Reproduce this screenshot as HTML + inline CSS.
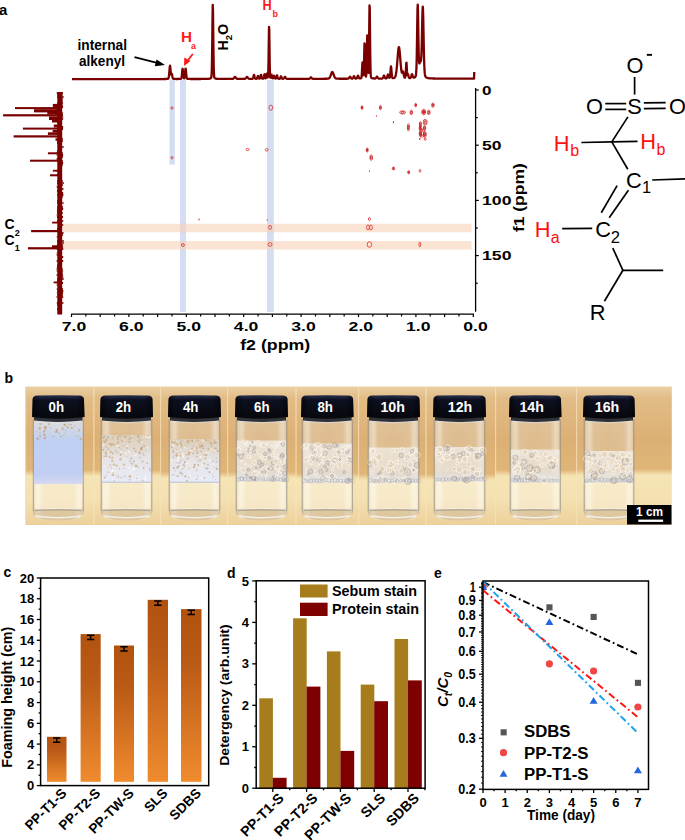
<!DOCTYPE html>
<html><head><meta charset="utf-8"><style>
html,body{margin:0;padding:0;background:#fff;width:685px;height:840px;overflow:hidden}
svg{display:block;font-family:"Liberation Sans", sans-serif}
</style></head><body>
<svg width="685" height="840" viewBox="0 0 685 840">
<text x="-1.00" y="15.00" font-size="15" font-weight="bold" fill="#000" text-anchor="start" >a</text>
<rect x="169.5" y="80" width="5.4" height="84.5" fill="#d5ddf2"/>
<rect x="180" y="80" width="6" height="232" fill="#d5ddf2"/>
<rect x="267" y="80" width="6.8" height="232" fill="#d5ddf2"/>
<rect x="63" y="223.8" width="408.6" height="8.5" fill="#f8d2b6" fill-opacity="0.6"/>
<rect x="63" y="241" width="408.6" height="8.6" fill="#f8d2b6" fill-opacity="0.6"/>
<polyline fill="none" stroke="#7a0000" stroke-width="2.3" stroke-linejoin="round" points="72.00,79.20 72.25,79.20 72.50,79.20 72.75,79.20 73.00,79.20 73.25,79.20 73.50,79.20 73.75,79.20 74.00,79.20 74.25,79.20 74.50,79.20 74.75,79.19 75.00,79.19 75.25,79.19 75.50,79.19 75.75,79.19 76.00,79.19 76.25,79.19 76.50,79.19 76.75,79.19 77.00,79.19 77.25,79.19 77.50,79.19 77.75,79.19 78.00,79.19 78.25,79.19 78.50,79.19 78.75,79.19 79.00,79.19 79.25,79.19 79.50,79.19 79.75,79.19 80.00,79.19 80.25,79.19 80.50,79.19 80.75,79.19 81.00,79.19 81.25,79.19 81.50,79.18 81.75,79.18 82.00,79.18 82.25,79.18 82.50,79.18 82.75,79.18 83.00,79.18 83.25,79.18 83.50,79.18 83.75,79.18 84.00,79.18 84.25,79.18 84.50,79.18 84.75,79.18 85.00,79.18 85.25,79.18 85.50,79.18 85.75,79.18 86.00,79.18 86.25,79.18 86.50,79.18 86.75,79.18 87.00,79.18 87.25,79.18 87.50,79.18 87.75,79.18 88.00,79.17 88.25,79.17 88.50,79.17 88.75,79.17 89.00,79.17 89.25,79.17 89.50,79.17 89.75,79.17 90.00,79.17 90.25,79.17 90.50,79.17 90.75,79.17 91.00,79.17 91.25,79.17 91.50,79.17 91.75,79.17 92.00,79.17 92.25,79.17 92.50,79.17 92.75,79.17 93.00,79.17 93.25,79.17 93.50,79.17 93.75,79.17 94.00,79.17 94.25,79.17 94.50,79.16 94.75,79.16 95.00,79.16 95.25,79.16 95.50,79.16 95.75,79.16 96.00,79.16 96.25,79.16 96.50,79.16 96.75,79.16 97.00,79.16 97.25,79.16 97.50,79.16 97.75,79.16 98.00,79.16 98.25,79.16 98.50,79.16 98.75,79.16 99.00,79.16 99.25,79.16 99.50,79.16 99.75,79.16 100.00,79.16 100.25,79.16 100.50,79.16 100.75,79.16 101.00,79.16 101.25,79.15 101.50,79.15 101.75,79.15 102.00,79.15 102.25,79.15 102.50,79.15 102.75,79.15 103.00,79.15 103.25,79.15 103.50,79.15 103.75,79.15 104.00,79.15 104.25,79.15 104.50,79.15 104.75,79.15 105.00,79.15 105.25,79.15 105.50,79.15 105.75,79.15 106.00,79.15 106.25,79.15 106.50,79.15 106.75,79.15 107.00,79.15 107.25,79.15 107.50,79.15 107.75,79.14 108.00,79.14 108.25,79.14 108.50,79.14 108.75,79.14 109.00,79.14 109.25,79.14 109.50,79.14 109.75,79.14 110.00,79.14 110.25,79.14 110.50,79.14 110.75,79.14 111.00,79.14 111.25,79.14 111.50,79.14 111.75,79.14 112.00,79.14 112.25,79.14 112.50,79.14 112.75,79.14 113.00,79.14 113.25,79.14 113.50,79.14 113.75,79.14 114.00,79.14 114.25,79.13 114.50,79.13 114.75,79.13 115.00,79.13 115.25,79.13 115.50,79.13 115.75,79.13 116.00,79.13 116.25,79.13 116.50,79.13 116.75,79.13 117.00,79.13 117.25,79.13 117.50,79.13 117.75,79.13 118.00,79.13 118.25,79.13 118.50,79.13 118.75,79.13 119.00,79.13 119.25,79.13 119.50,79.13 119.75,79.13 120.00,79.13 120.25,79.13 120.50,79.13 120.75,79.12 121.00,79.12 121.25,79.12 121.50,79.12 121.75,79.12 122.00,79.12 122.25,79.12 122.50,79.12 122.75,79.12 123.00,79.12 123.25,79.12 123.50,79.12 123.75,79.12 124.00,79.12 124.25,79.12 124.50,79.12 124.75,79.12 125.00,79.12 125.25,79.12 125.50,79.12 125.75,79.12 126.00,79.12 126.25,79.12 126.50,79.12 126.75,79.12 127.00,79.12 127.25,79.11 127.50,79.11 127.75,79.11 128.00,79.11 128.25,79.11 128.50,79.11 128.75,79.11 129.00,79.11 129.25,79.11 129.50,79.11 129.75,79.11 130.00,79.11 130.25,79.11 130.50,79.11 130.75,79.11 131.00,79.11 131.25,79.11 131.50,79.11 131.75,79.11 132.00,79.11 132.25,79.11 132.50,79.11 132.75,79.11 133.00,79.11 133.25,79.11 133.50,79.10 133.75,79.10 134.00,79.10 134.25,79.10 134.50,79.10 134.75,79.10 135.00,79.10 135.25,79.10 135.50,79.10 135.75,79.10 136.00,79.10 136.25,79.10 136.50,79.10 136.75,79.10 137.00,79.10 137.25,79.10 137.50,79.10 137.75,79.10 138.00,79.10 138.25,79.10 138.50,79.10 138.75,79.10 139.00,79.10 139.25,79.10 139.50,79.10 139.75,79.09 140.00,79.09 140.25,79.09 140.50,79.09 140.75,79.09 141.00,79.09 141.25,79.09 141.50,79.09 141.75,79.09 142.00,79.09 142.25,79.09 142.50,79.09 142.75,79.09 143.00,79.09 143.25,79.09 143.50,79.09 143.75,79.09 144.00,79.09 144.25,79.09 144.50,79.09 144.75,79.09 145.00,79.09 145.25,79.09 145.50,79.09 145.75,79.08 146.00,79.08 146.25,79.08 146.50,79.08 146.75,79.08 147.00,79.08 147.25,79.08 147.50,79.08 147.75,79.08 148.00,79.08 148.25,79.08 148.50,79.08 148.75,79.08 149.00,79.08 149.25,79.08 149.50,79.08 149.75,79.08 150.00,79.08 150.25,79.08 150.50,79.08 150.75,79.08 151.00,79.08 151.25,79.07 151.50,79.07 151.75,79.07 152.00,79.07 152.25,79.07 152.50,79.07 152.75,79.07 153.00,79.07 153.25,79.07 153.50,79.07 153.75,79.07 154.00,79.07 154.25,79.07 154.50,79.07 154.75,79.07 155.00,79.07 155.25,79.07 155.50,79.07 155.75,79.06 156.00,79.06 156.25,79.06 156.50,79.06 156.75,79.06 157.00,79.06 157.25,79.06 157.50,79.06 157.75,79.06 158.00,79.06 158.25,79.06 158.50,79.06 158.75,79.06 159.00,79.06 159.25,79.05 159.50,79.05 159.75,79.05 160.00,79.05 160.25,79.05 160.50,79.05 160.75,79.05 161.00,79.05 161.25,79.05 161.50,79.04 161.75,79.04 162.00,79.04 162.25,79.04 162.50,79.04 162.75,79.04 163.00,79.04 163.25,79.03 163.50,79.03 163.75,79.03 164.00,79.03 164.25,79.02 164.50,79.02 164.75,79.01 165.00,79.01 165.25,79.01 165.50,79.00 165.75,78.99 166.00,78.99 166.25,78.98 166.50,78.97 166.75,78.95 167.00,78.94 167.25,78.92 167.50,78.89 167.75,78.85 168.00,78.77 168.25,78.60 168.50,78.20 168.75,77.31 169.00,75.62 169.25,72.98 169.50,69.74 169.75,66.87 170.00,65.66 170.25,66.79 170.50,69.49 170.75,72.33 171.00,74.14 171.25,74.55 171.50,74.04 171.75,73.64 172.00,74.17 172.25,75.50 172.50,76.92 172.75,77.96 173.00,78.52 173.25,78.76 173.50,78.86 173.75,78.90 174.00,78.92 174.25,78.94 174.50,78.95 174.75,78.96 175.00,78.96 175.25,78.97 175.50,78.97 175.75,78.98 176.00,78.98 176.25,78.98 176.50,78.98 176.75,78.98 177.00,78.98 177.25,78.98 177.50,78.98 177.75,78.98 178.00,78.98 178.25,78.98 178.50,78.97 178.75,78.97 179.00,78.96 179.25,78.96 179.50,78.95 179.75,78.94 180.00,78.92 180.25,78.90 180.50,78.88 180.75,78.84 181.00,78.74 181.25,78.47 181.50,77.77 181.75,76.27 182.00,73.78 182.25,70.83 182.50,68.77 182.75,69.02 183.00,71.37 183.25,74.29 183.50,76.56 183.75,77.83 184.00,78.32 184.25,78.26 184.50,77.63 184.75,76.14 185.00,73.63 185.25,70.64 185.50,68.57 185.75,68.84 186.00,71.25 186.25,74.26 186.50,76.60 186.75,77.94 187.00,78.54 187.25,78.76 187.50,78.84 187.75,78.88 188.00,78.90 188.25,78.92 188.50,78.93 188.75,78.94 189.00,78.95 189.25,78.96 189.50,78.96 189.75,78.97 190.00,78.97 190.25,78.98 190.50,78.98 190.75,78.98 191.00,78.98 191.25,78.98 191.50,78.99 191.75,78.99 192.00,78.99 192.25,78.99 192.50,78.99 192.75,78.99 193.00,78.99 193.25,78.99 193.50,78.99 193.75,78.99 194.00,78.99 194.25,78.99 194.50,78.99 194.75,78.99 195.00,78.99 195.25,78.99 195.50,78.99 195.75,78.99 196.00,78.99 196.25,78.99 196.50,78.99 196.75,78.99 197.00,78.99 197.25,78.99 197.50,78.99 197.75,78.99 198.00,78.99 198.25,78.98 198.50,78.98 198.75,78.98 199.00,78.98 199.25,78.98 199.50,78.98 199.75,78.98 200.00,78.98 200.25,78.98 200.50,78.98 200.75,78.98 201.00,78.97 201.25,78.97 201.50,78.97 201.75,78.97 202.00,78.97 202.25,78.97 202.50,78.97 202.75,78.96 203.00,78.96 203.25,78.96 203.50,78.96 203.75,78.95 204.00,78.95 204.25,78.95 204.50,78.95 204.75,78.94 205.00,78.94 205.25,78.93 205.50,78.93 205.75,78.93 206.00,78.92 206.25,78.91 206.50,78.91 206.75,78.90 207.00,78.89 207.25,78.88 207.50,78.87 207.75,78.86 208.00,78.85 208.25,78.83 208.50,78.81 208.75,78.79 209.00,78.76 209.25,78.73 209.50,78.69 209.75,78.64 210.00,78.57 210.25,78.49 210.50,78.38 210.75,78.23 211.00,77.99 211.25,77.48 211.50,75.98 211.75,71.53 212.00,60.80 212.25,41.73 212.50,18.79 212.75,4.84 213.00,11.25 213.25,32.44 213.50,54.12 213.75,68.19 214.00,74.71 214.25,77.07 214.50,77.84 214.75,78.15 215.00,78.32 215.25,78.44 215.50,78.53 215.75,78.60 216.00,78.66 216.25,78.70 216.50,78.74 216.75,78.76 217.00,78.79 217.25,78.81 217.50,78.82 217.75,78.84 218.00,78.85 218.25,78.86 218.50,78.87 218.75,78.88 219.00,78.89 219.25,78.89 219.50,78.90 219.75,78.90 220.00,78.91 220.25,78.91 220.50,78.91 220.75,78.92 221.00,78.92 221.25,78.92 221.50,78.92 221.75,78.93 222.00,78.93 222.25,78.93 222.50,78.93 222.75,78.93 223.00,78.93 223.25,78.93 223.50,78.94 223.75,78.94 224.00,78.94 224.25,78.94 224.50,78.94 224.75,78.94 225.00,78.94 225.25,78.94 225.50,78.94 225.75,78.94 226.00,78.94 226.25,78.94 226.50,78.94 226.75,78.94 227.00,78.94 227.25,78.94 227.50,78.94 227.75,78.94 228.00,78.94 228.25,78.94 228.50,78.94 228.75,78.94 229.00,78.94 229.25,78.94 229.50,78.94 229.75,78.93 230.00,78.93 230.25,78.93 230.50,78.93 230.75,78.93 231.00,78.93 231.25,78.92 231.50,78.92 231.75,78.92 232.00,78.91 232.25,78.90 232.50,78.88 232.75,78.84 233.00,78.78 233.25,78.67 233.50,78.49 233.75,78.25 234.00,77.94 234.25,77.60 234.50,77.27 234.75,77.03 235.00,76.94 235.25,77.03 235.50,77.27 235.75,77.60 236.00,77.94 236.25,78.25 236.50,78.49 236.75,78.66 237.00,78.77 237.25,78.84 237.50,78.87 237.75,78.89 238.00,78.90 238.25,78.91 238.50,78.91 238.75,78.91 239.00,78.91 239.25,78.92 239.50,78.92 239.75,78.92 240.00,78.92 240.25,78.92 240.50,78.92 240.75,78.92 241.00,78.92 241.25,78.92 241.50,78.92 241.75,78.92 242.00,78.91 242.25,78.91 242.50,78.91 242.75,78.91 243.00,78.91 243.25,78.91 243.50,78.90 243.75,78.90 244.00,78.89 244.25,78.88 244.50,78.86 244.75,78.82 245.00,78.76 245.25,78.65 245.50,78.47 245.75,78.23 246.00,77.92 246.25,77.58 246.50,77.25 246.75,77.01 247.00,76.92 247.25,77.01 247.50,77.25 247.75,77.57 248.00,77.92 248.25,78.22 248.50,78.46 248.75,78.63 249.00,78.74 249.25,78.81 249.50,78.84 249.75,78.86 250.00,78.87 250.25,78.87 250.50,78.87 250.75,78.87 251.00,78.87 251.25,78.87 251.50,78.86 251.75,78.86 252.00,78.85 252.25,78.82 252.50,78.77 252.75,78.62 253.00,78.24 253.25,77.51 253.50,76.44 253.75,75.37 254.00,74.89 254.25,75.36 254.50,76.43 254.75,77.50 255.00,78.23 255.25,78.60 255.50,78.74 255.75,78.79 256.00,78.80 256.25,78.79 256.50,78.76 256.75,78.65 257.00,78.37 257.25,77.82 257.50,77.02 257.75,76.21 258.00,75.85 258.25,76.21 258.50,77.00 258.75,77.80 259.00,78.34 259.25,78.59 259.50,78.65 259.75,78.54 260.00,78.18 260.25,77.45 260.50,76.39 260.75,75.32 261.00,74.84 261.25,75.31 261.50,76.38 261.75,77.45 262.00,78.17 262.25,78.54 262.50,78.68 262.75,78.72 263.00,78.71 263.25,78.65 263.50,78.42 263.75,77.78 264.00,76.54 264.25,75.02 264.50,74.26 264.75,74.99 265.00,76.48 265.25,77.69 265.50,78.25 265.75,78.26 266.00,77.71 266.25,76.46 266.50,74.74 266.75,73.60 267.00,74.05 267.25,75.57 267.50,76.92 267.75,77.45 268.00,76.79 268.25,73.16 268.50,62.59 268.75,43.74 269.00,26.94 269.25,29.22 269.50,47.89 269.75,65.45 270.00,74.33 270.25,77.17 270.50,77.71 270.75,77.39 271.00,76.43 271.25,75.17 271.50,74.57 271.75,75.28 272.00,76.65 272.25,77.76 272.50,78.30 272.75,78.41 273.00,78.21 273.25,77.69 273.50,76.91 273.75,76.12 274.00,75.77 274.25,76.13 274.50,76.94 274.75,77.74 275.00,78.28 275.25,78.55 275.50,78.62 275.75,78.53 276.00,78.22 276.25,77.60 276.50,76.67 276.75,75.73 277.00,75.32 277.25,75.74 277.50,76.68 277.75,77.62 278.00,78.26 278.25,78.58 278.50,78.72 278.75,78.76 279.00,78.77 279.25,78.77 279.50,78.74 279.75,78.65 280.00,78.42 280.25,77.97 280.50,77.30 280.75,76.63 281.00,76.34 281.25,76.64 281.50,77.31 281.75,77.97 282.00,78.43 282.25,78.66 282.50,78.75 282.75,78.77 283.00,78.76 283.25,78.72 283.50,78.62 283.75,78.44 284.00,78.15 284.25,77.77 284.50,77.34 284.75,76.99 285.00,76.85 285.25,76.99 285.50,77.34 285.75,77.77 286.00,78.16 286.25,78.46 286.50,78.64 286.75,78.74 287.00,78.79 287.25,78.82 287.50,78.83 287.75,78.83 288.00,78.84 288.25,78.84 288.50,78.84 288.75,78.84 289.00,78.85 289.25,78.85 289.50,78.85 289.75,78.85 290.00,78.85 290.25,78.85 290.50,78.85 290.75,78.85 291.00,78.85 291.25,78.85 291.50,78.85 291.75,78.85 292.00,78.85 292.25,78.85 292.50,78.85 292.75,78.85 293.00,78.85 293.25,78.85 293.50,78.85 293.75,78.85 294.00,78.85 294.25,78.85 294.50,78.85 294.75,78.85 295.00,78.85 295.25,78.85 295.50,78.85 295.75,78.85 296.00,78.85 296.25,78.85 296.50,78.85 296.75,78.85 297.00,78.85 297.25,78.85 297.50,78.85 297.75,78.85 298.00,78.85 298.25,78.85 298.50,78.85 298.75,78.85 299.00,78.85 299.25,78.85 299.50,78.85 299.75,78.84 300.00,78.84 300.25,78.84 300.50,78.84 300.75,78.84 301.00,78.84 301.25,78.84 301.50,78.84 301.75,78.84 302.00,78.84 302.25,78.84 302.50,78.84 302.75,78.84 303.00,78.84 303.25,78.84 303.50,78.84 303.75,78.84 304.00,78.84 304.25,78.84 304.50,78.84 304.75,78.83 305.00,78.83 305.25,78.83 305.50,78.83 305.75,78.83 306.00,78.83 306.25,78.83 306.50,78.83 306.75,78.83 307.00,78.83 307.25,78.82 307.50,78.82 307.75,78.82 308.00,78.82 308.25,78.81 308.50,78.81 308.75,78.80 309.00,78.78 309.25,78.75 309.50,78.67 309.75,78.53 310.00,78.31 310.25,78.02 310.50,77.69 310.75,77.43 311.00,77.33 311.25,77.43 311.50,77.69 311.75,78.01 312.00,78.31 312.25,78.52 312.50,78.66 312.75,78.74 313.00,78.77 313.25,78.79 313.50,78.80 313.75,78.80 314.00,78.80 314.25,78.81 314.50,78.81 314.75,78.81 315.00,78.81 315.25,78.81 315.50,78.81 315.75,78.81 316.00,78.81 316.25,78.81 316.50,78.81 316.75,78.81 317.00,78.81 317.25,78.81 317.50,78.81 317.75,78.81 318.00,78.81 318.25,78.80 318.50,78.80 318.75,78.80 319.00,78.80 319.25,78.80 319.50,78.80 319.75,78.80 320.00,78.80 320.25,78.80 320.50,78.80 320.75,78.80 321.00,78.79 321.25,78.79 321.50,78.79 321.75,78.79 322.00,78.79 322.25,78.79 322.50,78.79 322.75,78.78 323.00,78.78 323.25,78.78 323.50,78.78 323.75,78.78 324.00,78.77 324.25,78.77 324.50,78.77 324.75,78.76 325.00,78.76 325.25,78.76 325.50,78.75 325.75,78.75 326.00,78.74 326.25,78.74 326.50,78.73 326.75,78.73 327.00,78.72 327.25,78.71 327.50,78.69 327.75,78.67 328.00,78.64 328.25,78.60 328.50,78.53 328.75,78.44 329.00,78.31 329.25,78.12 329.50,77.86 329.75,77.52 330.00,77.09 330.25,76.56 330.50,75.95 330.75,75.26 331.00,74.53 331.25,73.80 331.50,73.12 331.75,72.56 332.00,72.17 332.25,72.00 332.50,72.07 332.75,72.38 333.00,72.88 333.25,73.51 333.50,74.23 333.75,74.96 334.00,75.67 334.25,76.32 334.50,76.88 334.75,77.35 335.00,77.72 335.25,78.01 335.50,78.22 335.75,78.38 336.00,78.48 336.25,78.56 336.50,78.61 336.75,78.64 337.00,78.66 337.25,78.68 337.50,78.69 337.75,78.70 338.00,78.71 338.25,78.71 338.50,78.72 338.75,78.72 339.00,78.72 339.25,78.73 339.50,78.73 339.75,78.73 340.00,78.73 340.25,78.74 340.50,78.74 340.75,78.74 341.00,78.74 341.25,78.74 341.50,78.74 341.75,78.74 342.00,78.74 342.25,78.74 342.50,78.74 342.75,78.74 343.00,78.74 343.25,78.74 343.50,78.74 343.75,78.74 344.00,78.74 344.25,78.74 344.50,78.74 344.75,78.74 345.00,78.74 345.25,78.74 345.50,78.74 345.75,78.74 346.00,78.73 346.25,78.73 346.50,78.73 346.75,78.73 347.00,78.72 347.25,78.72 347.50,78.71 347.75,78.70 348.00,78.67 348.25,78.62 348.50,78.52 348.75,78.34 349.00,78.04 349.25,77.65 349.50,77.22 349.75,76.87 350.00,76.72 350.25,76.86 350.50,77.21 350.75,77.63 351.00,78.02 351.25,78.31 351.50,78.49 351.75,78.58 352.00,78.61 352.25,78.60 352.50,78.54 352.75,78.37 353.00,78.06 353.25,77.56 353.50,76.96 353.75,76.42 354.00,76.19 354.25,76.41 354.50,76.95 354.75,77.55 355.00,78.04 355.25,78.35 355.50,78.51 355.75,78.57 356.00,78.58 356.25,78.55 356.50,78.47 356.75,78.27 357.00,77.89 357.25,77.29 357.50,76.56 357.75,75.91 358.00,75.64 358.25,75.90 358.50,76.53 358.75,77.25 359.00,77.83 359.25,78.20 359.50,78.38 359.75,78.45 360.00,78.47 360.25,78.45 360.50,78.42 360.75,78.36 361.00,78.27 361.25,78.01 361.50,77.17 361.75,74.87 362.00,70.43 362.25,65.02 362.50,62.31 362.75,64.87 363.00,70.08 363.25,74.13 363.50,75.23 363.75,72.51 364.00,64.76 364.25,52.88 364.50,43.33 364.75,44.56 365.00,55.30 365.25,66.67 365.50,73.53 365.75,76.19 366.00,76.56 366.25,75.07 366.50,70.06 366.75,59.39 367.00,44.86 367.25,35.34 367.50,39.67 367.75,53.41 368.00,65.98 368.25,72.46 368.50,72.85 368.75,66.37 369.00,50.05 369.25,25.33 369.50,5.51 369.75,8.19 370.00,30.71 370.25,54.58 370.50,69.14 370.75,75.13 371.00,77.00 371.25,77.59 371.50,77.85 371.75,78.01 372.00,78.13 372.25,78.22 372.50,78.29 372.75,78.34 373.00,78.38 373.25,78.42 373.50,78.45 373.75,78.47 374.00,78.48 374.25,78.50 374.50,78.51 374.75,78.51 375.00,78.50 375.25,78.46 375.50,78.36 375.75,78.18 376.00,77.90 376.25,77.51 376.50,77.09 376.75,76.74 377.00,76.61 377.25,76.75 377.50,77.10 377.75,77.53 378.00,77.92 378.25,78.22 378.50,78.40 378.75,78.51 379.00,78.55 379.25,78.58 379.50,78.59 379.75,78.59 380.00,78.59 380.25,78.60 380.50,78.59 380.75,78.59 381.00,78.59 381.25,78.59 381.50,78.58 381.75,78.57 382.00,78.55 382.25,78.52 382.50,78.42 382.75,78.22 383.00,77.84 383.25,77.24 383.50,76.51 383.75,75.86 384.00,75.59 384.25,75.85 384.50,76.49 384.75,77.21 385.00,77.80 385.25,78.17 385.50,78.36 385.75,78.43 386.00,78.44 386.25,78.40 386.50,78.28 386.75,78.01 387.00,77.50 387.25,76.71 387.50,75.73 387.75,74.86 388.00,74.49 388.25,74.83 388.50,75.67 388.75,76.61 389.00,77.36 389.25,77.80 389.50,77.89 389.75,77.55 390.00,76.47 390.25,74.29 390.50,71.08 390.75,67.86 391.00,66.43 391.25,67.84 391.50,71.05 391.75,74.25 392.00,76.42 392.25,77.52 392.50,77.96 392.75,78.10 393.00,78.13 393.25,78.13 393.50,78.10 393.75,78.06 394.00,77.99 394.25,77.88 394.50,77.73 394.75,77.50 395.00,77.16 395.25,76.68 395.50,76.00 395.75,75.08 396.00,73.86 396.25,72.28 396.50,70.33 396.75,67.98 397.00,65.27 397.25,62.26 397.50,59.08 397.75,55.88 398.00,52.88 398.25,50.29 398.50,48.36 398.75,47.28 399.00,47.17 399.25,48.05 399.50,49.82 399.75,52.28 400.00,55.21 400.25,58.36 400.50,61.54 400.75,64.56 401.00,67.26 401.25,69.53 401.50,71.26 401.75,72.35 402.00,72.76 402.25,72.56 402.50,71.98 402.75,71.45 403.00,71.39 403.25,72.05 403.50,73.26 403.75,74.65 404.00,75.89 404.25,76.80 404.50,77.37 404.75,77.65 405.00,77.70 405.25,77.39 405.50,76.16 405.75,73.09 406.00,68.02 406.25,63.22 406.50,62.63 406.75,66.74 407.00,71.67 407.25,74.49 407.50,74.99 407.75,74.43 408.00,74.11 408.25,74.65 408.50,75.75 408.75,76.84 409.00,77.59 409.25,77.96 409.50,78.11 409.75,78.15 410.00,78.13 410.25,78.04 410.50,77.84 410.75,77.47 411.00,76.88 411.25,76.09 411.50,75.22 411.75,74.50 412.00,74.21 412.25,74.46 412.50,75.13 412.75,75.95 413.00,76.69 413.25,77.22 413.50,77.53 413.75,77.65 414.00,77.65 414.25,77.58 414.50,77.47 414.75,77.31 415.00,77.11 415.25,76.85 415.50,76.49 415.75,75.89 416.00,74.65 416.25,71.93 416.50,66.27 416.75,56.07 417.00,40.94 417.25,23.33 417.50,8.93 417.75,4.53 418.00,12.36 418.25,27.54 418.50,43.17 418.75,54.72 419.00,61.08 419.25,63.40 419.50,63.48 419.75,62.73 420.00,61.98 420.25,61.57 420.50,61.48 420.75,61.32 421.00,60.36 421.25,57.68 421.50,52.35 421.75,43.91 422.00,32.86 422.25,20.95 422.50,11.10 422.75,6.60 423.00,9.39 423.25,18.65 423.50,31.44 423.75,44.61 424.00,55.91 424.25,64.30 424.50,69.83 424.75,73.13 425.00,74.96 425.25,75.96 425.50,76.54 425.75,76.90 426.00,77.17 426.25,77.37 426.50,77.54 426.75,77.68 427.00,77.79 427.25,77.89 427.50,77.98 427.75,78.04 428.00,78.10 428.25,78.15 428.50,78.20 428.75,78.23 429.00,78.26 429.25,78.29 429.50,78.32 429.75,78.34 430.00,78.36 430.25,78.37 430.50,78.39 430.75,78.40 431.00,78.42 431.25,78.43 431.50,78.44 431.75,78.45 432.00,78.46 432.25,78.46 432.50,78.47 432.75,78.48 433.00,78.49 433.25,78.49 433.50,78.50 433.75,78.50 434.00,78.51 434.25,78.51 434.50,78.52 434.75,78.52 435.00,78.53 435.25,78.53 435.50,78.53 435.75,78.54 436.00,78.54 436.25,78.54 436.50,78.55 436.75,78.55 437.00,78.55 437.25,78.55 437.50,78.56 437.75,78.56 438.00,78.56 438.25,78.56 438.50,78.57 438.75,78.57 439.00,78.57 439.25,78.57 439.50,78.57 439.75,78.57 440.00,78.57 440.25,78.58 440.50,78.58 440.75,78.58 441.00,78.58 441.25,78.58 441.50,78.58 441.75,78.58 442.00,78.58 442.25,78.58 442.50,78.59 442.75,78.59 443.00,78.59 443.25,78.59 443.50,78.59 443.75,78.59 444.00,78.59 444.25,78.59 444.50,78.59 444.75,78.59 445.00,78.59 445.25,78.59 445.50,78.59 445.75,78.59 446.00,78.59 446.25,78.59 446.50,78.60 446.75,78.60 447.00,78.60 447.25,78.60 447.50,78.60 447.75,78.60 448.00,78.60 448.25,78.60 448.50,78.60 448.75,78.60 449.00,78.60 449.25,78.60 449.50,78.60 449.75,78.60 450.00,78.60 450.25,78.60 450.50,78.60 450.75,78.60 451.00,78.60 451.25,78.60 451.50,78.60 451.75,78.60 452.00,78.60 452.25,78.60 452.50,78.60 452.75,78.60 453.00,78.60 453.25,78.60 453.50,78.60 453.75,78.60 454.00,78.60 454.25,78.60 454.50,78.60 454.75,78.60 455.00,78.60 455.25,78.60 455.50,78.60 455.75,78.60 456.00,78.60 456.25,78.60 456.50,78.60 456.75,78.60 457.00,78.60 457.25,78.60 457.50,78.60 457.75,78.60 458.00,78.60 458.25,78.60 458.50,78.60 458.75,78.60 459.00,78.60 459.25,78.60 459.50,78.60 459.75,78.60 460.00,78.60 460.25,78.60 460.50,78.60 460.75,78.60 461.00,78.60 461.25,78.60 461.50,78.60 461.75,78.60 462.00,78.60 462.25,78.60 462.50,78.60 462.75,78.60 463.00,78.60 463.25,78.60 463.50,78.60 463.75,78.60 464.00,78.59 464.25,78.59 464.50,78.59 464.75,78.59 465.00,78.59 465.25,78.59 465.50,78.59 465.75,78.59 466.00,78.59 466.25,78.59 466.50,78.59 466.75,78.59 467.00,78.59 467.25,78.59 467.50,78.59 467.75,78.59 468.00,78.59 468.25,78.59 468.50,78.59 468.75,78.59 469.00,78.59 469.25,78.59 469.50,78.59 469.75,78.59 470.00,78.59 470.25,78.59 470.50,78.59 470.75,78.59 471.00,78.59 471.25,78.59 471.50,78.59 471.75,78.59 472.00,78.59 472.25,78.59 472.50,78.59 472.75,78.59 473.00,78.59 473.25,78.59 473.50,78.59 473.75,78.59 474.00,78.59 474.30,72.00"/>
<rect x="57.3" y="92" width="4.9" height="222.5" fill="#7a0000"/>
<rect x="56.72" y="92" width="0.99" height="2" fill="#7a0000"/>
<rect x="62.12" y="92" width="0.89" height="2" fill="#7a0000"/>
<rect x="57.01" y="94" width="0.62" height="2" fill="#7a0000"/>
<rect x="61.84" y="94" width="0.67" height="2" fill="#7a0000"/>
<rect x="57.26" y="96" width="0.67" height="2" fill="#7a0000"/>
<rect x="62.18" y="96" width="1.36" height="2" fill="#7a0000"/>
<rect x="62.39" y="98" width="0.64" height="2" fill="#7a0000"/>
<rect x="61.89" y="100" width="0.69" height="2" fill="#7a0000"/>
<rect x="57.25" y="102" width="0.71" height="2" fill="#7a0000"/>
<rect x="62.18" y="102" width="0.90" height="2" fill="#7a0000"/>
<rect x="61.84" y="104" width="0.76" height="2" fill="#7a0000"/>
<rect x="61.99" y="106" width="1.07" height="2" fill="#7a0000"/>
<rect x="56.84" y="108" width="1.08" height="2" fill="#7a0000"/>
<rect x="57.06" y="110" width="0.92" height="2" fill="#7a0000"/>
<rect x="62.39" y="112" width="0.69" height="2" fill="#7a0000"/>
<rect x="57.21" y="114" width="0.69" height="2" fill="#7a0000"/>
<rect x="61.82" y="114" width="1.13" height="2" fill="#7a0000"/>
<rect x="62.33" y="116" width="0.85" height="2" fill="#7a0000"/>
<rect x="62.15" y="118" width="0.96" height="2" fill="#7a0000"/>
<rect x="57.13" y="122" width="0.64" height="2" fill="#7a0000"/>
<rect x="62.03" y="126" width="1.13" height="2" fill="#7a0000"/>
<rect x="56.97" y="128" width="0.70" height="2" fill="#7a0000"/>
<rect x="61.84" y="128" width="1.21" height="2" fill="#7a0000"/>
<rect x="56.80" y="130" width="0.83" height="2" fill="#7a0000"/>
<rect x="56.96" y="132" width="0.93" height="2" fill="#7a0000"/>
<rect x="56.93" y="136" width="0.82" height="2" fill="#7a0000"/>
<rect x="61.91" y="138" width="0.79" height="2" fill="#7a0000"/>
<rect x="56.99" y="140" width="0.95" height="2" fill="#7a0000"/>
<rect x="61.80" y="140" width="0.94" height="2" fill="#7a0000"/>
<rect x="57.05" y="142" width="1.17" height="2" fill="#7a0000"/>
<rect x="62.34" y="146" width="1.22" height="2" fill="#7a0000"/>
<rect x="56.92" y="150" width="0.66" height="2" fill="#7a0000"/>
<rect x="56.65" y="152" width="0.73" height="2" fill="#7a0000"/>
<rect x="62.00" y="152" width="0.64" height="2" fill="#7a0000"/>
<rect x="56.72" y="154" width="0.66" height="2" fill="#7a0000"/>
<rect x="61.82" y="154" width="1.30" height="2" fill="#7a0000"/>
<rect x="61.95" y="156" width="0.88" height="2" fill="#7a0000"/>
<rect x="56.70" y="158" width="1.11" height="2" fill="#7a0000"/>
<rect x="56.99" y="160" width="0.65" height="2" fill="#7a0000"/>
<rect x="62.01" y="160" width="0.81" height="2" fill="#7a0000"/>
<rect x="61.81" y="162" width="1.36" height="2" fill="#7a0000"/>
<rect x="62.13" y="164" width="0.62" height="2" fill="#7a0000"/>
<rect x="56.89" y="170" width="0.70" height="2" fill="#7a0000"/>
<rect x="56.78" y="174" width="1.09" height="2" fill="#7a0000"/>
<rect x="57.01" y="180" width="0.81" height="2" fill="#7a0000"/>
<rect x="61.82" y="180" width="0.82" height="2" fill="#7a0000"/>
<rect x="57.15" y="182" width="1.17" height="2" fill="#7a0000"/>
<rect x="62.36" y="182" width="1.39" height="2" fill="#7a0000"/>
<rect x="61.93" y="184" width="0.78" height="2" fill="#7a0000"/>
<rect x="56.76" y="186" width="0.97" height="2" fill="#7a0000"/>
<rect x="62.19" y="188" width="1.24" height="2" fill="#7a0000"/>
<rect x="57.13" y="190" width="1.15" height="2" fill="#7a0000"/>
<rect x="61.91" y="192" width="1.23" height="2" fill="#7a0000"/>
<rect x="57.24" y="194" width="1.18" height="2" fill="#7a0000"/>
<rect x="62.04" y="194" width="1.36" height="2" fill="#7a0000"/>
<rect x="61.88" y="196" width="0.72" height="2" fill="#7a0000"/>
<rect x="57.26" y="200" width="1.19" height="2" fill="#7a0000"/>
<rect x="57.04" y="202" width="0.68" height="2" fill="#7a0000"/>
<rect x="62.38" y="202" width="1.12" height="2" fill="#7a0000"/>
<rect x="57.30" y="206" width="1.10" height="2" fill="#7a0000"/>
<rect x="61.95" y="206" width="0.83" height="2" fill="#7a0000"/>
<rect x="57.07" y="208" width="0.76" height="2" fill="#7a0000"/>
<rect x="61.88" y="208" width="1.33" height="2" fill="#7a0000"/>
<rect x="56.97" y="210" width="0.95" height="2" fill="#7a0000"/>
<rect x="57.33" y="212" width="0.90" height="2" fill="#7a0000"/>
<rect x="62.11" y="212" width="0.61" height="2" fill="#7a0000"/>
<rect x="56.75" y="214" width="0.60" height="2" fill="#7a0000"/>
<rect x="56.98" y="216" width="1.04" height="2" fill="#7a0000"/>
<rect x="62.00" y="216" width="1.01" height="2" fill="#7a0000"/>
<rect x="57.05" y="220" width="0.75" height="2" fill="#7a0000"/>
<rect x="62.26" y="220" width="1.01" height="2" fill="#7a0000"/>
<rect x="62.17" y="224" width="1.00" height="2" fill="#7a0000"/>
<rect x="57.03" y="228" width="0.89" height="2" fill="#7a0000"/>
<rect x="62.14" y="232" width="1.35" height="2" fill="#7a0000"/>
<rect x="61.87" y="234" width="0.95" height="2" fill="#7a0000"/>
<rect x="56.79" y="236" width="0.64" height="2" fill="#7a0000"/>
<rect x="57.17" y="240" width="1.00" height="2" fill="#7a0000"/>
<rect x="62.33" y="240" width="1.37" height="2" fill="#7a0000"/>
<rect x="57.36" y="242" width="0.84" height="2" fill="#7a0000"/>
<rect x="62.39" y="242" width="1.27" height="2" fill="#7a0000"/>
<rect x="56.95" y="244" width="0.91" height="2" fill="#7a0000"/>
<rect x="61.92" y="244" width="0.85" height="2" fill="#7a0000"/>
<rect x="62.13" y="246" width="0.95" height="2" fill="#7a0000"/>
<rect x="56.87" y="248" width="0.97" height="2" fill="#7a0000"/>
<rect x="61.84" y="248" width="1.39" height="2" fill="#7a0000"/>
<rect x="56.81" y="252" width="0.62" height="2" fill="#7a0000"/>
<rect x="56.70" y="254" width="0.85" height="2" fill="#7a0000"/>
<rect x="61.89" y="256" width="1.34" height="2" fill="#7a0000"/>
<rect x="56.65" y="260" width="1.01" height="2" fill="#7a0000"/>
<rect x="61.84" y="260" width="1.35" height="2" fill="#7a0000"/>
<rect x="57.28" y="264" width="0.64" height="2" fill="#7a0000"/>
<rect x="56.87" y="266" width="0.93" height="2" fill="#7a0000"/>
<rect x="56.70" y="268" width="0.92" height="2" fill="#7a0000"/>
<rect x="61.87" y="268" width="0.73" height="2" fill="#7a0000"/>
<rect x="56.76" y="270" width="0.79" height="2" fill="#7a0000"/>
<rect x="62.26" y="270" width="0.83" height="2" fill="#7a0000"/>
<rect x="62.01" y="272" width="0.61" height="2" fill="#7a0000"/>
<rect x="56.61" y="274" width="1.04" height="2" fill="#7a0000"/>
<rect x="61.91" y="274" width="0.98" height="2" fill="#7a0000"/>
<rect x="62.29" y="276" width="0.95" height="2" fill="#7a0000"/>
<rect x="57.27" y="278" width="0.84" height="2" fill="#7a0000"/>
<rect x="62.21" y="278" width="1.39" height="2" fill="#7a0000"/>
<rect x="57.27" y="280" width="1.02" height="2" fill="#7a0000"/>
<rect x="56.88" y="282" width="0.63" height="2" fill="#7a0000"/>
<rect x="61.84" y="282" width="1.19" height="2" fill="#7a0000"/>
<rect x="56.73" y="284" width="0.65" height="2" fill="#7a0000"/>
<rect x="56.79" y="288" width="0.78" height="2" fill="#7a0000"/>
<rect x="61.89" y="288" width="0.96" height="2" fill="#7a0000"/>
<rect x="57.37" y="290" width="1.18" height="2" fill="#7a0000"/>
<rect x="61.95" y="290" width="1.37" height="2" fill="#7a0000"/>
<rect x="56.89" y="292" width="0.60" height="2" fill="#7a0000"/>
<rect x="62.08" y="292" width="1.00" height="2" fill="#7a0000"/>
<rect x="57.00" y="294" width="0.60" height="2" fill="#7a0000"/>
<rect x="61.85" y="294" width="0.92" height="2" fill="#7a0000"/>
<rect x="56.62" y="296" width="0.78" height="2" fill="#7a0000"/>
<rect x="62.15" y="296" width="1.02" height="2" fill="#7a0000"/>
<rect x="56.86" y="302" width="1.19" height="2" fill="#7a0000"/>
<rect x="62.23" y="302" width="1.11" height="2" fill="#7a0000"/>
<rect x="57.27" y="304" width="1.14" height="2" fill="#7a0000"/>
<rect x="57.02" y="308" width="0.90" height="2" fill="#7a0000"/>
<rect x="52.9" y="103.90" width="5.1" height="4" fill="#7a0000"/>
<rect x="47.3" y="112.00" width="10.7" height="2.4" fill="#7a0000"/>
<rect x="49.0" y="116.45" width="9.0" height="3.5" fill="#7a0000"/>
<rect x="52.0" y="119.50" width="6.0" height="3" fill="#7a0000"/>
<rect x="53.8" y="124.50" width="4.2" height="3" fill="#7a0000"/>
<rect x="52.6" y="129.95" width="5.4" height="2.5" fill="#7a0000"/>
<rect x="55.5" y="138.25" width="2.5" height="2.5" fill="#7a0000"/>
<rect x="34.2" y="109.40" width="23.8" height="3" fill="#7a0000"/>
<rect x="52.9" y="104.90" width="5.1" height="1.6" fill="#7a0000"/>
<rect x="15.0" y="107.10" width="43.0" height="2" fill="#7a0000"/>
<rect x="34.0" y="109.45" width="24.0" height="2.5" fill="#7a0000"/>
<rect x="3.1" y="114.20" width="54.9" height="2.2" fill="#7a0000"/>
<rect x="49.0" y="118.00" width="9.0" height="2" fill="#7a0000"/>
<rect x="22.9" y="127.60" width="35.1" height="2" fill="#7a0000"/>
<rect x="47.9" y="132.30" width="10.1" height="2.6" fill="#7a0000"/>
<rect x="13.6" y="135.30" width="44.4" height="2.2" fill="#7a0000"/>
<rect x="47.9" y="152.30" width="10.1" height="2" fill="#7a0000"/>
<rect x="30.0" y="159.70" width="28.0" height="2" fill="#7a0000"/>
<rect x="52.9" y="169.80" width="5.1" height="1.8" fill="#7a0000"/>
<rect x="50.0" y="174.30" width="8.0" height="2" fill="#7a0000"/>
<rect x="52.1" y="221.70" width="5.9" height="1.8" fill="#7a0000"/>
<rect x="31.1" y="230.00" width="26.9" height="2.2" fill="#7a0000"/>
<rect x="27.9" y="247.20" width="30.1" height="2.2" fill="#7a0000"/>
<rect x="52.0" y="245.30" width="6.0" height="3" fill="#7a0000"/>
<rect x="53.6" y="281.50" width="4.4" height="1.8" fill="#7a0000"/>
<ellipse cx="172" cy="108" rx="1.0" ry="1.3" fill="none" stroke="#e02a2a" stroke-width="0.8"/>
<ellipse cx="172" cy="157.7" rx="1.0" ry="1.3" fill="none" stroke="#e02a2a" stroke-width="0.8"/>
<ellipse cx="270.8" cy="107.7" rx="1.8" ry="2.6" fill="none" stroke="#e02a2a" stroke-width="0.8"/>
<ellipse cx="266.7" cy="149.8" rx="1.5" ry="1.3" fill="none" stroke="#e02a2a" stroke-width="0.8"/>
<ellipse cx="247.6" cy="149.5" rx="1.5" ry="1.2" fill="none" stroke="#e02a2a" stroke-width="0.8"/>
<ellipse cx="199" cy="219.4" rx="0.6" ry="1" fill="#e02020"/>
<ellipse cx="182.9" cy="245" rx="1.5" ry="1.4" fill="none" stroke="#e02a2a" stroke-width="0.8"/>
<ellipse cx="362" cy="107.6" rx="0.9" ry="2" fill="none" stroke="#e02a2a" stroke-width="0.8"/>
<ellipse cx="362" cy="107.6" rx="0.45" ry="1.10" fill="none" stroke="#b00000" stroke-width="0.8"/>
<ellipse cx="380.4" cy="107.6" rx="1" ry="2.2" fill="none" stroke="#e02a2a" stroke-width="0.8"/>
<ellipse cx="380.4" cy="107.6" rx="0.50" ry="1.21" fill="none" stroke="#b00000" stroke-width="0.8"/>
<ellipse cx="376.6" cy="116" rx="0.6" ry="0.8" fill="#e02020"/>
<ellipse cx="393.5" cy="122.2" rx="0.7" ry="1" fill="#e02020"/>
<ellipse cx="402.6" cy="112.4" rx="3" ry="1.6" fill="none" stroke="#e02a2a" stroke-width="0.8"/>
<ellipse cx="402.6" cy="112.4" rx="1.50" ry="0.88" fill="none" stroke="#b00000" stroke-width="0.8"/>
<ellipse cx="411.3" cy="112.4" rx="1.3" ry="2.3" fill="none" stroke="#e02a2a" stroke-width="0.8"/>
<ellipse cx="411.3" cy="112.4" rx="0.65" ry="1.26" fill="none" stroke="#b00000" stroke-width="0.8"/>
<ellipse cx="415.7" cy="105.1" rx="0.9" ry="1.8" fill="none" stroke="#e02a2a" stroke-width="0.8"/>
<ellipse cx="415.7" cy="105.1" rx="0.45" ry="0.99" fill="none" stroke="#b00000" stroke-width="0.8"/>
<ellipse cx="423.7" cy="112" rx="2" ry="2.8" fill="none" stroke="#e02a2a" stroke-width="0.8"/>
<ellipse cx="423.7" cy="112" rx="1.00" ry="1.54" fill="none" stroke="#b00000" stroke-width="0.8"/>
<ellipse cx="428.8" cy="112.4" rx="1.4" ry="2.2" fill="none" stroke="#e02a2a" stroke-width="0.8"/>
<ellipse cx="428.8" cy="112.4" rx="0.70" ry="1.21" fill="none" stroke="#b00000" stroke-width="0.8"/>
<ellipse cx="432.9" cy="105.1" rx="1.3" ry="2.2" fill="none" stroke="#e02a2a" stroke-width="0.8"/>
<ellipse cx="432.9" cy="105.1" rx="0.65" ry="1.21" fill="none" stroke="#b00000" stroke-width="0.8"/>
<ellipse cx="425.2" cy="122.2" rx="2" ry="3" fill="none" stroke="#e02a2a" stroke-width="0.8"/>
<ellipse cx="425.2" cy="122.2" rx="1.00" ry="1.65" fill="none" stroke="#b00000" stroke-width="0.8"/>
<ellipse cx="408.4" cy="127.3" rx="1" ry="3.8" fill="none" stroke="#e02a2a" stroke-width="0.8"/>
<ellipse cx="408.4" cy="127.3" rx="0.50" ry="2.09" fill="none" stroke="#b00000" stroke-width="0.8"/>
<ellipse cx="420.4" cy="124.4" rx="1" ry="3" fill="none" stroke="#e02a2a" stroke-width="0.8"/>
<ellipse cx="420.4" cy="124.4" rx="0.50" ry="1.65" fill="none" stroke="#b00000" stroke-width="0.8"/>
<ellipse cx="422.3" cy="133.2" rx="3" ry="4" fill="none" stroke="#e02a2a" stroke-width="0.8"/>
<ellipse cx="422.3" cy="133.2" rx="1.50" ry="2.20" fill="none" stroke="#b00000" stroke-width="0.8"/>
<ellipse cx="419.8" cy="139" rx="0.7" ry="1" fill="#e02020"/>
<ellipse cx="425.2" cy="139" rx="1" ry="1.3" fill="none" stroke="#e02a2a" stroke-width="0.8"/>
<ellipse cx="367.2" cy="150" rx="1" ry="2.2" fill="none" stroke="#e02a2a" stroke-width="0.8"/>
<ellipse cx="367.2" cy="150" rx="0.50" ry="1.21" fill="none" stroke="#b00000" stroke-width="0.8"/>
<ellipse cx="371.2" cy="157.6" rx="1.4" ry="2.8" fill="none" stroke="#e02a2a" stroke-width="0.8"/>
<ellipse cx="371.2" cy="157.6" rx="0.70" ry="1.54" fill="none" stroke="#b00000" stroke-width="0.8"/>
<ellipse cx="369.4" cy="171.1" rx="0.6" ry="0.8" fill="#e02020"/>
<ellipse cx="393.5" cy="168.5" rx="1.2" ry="1.5" fill="none" stroke="#e02a2a" stroke-width="0.8"/>
<ellipse cx="393.5" cy="168.5" rx="0.60" ry="0.83" fill="none" stroke="#b00000" stroke-width="0.8"/>
<ellipse cx="408.7" cy="172.3" rx="1" ry="1.6" fill="none" stroke="#e02a2a" stroke-width="0.8"/>
<ellipse cx="408.7" cy="172.3" rx="0.50" ry="0.88" fill="none" stroke="#b00000" stroke-width="0.8"/>
<ellipse cx="420" cy="170.8" rx="0.8" ry="1.5" fill="none" stroke="#e02a2a" stroke-width="0.8"/>
<ellipse cx="369.4" cy="219" rx="1" ry="1.5" fill="none" stroke="#e02a2a" stroke-width="0.8"/>
<ellipse cx="368" cy="227.4" rx="1.4" ry="2.5" fill="none" stroke="#e02a2a" stroke-width="0.8"/>
<ellipse cx="371" cy="227.4" rx="1.4" ry="2.5" fill="none" stroke="#e02a2a" stroke-width="0.8"/>
<ellipse cx="369.4" cy="244.5" rx="2.2" ry="2.8" fill="none" stroke="#e02a2a" stroke-width="0.8"/>
<ellipse cx="419.8" cy="244.5" rx="0.9" ry="2.4" fill="none" stroke="#e02a2a" stroke-width="0.8"/>
<ellipse cx="270.1" cy="227.4" rx="1.5" ry="2" fill="none" stroke="#e02a2a" stroke-width="0.8"/>
<ellipse cx="270" cy="244.5" rx="2" ry="1.8" fill="none" stroke="#e02a2a" stroke-width="0.8"/>
<ellipse cx="267.2" cy="220" rx="0.6" ry="0.8" fill="#e02020"/>
<ellipse cx="420.2" cy="128" rx="1" ry="3" fill="none" stroke="#e02a2a" stroke-width="0.8"/>
<ellipse cx="420.2" cy="128" rx="0.50" ry="1.65" fill="none" stroke="#b00000" stroke-width="0.8"/>
<ellipse cx="424.5" cy="128" rx="1.2" ry="2.5" fill="none" stroke="#e02a2a" stroke-width="0.8"/>
<ellipse cx="424.5" cy="128" rx="0.60" ry="1.38" fill="none" stroke="#b00000" stroke-width="0.8"/>
<ellipse cx="420.5" cy="134" rx="1.2" ry="3" fill="none" stroke="#e02a2a" stroke-width="0.8"/>
<ellipse cx="420.5" cy="134" rx="0.60" ry="1.65" fill="none" stroke="#b00000" stroke-width="0.8"/>
<ellipse cx="424.8" cy="134.5" rx="1.5" ry="3" fill="none" stroke="#e02a2a" stroke-width="0.8"/>
<ellipse cx="424.8" cy="134.5" rx="0.75" ry="1.65" fill="none" stroke="#b00000" stroke-width="0.8"/>
<ellipse cx="421.5" cy="130" rx="0.8" ry="1.5" fill="none" stroke="#e02a2a" stroke-width="0.8"/>
<ellipse cx="362" cy="107.6" rx="0.6" ry="1.2" fill="#e02020"/>
<ellipse cx="423.7" cy="112" rx="1" ry="1.6" fill="none" stroke="#e02a2a" stroke-width="0.8"/>
<ellipse cx="423.7" cy="112" rx="0.50" ry="0.88" fill="none" stroke="#b00000" stroke-width="0.8"/>
<line x1="71" y1="314.1" x2="474" y2="314.1" stroke="#000" stroke-width="1.4"/>
<line x1="475.6" y1="88" x2="475.6" y2="311.7" stroke="#000" stroke-width="1.3"/>
<line x1="71.50" y1="314" x2="71.50" y2="317" stroke="#000" stroke-width="1.2"/>
<line x1="85.85" y1="314" x2="85.85" y2="316.5" stroke="#000" stroke-width="1.2"/>
<line x1="100.20" y1="314" x2="100.20" y2="317" stroke="#000" stroke-width="1.2"/>
<line x1="114.55" y1="314" x2="114.55" y2="316.5" stroke="#000" stroke-width="1.2"/>
<line x1="128.90" y1="314" x2="128.90" y2="317" stroke="#000" stroke-width="1.2"/>
<line x1="143.25" y1="314" x2="143.25" y2="316.5" stroke="#000" stroke-width="1.2"/>
<line x1="157.60" y1="314" x2="157.60" y2="317" stroke="#000" stroke-width="1.2"/>
<line x1="171.95" y1="314" x2="171.95" y2="316.5" stroke="#000" stroke-width="1.2"/>
<line x1="186.30" y1="314" x2="186.30" y2="317" stroke="#000" stroke-width="1.2"/>
<line x1="200.65" y1="314" x2="200.65" y2="316.5" stroke="#000" stroke-width="1.2"/>
<line x1="215.00" y1="314" x2="215.00" y2="317" stroke="#000" stroke-width="1.2"/>
<line x1="229.35" y1="314" x2="229.35" y2="316.5" stroke="#000" stroke-width="1.2"/>
<line x1="243.70" y1="314" x2="243.70" y2="317" stroke="#000" stroke-width="1.2"/>
<line x1="258.05" y1="314" x2="258.05" y2="316.5" stroke="#000" stroke-width="1.2"/>
<line x1="272.40" y1="314" x2="272.40" y2="317" stroke="#000" stroke-width="1.2"/>
<line x1="286.75" y1="314" x2="286.75" y2="316.5" stroke="#000" stroke-width="1.2"/>
<line x1="301.10" y1="314" x2="301.10" y2="317" stroke="#000" stroke-width="1.2"/>
<line x1="315.45" y1="314" x2="315.45" y2="316.5" stroke="#000" stroke-width="1.2"/>
<line x1="329.80" y1="314" x2="329.80" y2="317" stroke="#000" stroke-width="1.2"/>
<line x1="344.15" y1="314" x2="344.15" y2="316.5" stroke="#000" stroke-width="1.2"/>
<line x1="358.50" y1="314" x2="358.50" y2="317" stroke="#000" stroke-width="1.2"/>
<line x1="372.85" y1="314" x2="372.85" y2="316.5" stroke="#000" stroke-width="1.2"/>
<line x1="387.20" y1="314" x2="387.20" y2="317" stroke="#000" stroke-width="1.2"/>
<line x1="401.55" y1="314" x2="401.55" y2="316.5" stroke="#000" stroke-width="1.2"/>
<line x1="415.90" y1="314" x2="415.90" y2="317" stroke="#000" stroke-width="1.2"/>
<line x1="430.25" y1="314" x2="430.25" y2="316.5" stroke="#000" stroke-width="1.2"/>
<line x1="444.60" y1="314" x2="444.60" y2="317" stroke="#000" stroke-width="1.2"/>
<line x1="458.95" y1="314" x2="458.95" y2="316.5" stroke="#000" stroke-width="1.2"/>
<line x1="473.30" y1="314" x2="473.30" y2="317" stroke="#000" stroke-width="1.2"/>
<line x1="475.6" y1="90.00" x2="478.8" y2="90.00" stroke="#000" stroke-width="1.2"/>
<line x1="475.6" y1="117.60" x2="477.8" y2="117.60" stroke="#000" stroke-width="1.2"/>
<line x1="475.6" y1="145.20" x2="478.8" y2="145.20" stroke="#000" stroke-width="1.2"/>
<line x1="475.6" y1="172.80" x2="477.8" y2="172.80" stroke="#000" stroke-width="1.2"/>
<line x1="475.6" y1="200.40" x2="478.8" y2="200.40" stroke="#000" stroke-width="1.2"/>
<line x1="475.6" y1="228.00" x2="477.8" y2="228.00" stroke="#000" stroke-width="1.2"/>
<line x1="475.6" y1="255.60" x2="478.8" y2="255.60" stroke="#000" stroke-width="1.2"/>
<line x1="475.6" y1="283.20" x2="477.8" y2="283.20" stroke="#000" stroke-width="1.2"/>
<text x="74.00" y="330.80" font-size="13.3" font-weight="bold" fill="#000" text-anchor="middle" textLength="24.5" lengthAdjust="spacingAndGlyphs" >7.0</text>
<text x="131.37" y="330.80" font-size="13.3" font-weight="bold" fill="#000" text-anchor="middle" textLength="24.5" lengthAdjust="spacingAndGlyphs" >6.0</text>
<text x="188.74" y="330.80" font-size="13.3" font-weight="bold" fill="#000" text-anchor="middle" textLength="24.5" lengthAdjust="spacingAndGlyphs" >5.0</text>
<text x="246.11" y="330.80" font-size="13.3" font-weight="bold" fill="#000" text-anchor="middle" textLength="24.5" lengthAdjust="spacingAndGlyphs" >4.0</text>
<text x="303.48" y="330.80" font-size="13.3" font-weight="bold" fill="#000" text-anchor="middle" textLength="24.5" lengthAdjust="spacingAndGlyphs" >3.0</text>
<text x="360.85" y="330.80" font-size="13.3" font-weight="bold" fill="#000" text-anchor="middle" textLength="24.5" lengthAdjust="spacingAndGlyphs" >2.0</text>
<text x="418.22" y="330.80" font-size="13.3" font-weight="bold" fill="#000" text-anchor="middle" textLength="24.5" lengthAdjust="spacingAndGlyphs" >1.0</text>
<text x="475.59" y="330.80" font-size="13.3" font-weight="bold" fill="#000" text-anchor="middle" textLength="24.5" lengthAdjust="spacingAndGlyphs" >0.0</text>
<text x="240.20" y="350.30" font-size="15" font-weight="bold" fill="#000" text-anchor="start" textLength="70" lengthAdjust="spacingAndGlyphs" >f2 (ppm)</text>
<text x="482.00" y="94.70" font-size="13.3" font-weight="bold" fill="#000" text-anchor="start" textLength="9.5" lengthAdjust="spacingAndGlyphs" >0</text>
<text x="482.00" y="149.90" font-size="13.3" font-weight="bold" fill="#000" text-anchor="start" textLength="19.5" lengthAdjust="spacingAndGlyphs" >50</text>
<text x="482.00" y="205.10" font-size="13.3" font-weight="bold" fill="#000" text-anchor="start" textLength="29.5" lengthAdjust="spacingAndGlyphs" >100</text>
<text x="482.00" y="260.30" font-size="13.3" font-weight="bold" fill="#000" text-anchor="start" textLength="29.5" lengthAdjust="spacingAndGlyphs" >150</text>
<text x="0.00" y="0.00" font-size="15" font-weight="bold" fill="#000" text-anchor="start" textLength="68.7" lengthAdjust="spacingAndGlyphs" transform="translate(523.8,232) rotate(-90)">f1 (ppm)</text>
<text x="77.50" y="49.50" font-size="15.3" font-weight="bold" fill="#000" text-anchor="start" textLength="49.5" lengthAdjust="spacingAndGlyphs" >internal</text>
<text x="79.00" y="65.80" font-size="15" font-weight="bold" fill="#000" text-anchor="start" textLength="46" lengthAdjust="spacingAndGlyphs" >alkenyl</text>
<line x1="134.5" y1="57.2" x2="160" y2="63.6" stroke="#000" stroke-width="1.8"/>
<polygon points="165,65 156.5,59.5 154.8,66.3" fill="#000"/>
<text x="181.00" y="41.70" font-size="14" font-weight="bold" fill="#ff1a1a" text-anchor="start" textLength="11" lengthAdjust="spacingAndGlyphs" >H</text>
<text x="191.00" y="49.00" font-size="9" font-weight="bold" fill="#ff1a1a" text-anchor="start" >a</text>
<line x1="192.8" y1="54" x2="187" y2="61.5" stroke="#ff1a1a" stroke-width="1.8"/>
<polygon points="184,66 184.3,57.5 190.5,61" fill="#ff1a1a"/>
<text x="262.50" y="10.40" font-size="14.5" font-weight="bold" fill="#ff1a1a" text-anchor="start" textLength="9.2" lengthAdjust="spacingAndGlyphs" >H</text>
<text x="272.50" y="16.50" font-size="9" font-weight="bold" fill="#ff1a1a" text-anchor="start" >b</text>
<text x="0.00" y="0.00" font-size="14.3" font-weight="bold" fill="#000" text-anchor="start" transform="translate(228.3,50.5) rotate(-90)">H<tspan font-size="9.5" dy="3.5">2</tspan><tspan dy="-3.5">O</tspan></text>
<text x="4.50" y="229.00" font-size="14" font-weight="bold" fill="#000" text-anchor="start" >C</text>
<text x="14.80" y="235.50" font-size="9" font-weight="bold" fill="#000" text-anchor="start" >2</text>
<text x="4.50" y="244.50" font-size="14" font-weight="bold" fill="#000" text-anchor="start" >C</text>
<text x="14.80" y="251.00" font-size="9" font-weight="bold" fill="#000" text-anchor="start" >1</text>
<text x="635" y="72.6" font-size="21.8" fill="#000" text-anchor="middle">O</text>
<rect x="646.8" y="53.9" width="5.2" height="1.9" fill="#000"/>
<line x1="634.6" y1="77" x2="634.6" y2="94.6" stroke="#000" stroke-width="1.7"/>
<text x="634.6" y="113.6" font-size="21.8" fill="#000" text-anchor="middle">S</text>
<text x="594.4" y="113.6" font-size="21.8" fill="#000" text-anchor="middle">O</text>
<text x="677.4" y="113.6" font-size="21.8" fill="#000" text-anchor="middle">O</text>
<line x1="605.3" y1="103.6" x2="626.2" y2="103.6" stroke="#000" stroke-width="1.7"/>
<line x1="605.3" y1="109.4" x2="626.2" y2="109.4" stroke="#000" stroke-width="1.7"/>
<line x1="643.9" y1="102.8" x2="665.7" y2="102.6" stroke="#000" stroke-width="1.7"/>
<line x1="643.9" y1="108.6" x2="665.7" y2="108.4" stroke="#000" stroke-width="1.7"/>
<line x1="627.9" y1="116.9" x2="611.8" y2="141.9" stroke="#000" stroke-width="1.7"/>
<line x1="581.3" y1="142.5" x2="611.8" y2="141.9" stroke="#000" stroke-width="1.7"/>
<line x1="611.8" y1="141.9" x2="637.5" y2="141.4" stroke="#000" stroke-width="1.7"/>
<line x1="611.8" y1="141.9" x2="627.8" y2="169.3" stroke="#000" stroke-width="1.7"/>
<text x="561.6" y="150.5" font-size="21.8" fill="#ff1010" text-anchor="middle">H</text>
<text x="574.6" y="156.2" font-size="16" fill="#ff1010" text-anchor="middle">b</text>
<text x="648" y="149.2" font-size="21.8" fill="#ff1010" text-anchor="middle">H</text>
<text x="661" y="154.5" font-size="16" fill="#ff1010" text-anchor="middle">b</text>
<text x="633.9" y="188.3" font-size="21.8" fill="#000" text-anchor="middle">C</text>
<text x="646.5" y="193.4" font-size="16.5" fill="#000" text-anchor="middle">1</text>
<line x1="652.2" y1="180" x2="685" y2="178.8" stroke="#000" stroke-width="1.7"/>
<line x1="617.1" y1="185.6" x2="601.3" y2="212.8" stroke="#000" stroke-width="1.7"/>
<line x1="628.4" y1="190.2" x2="609.2" y2="217.8" stroke="#000" stroke-width="1.7"/>
<text x="603" y="236.7" font-size="21.8" fill="#000" text-anchor="middle">C</text>
<text x="615.3" y="242.6" font-size="16.5" fill="#000" text-anchor="middle">2</text>
<text x="542.5" y="236.5" font-size="21.8" fill="#ff1010" text-anchor="middle">H</text>
<text x="555.2" y="242.6" font-size="16" fill="#ff1010" text-anchor="middle">a</text>
<line x1="562.2" y1="228.6" x2="592.2" y2="228.4" stroke="#000" stroke-width="1.7"/>
<line x1="612.8" y1="248.1" x2="622.9" y2="270.3" stroke="#000" stroke-width="1.7"/>
<line x1="622.9" y1="270.3" x2="663.2" y2="270.3" stroke="#000" stroke-width="1.7"/>
<line x1="622.9" y1="270.3" x2="604.4" y2="301.3" stroke="#000" stroke-width="1.7"/>
<text x="597.7" y="319.5" font-size="21.8" fill="#000" text-anchor="middle">R</text>
<text x="4.50" y="383.10" font-size="14" font-weight="bold" fill="#000" text-anchor="start" >b</text>
<defs>
<linearGradient id="cap" x1="0" y1="0" x2="0" y2="1"><stop offset="0" stop-color="#2a3250"/><stop offset="0.2" stop-color="#0d1020"/><stop offset="1" stop-color="#07080c"/></linearGradient>
<linearGradient id="capx" x1="0" y1="0" x2="1" y2="0"><stop offset="0" stop-color="#000" stop-opacity="0.5"/><stop offset="0.15" stop-color="#000" stop-opacity="0"/><stop offset="0.85" stop-color="#000" stop-opacity="0"/><stop offset="1" stop-color="#000" stop-opacity="0.5"/></linearGradient>
<linearGradient id="glass" x1="0" y1="0" x2="1" y2="0"><stop offset="0" stop-color="#7a7a7a" stop-opacity="0.45"/><stop offset="0.05" stop-color="#fff" stop-opacity="0.35"/><stop offset="0.12" stop-color="#fff" stop-opacity="0.5"/><stop offset="0.2" stop-color="#f4f4f4" stop-opacity="0.18"/><stop offset="0.5" stop-color="#f4f4f4" stop-opacity="0.12"/><stop offset="0.8" stop-color="#f4f4f4" stop-opacity="0.18"/><stop offset="0.9" stop-color="#fff" stop-opacity="0.5"/><stop offset="0.96" stop-color="#fff" stop-opacity="0.35"/><stop offset="1" stop-color="#7a7a7a" stop-opacity="0.45"/></linearGradient>
<linearGradient id="foam0" x1="0" y1="0" x2="0" y2="1"><stop offset="0" stop-color="#dedcdc"/><stop offset="0.3" stop-color="#bfd0f2"/><stop offset="0.85" stop-color="#c2cff2"/><stop offset="1" stop-color="#d6d8f2"/></linearGradient>
<linearGradient id="foamw" x1="0" y1="0" x2="0" y2="1"><stop offset="0" stop-color="#dccdb6"/><stop offset="0.5" stop-color="#e6e4e6"/><stop offset="1" stop-color="#e8ecf8"/></linearGradient>
<linearGradient id="foamb" x1="0" y1="0" x2="0" y2="1"><stop offset="0" stop-color="#f0ede8"/><stop offset="0.6" stop-color="#e8e2d8"/><stop offset="1" stop-color="#dcdee8"/></linearGradient>
</defs>
<linearGradient id="bg0" gradientUnits="userSpaceOnUse" x1="0" y1="386.5" x2="0" y2="525"><stop offset="0" stop-color="#ead0a4"/><stop offset="0.083" stop-color="#e2bc86"/><stop offset="0.386" stop-color="#dcb074"/><stop offset="0.603" stop-color="#e0b678"/><stop offset="0.646" stop-color="#f6e4b4"/><stop offset="0.819" stop-color="#f4e0b0"/><stop offset="1" stop-color="#ecd09a"/></linearGradient>
<rect x="25" y="386.5" width="68.6" height="138.5" fill="url(#bg0)"/>
<rect x="25" y="386.5" width="1.2" height="138.5" fill="#f6e2bc" fill-opacity="0.7"/>
<linearGradient id="bg1" gradientUnits="userSpaceOnUse" x1="0" y1="386.5" x2="0" y2="525"><stop offset="0" stop-color="#ead0a4"/><stop offset="0.083" stop-color="#e2bc86"/><stop offset="0.386" stop-color="#dcb074"/><stop offset="0.603" stop-color="#e0b678"/><stop offset="0.646" stop-color="#f6e4b4"/><stop offset="0.819" stop-color="#f4e0b0"/><stop offset="1" stop-color="#ecd09a"/></linearGradient>
<rect x="93.3" y="386.5" width="67.0" height="138.5" fill="url(#bg1)"/>
<rect x="93.3" y="386.5" width="1.2" height="138.5" fill="#f6e2bc" fill-opacity="0.7"/>
<linearGradient id="bg2" gradientUnits="userSpaceOnUse" x1="0" y1="386.5" x2="0" y2="525"><stop offset="0" stop-color="#ead0a4"/><stop offset="0.083" stop-color="#e2bc86"/><stop offset="0.386" stop-color="#dcb074"/><stop offset="0.617" stop-color="#e0b678"/><stop offset="0.661" stop-color="#f6e4b4"/><stop offset="0.819" stop-color="#f4e0b0"/><stop offset="1" stop-color="#ecd09a"/></linearGradient>
<rect x="160" y="386.5" width="67.3" height="138.5" fill="url(#bg2)"/>
<rect x="160" y="386.5" width="1.2" height="138.5" fill="#f6e2bc" fill-opacity="0.7"/>
<linearGradient id="bg3" gradientUnits="userSpaceOnUse" x1="0" y1="386.5" x2="0" y2="525"><stop offset="0" stop-color="#ead0a4"/><stop offset="0.083" stop-color="#e2bc86"/><stop offset="0.386" stop-color="#dcb074"/><stop offset="0.617" stop-color="#e0b678"/><stop offset="0.661" stop-color="#f6e4b4"/><stop offset="0.819" stop-color="#f4e0b0"/><stop offset="1" stop-color="#ecd09a"/></linearGradient>
<rect x="227" y="386.5" width="68.8" height="138.5" fill="url(#bg3)"/>
<rect x="227" y="386.5" width="1.2" height="138.5" fill="#f6e2bc" fill-opacity="0.7"/>
<linearGradient id="bg4" gradientUnits="userSpaceOnUse" x1="0" y1="386.5" x2="0" y2="525"><stop offset="0" stop-color="#ead0a4"/><stop offset="0.083" stop-color="#e2bc86"/><stop offset="0.386" stop-color="#dcb074"/><stop offset="0.625" stop-color="#e0b678"/><stop offset="0.668" stop-color="#f6e4b4"/><stop offset="0.819" stop-color="#f4e0b0"/><stop offset="1" stop-color="#ecd09a"/></linearGradient>
<rect x="295.5" y="386.5" width="62.8" height="138.5" fill="url(#bg4)"/>
<rect x="295.5" y="386.5" width="1.2" height="138.5" fill="#f6e2bc" fill-opacity="0.7"/>
<linearGradient id="bg5" gradientUnits="userSpaceOnUse" x1="0" y1="386.5" x2="0" y2="525"><stop offset="0" stop-color="#ead0a4"/><stop offset="0.083" stop-color="#e2bc86"/><stop offset="0.386" stop-color="#dcb074"/><stop offset="0.632" stop-color="#e0b678"/><stop offset="0.675" stop-color="#f6e4b4"/><stop offset="0.819" stop-color="#f4e0b0"/><stop offset="1" stop-color="#ecd09a"/></linearGradient>
<rect x="358" y="386.5" width="67.8" height="138.5" fill="url(#bg5)"/>
<rect x="358" y="386.5" width="1.2" height="138.5" fill="#f6e2bc" fill-opacity="0.7"/>
<linearGradient id="bg6" gradientUnits="userSpaceOnUse" x1="0" y1="386.5" x2="0" y2="525"><stop offset="0" stop-color="#ead0a4"/><stop offset="0.083" stop-color="#e2bc86"/><stop offset="0.386" stop-color="#dcb074"/><stop offset="0.632" stop-color="#e0b678"/><stop offset="0.675" stop-color="#f6e4b4"/><stop offset="0.819" stop-color="#f4e0b0"/><stop offset="1" stop-color="#ecd09a"/></linearGradient>
<rect x="425.5" y="386.5" width="69.8" height="138.5" fill="url(#bg6)"/>
<rect x="425.5" y="386.5" width="1.2" height="138.5" fill="#f6e2bc" fill-opacity="0.7"/>
<linearGradient id="bg7" gradientUnits="userSpaceOnUse" x1="0" y1="386.5" x2="0" y2="525"><stop offset="0" stop-color="#ead0a4"/><stop offset="0.083" stop-color="#e2bc86"/><stop offset="0.386" stop-color="#dcb074"/><stop offset="0.603" stop-color="#e0b678"/><stop offset="0.646" stop-color="#f6e4b4"/><stop offset="0.819" stop-color="#f4e0b0"/><stop offset="1" stop-color="#ecd09a"/></linearGradient>
<rect x="495" y="386.5" width="81.3" height="138.5" fill="url(#bg7)"/>
<rect x="495" y="386.5" width="1.2" height="138.5" fill="#f6e2bc" fill-opacity="0.7"/>
<linearGradient id="bg8" gradientUnits="userSpaceOnUse" x1="0" y1="386.5" x2="0" y2="525"><stop offset="0" stop-color="#ead0a4"/><stop offset="0.083" stop-color="#e2bc86"/><stop offset="0.386" stop-color="#dcb074"/><stop offset="0.596" stop-color="#e0b678"/><stop offset="0.639" stop-color="#f6e4b4"/><stop offset="0.819" stop-color="#f4e0b0"/><stop offset="1" stop-color="#ecd09a"/></linearGradient>
<rect x="576" y="386.5" width="95.8" height="138.5" fill="url(#bg8)"/>
<rect x="576" y="386.5" width="1.2" height="138.5" fill="#f6e2bc" fill-opacity="0.7"/>
<path d="M32.9,419 L83.7,419 L83.7,512 Q83.7,521 58.3,521.3 Q32.9,521 32.9,512 Z" fill="url(#glass)"/>
<rect x="33.9" y="421" width="48.8" height="0" fill="#d6d6d6" fill-opacity="0.12"/>
<rect x="33.9" y="484" width="48.8" height="24" fill="#fffaf0" fill-opacity="0.25"/>
<path d="M33.9,508.5 Q58.3,507.5 82.7,508.5 L82.7,512 Q82.7,520.3 58.3,520.6 Q33.9,520.3 33.9,512 Z" fill="#c8b08a" fill-opacity="0.45"/>
<path d="M34.4,509 Q58.3,507.8 82.2,509" fill="none" stroke="#fffaf0" stroke-width="1" stroke-opacity="0.8"/>
<path d="M34.9,510.3 Q58.3,509.3 81.7,510.3" fill="none" stroke="#6c7080" stroke-width="0.8" stroke-opacity="0.7"/>
<path d="M35.9,516 Q58.3,519.5 80.7,516" fill="none" stroke="#f4f6fa" stroke-width="1.6" stroke-opacity="0.85"/>
<rect x="33.9" y="421" width="48.8" height="63" fill="url(#foam0)"/>
<circle cx="56.2" cy="432.0" r="1.1" fill="#c49660" fill-opacity="0.6"/>
<circle cx="56.8" cy="431.1" r="0.9" fill="#c49660" fill-opacity="0.6"/>
<circle cx="44.2" cy="431.2" r="0.9" fill="#c49660" fill-opacity="0.6"/>
<circle cx="71.4" cy="424.5" r="0.7" fill="#c49660" fill-opacity="0.6"/>
<circle cx="40.0" cy="436.0" r="1.0" fill="#c49660" fill-opacity="0.6"/>
<circle cx="37.8" cy="438.7" r="1.2" fill="#c49660" fill-opacity="0.6"/>
<circle cx="65.2" cy="432.8" r="0.6" fill="#c49660" fill-opacity="0.6"/>
<circle cx="36.6" cy="431.5" r="0.5" fill="#c49660" fill-opacity="0.6"/>
<circle cx="44.4" cy="426.9" r="0.5" fill="#c49660" fill-opacity="0.6"/>
<circle cx="56.7" cy="430.0" r="1.1" fill="#c49660" fill-opacity="0.6"/>
<circle cx="59.2" cy="433.2" r="0.8" fill="#c49660" fill-opacity="0.6"/>
<circle cx="65.6" cy="430.3" r="0.7" fill="#c49660" fill-opacity="0.6"/>
<circle cx="80.6" cy="438.9" r="1.1" fill="#c49660" fill-opacity="0.6"/>
<circle cx="67.6" cy="428.0" r="0.7" fill="#c49660" fill-opacity="0.6"/>
<circle cx="48.8" cy="424.1" r="1.0" fill="#c49660" fill-opacity="0.6"/>
<circle cx="53.8" cy="436.5" r="0.8" fill="#c49660" fill-opacity="0.6"/>
<circle cx="78.8" cy="436.6" r="0.5" fill="#c49660" fill-opacity="0.6"/>
<circle cx="45.3" cy="437.6" r="0.8" fill="#c49660" fill-opacity="0.6"/>
<circle cx="79.8" cy="429.4" r="0.6" fill="#c49660" fill-opacity="0.6"/>
<circle cx="64.1" cy="435.5" r="0.7" fill="#c49660" fill-opacity="0.6"/>
<circle cx="39.8" cy="428.3" r="1.2" fill="#c49660" fill-opacity="0.6"/>
<circle cx="69.9" cy="424.9" r="0.7" fill="#c49660" fill-opacity="0.6"/>
<circle cx="40.4" cy="424.0" r="1.1" fill="#c49660" fill-opacity="0.6"/>
<circle cx="43.9" cy="431.9" r="0.8" fill="#c49660" fill-opacity="0.6"/>
<circle cx="44.4" cy="434.7" r="0.6" fill="#c49660" fill-opacity="0.6"/>
<circle cx="64.7" cy="424.9" r="0.8" fill="#c49660" fill-opacity="0.6"/>
<circle cx="45.4" cy="427.3" r="1.2" fill="#c49660" fill-opacity="0.6"/>
<circle cx="71.9" cy="427.9" r="1.1" fill="#c49660" fill-opacity="0.6"/>
<circle cx="45.3" cy="429.3" r="1.1" fill="#c49660" fill-opacity="0.6"/>
<circle cx="64.7" cy="424.6" r="1.2" fill="#c49660" fill-opacity="0.6"/>
<circle cx="45.5" cy="427.1" r="1.0" fill="#c49660" fill-opacity="0.6"/>
<circle cx="50.6" cy="427.7" r="0.6" fill="#c49660" fill-opacity="0.6"/>
<circle cx="39.9" cy="432.3" r="0.7" fill="#c49660" fill-opacity="0.6"/>
<circle cx="62.8" cy="428.9" r="0.8" fill="#c49660" fill-opacity="0.6"/>
<circle cx="78.9" cy="430.7" r="0.9" fill="#c49660" fill-opacity="0.6"/>
<circle cx="74.7" cy="425.9" r="0.6" fill="#c49660" fill-opacity="0.6"/>
<circle cx="76.6" cy="436.1" r="0.7" fill="#c49660" fill-opacity="0.6"/>
<circle cx="44.4" cy="434.8" r="1.2" fill="#c49660" fill-opacity="0.6"/>
<circle cx="44.7" cy="438.2" r="1.1" fill="#c49660" fill-opacity="0.6"/>
<circle cx="62.9" cy="429.7" r="0.6" fill="#c49660" fill-opacity="0.6"/>
<circle cx="37.6" cy="438.4" r="0.7" fill="#c49660" fill-opacity="0.6"/>
<circle cx="67.5" cy="427.1" r="1.1" fill="#c49660" fill-opacity="0.6"/>
<circle cx="62.6" cy="427.7" r="0.6" fill="#c49660" fill-opacity="0.6"/>
<circle cx="68.2" cy="424.1" r="0.7" fill="#c49660" fill-opacity="0.6"/>
<circle cx="61.0" cy="436.6" r="0.9" fill="#c49660" fill-opacity="0.6"/>
<line x1="33.3" y1="420" x2="33.3" y2="511" stroke="#8c8a86" stroke-width="0.8" stroke-opacity="0.6"/>
<line x1="83.3" y1="420" x2="83.3" y2="511" stroke="#8c8a86" stroke-width="0.8" stroke-opacity="0.6"/>
<path d="M34.1,416 L82.5,416 L82.5,420.5 Q58.3,423.5 34.1,420.5 Z" fill="#1c2230" fill-opacity="0.9"/>
<path d="M35.1,421.3 Q58.3,424.3 81.5,421.3" fill="none" stroke="#dfe6f0" stroke-width="0.9" stroke-opacity="0.7"/>
<path d="M32.6,400 Q32.1,395.6 38.1,395.4 Q58.3,395 78.5,395.4 Q84.5,395.6 84.0,400 L84.5,417 Q58.3,420.5 32.1,417 Z" fill="url(#cap)"/>
<path d="M32.6,400 Q32.1,395.6 38.1,395.4 Q58.3,395 78.5,395.4 Q84.5,395.6 84.0,400 L84.5,417 Q58.3,420.5 32.1,417 Z" fill="url(#capx)"/>
<text x="56.30" y="412.20" font-size="15" font-weight="bold" fill="#fff" text-anchor="middle" textLength="15.5" lengthAdjust="spacingAndGlyphs" >0h</text>
<path d="M100.8,419 L152.2,419 L152.2,512 Q152.2,521 126.5,521.3 Q100.8,521 100.8,512 Z" fill="url(#glass)"/>
<rect x="101.8" y="421" width="49.4" height="14" fill="#d6d6d6" fill-opacity="0.12"/>
<rect x="101.8" y="483" width="49.4" height="25" fill="#fffaf0" fill-opacity="0.25"/>
<path d="M101.8,508.5 Q126.5,507.5 151.2,508.5 L151.2,512 Q151.2,520.3 126.5,520.6 Q101.8,520.3 101.8,512 Z" fill="#c8b08a" fill-opacity="0.45"/>
<path d="M102.3,509 Q126.5,507.8 150.7,509" fill="none" stroke="#fffaf0" stroke-width="1" stroke-opacity="0.8"/>
<path d="M102.8,510.3 Q126.5,509.3 150.2,510.3" fill="none" stroke="#6c7080" stroke-width="0.8" stroke-opacity="0.7"/>
<path d="M103.8,516 Q126.5,519.5 149.2,516" fill="none" stroke="#f4f6fa" stroke-width="1.6" stroke-opacity="0.85"/>
<rect x="101.8" y="435" width="49.4" height="48" fill="url(#foamw)"/>
<circle cx="116.1" cy="476.1" r="0.6" fill="#c0905a" fill-opacity="0.6"/>
<circle cx="106.1" cy="447.1" r="0.7" fill="#c0905a" fill-opacity="0.6"/>
<circle cx="111.2" cy="445.3" r="0.9" fill="#c69a62" fill-opacity="0.6"/>
<circle cx="107.2" cy="437.9" r="0.8" fill="#c69a62" fill-opacity="0.6"/>
<circle cx="133.9" cy="461.5" r="0.9" fill="#c69a62" fill-opacity="0.6"/>
<circle cx="130.8" cy="476.5" r="0.8" fill="#c69a62" fill-opacity="0.6"/>
<circle cx="136.0" cy="479.3" r="0.5" fill="#ffffff" fill-opacity="0.6"/>
<circle cx="106.3" cy="436.6" r="0.7" fill="#c69a62" fill-opacity="0.6"/>
<circle cx="150.2" cy="436.7" r="0.9" fill="#ffffff" fill-opacity="0.6"/>
<circle cx="104.9" cy="477.4" r="1.0" fill="#c69a62" fill-opacity="0.6"/>
<circle cx="140.4" cy="475.9" r="0.7" fill="#ffffff" fill-opacity="0.6"/>
<circle cx="125.2" cy="436.8" r="1.1" fill="#c0905a" fill-opacity="0.6"/>
<circle cx="143.7" cy="454.9" r="0.9" fill="#b8b6c0" fill-opacity="0.6"/>
<circle cx="120.8" cy="436.0" r="0.6" fill="#c0905a" fill-opacity="0.6"/>
<circle cx="133.1" cy="481.5" r="1.1" fill="#ffffff" fill-opacity="0.6"/>
<circle cx="118.4" cy="477.3" r="1.0" fill="#b8b6c0" fill-opacity="0.6"/>
<circle cx="123.7" cy="470.7" r="0.6" fill="#ffffff" fill-opacity="0.6"/>
<circle cx="104.2" cy="456.4" r="0.8" fill="#c69a62" fill-opacity="0.6"/>
<circle cx="148.2" cy="437.4" r="1.0" fill="#ffffff" fill-opacity="0.6"/>
<circle cx="146.4" cy="441.2" r="0.5" fill="#c69a62" fill-opacity="0.6"/>
<circle cx="109.6" cy="457.0" r="0.9" fill="#c69a62" fill-opacity="0.6"/>
<circle cx="134.1" cy="448.5" r="1.1" fill="#c69a62" fill-opacity="0.6"/>
<circle cx="122.0" cy="441.0" r="0.9" fill="#c69a62" fill-opacity="0.6"/>
<circle cx="144.5" cy="446.0" r="0.9" fill="#c69a62" fill-opacity="0.6"/>
<circle cx="112.7" cy="437.9" r="0.7" fill="#c0905a" fill-opacity="0.6"/>
<circle cx="136.5" cy="478.4" r="0.7" fill="#c69a62" fill-opacity="0.6"/>
<circle cx="108.1" cy="449.8" r="1.1" fill="#b8b6c0" fill-opacity="0.6"/>
<circle cx="120.9" cy="452.2" r="1.0" fill="#ffffff" fill-opacity="0.6"/>
<circle cx="142.6" cy="480.7" r="0.8" fill="#c0905a" fill-opacity="0.6"/>
<circle cx="142.1" cy="441.9" r="0.9" fill="#ffffff" fill-opacity="0.6"/>
<circle cx="136.4" cy="454.7" r="0.7" fill="#ffffff" fill-opacity="0.6"/>
<circle cx="103.7" cy="437.9" r="0.8" fill="#c0905a" fill-opacity="0.6"/>
<circle cx="139.3" cy="441.5" r="1.0" fill="#c0905a" fill-opacity="0.6"/>
<circle cx="149.4" cy="437.5" r="0.6" fill="#ffffff" fill-opacity="0.6"/>
<circle cx="133.8" cy="468.7" r="1.2" fill="#ffffff" fill-opacity="0.6"/>
<circle cx="112.2" cy="469.7" r="0.7" fill="#ffffff" fill-opacity="0.6"/>
<circle cx="103.3" cy="449.8" r="1.0" fill="#c69a62" fill-opacity="0.6"/>
<circle cx="113.5" cy="466.8" r="0.9" fill="#ffffff" fill-opacity="0.6"/>
<circle cx="126.5" cy="481.8" r="0.6" fill="#ffffff" fill-opacity="0.6"/>
<circle cx="145.8" cy="436.9" r="1.2" fill="#ffffff" fill-opacity="0.6"/>
<circle cx="121.2" cy="448.8" r="0.6" fill="#c0905a" fill-opacity="0.6"/>
<circle cx="120.7" cy="454.7" r="1.1" fill="#c69a62" fill-opacity="0.6"/>
<circle cx="124.8" cy="459.2" r="0.6" fill="#ffffff" fill-opacity="0.6"/>
<circle cx="143.9" cy="468.1" r="1.1" fill="#c0905a" fill-opacity="0.6"/>
<circle cx="112.9" cy="474.9" r="1.2" fill="#c69a62" fill-opacity="0.6"/>
<circle cx="128.3" cy="467.6" r="0.7" fill="#ffffff" fill-opacity="0.6"/>
<circle cx="143.4" cy="444.5" r="0.6" fill="#b8b6c0" fill-opacity="0.6"/>
<circle cx="119.0" cy="447.5" r="0.7" fill="#c0905a" fill-opacity="0.6"/>
<circle cx="113.1" cy="472.6" r="0.8" fill="#c0905a" fill-opacity="0.6"/>
<circle cx="111.0" cy="444.0" r="1.1" fill="#c69a62" fill-opacity="0.6"/>
<circle cx="125.1" cy="482.0" r="1.1" fill="#ffffff" fill-opacity="0.6"/>
<circle cx="142.6" cy="461.4" r="1.2" fill="#b8b6c0" fill-opacity="0.6"/>
<circle cx="130.2" cy="461.3" r="1.0" fill="#b8b6c0" fill-opacity="0.6"/>
<circle cx="127.8" cy="442.4" r="1.0" fill="#ffffff" fill-opacity="0.6"/>
<circle cx="110.6" cy="451.9" r="1.1" fill="#c69a62" fill-opacity="0.6"/>
<circle cx="117.6" cy="445.8" r="1.1" fill="#ffffff" fill-opacity="0.6"/>
<circle cx="112.7" cy="471.5" r="1.2" fill="#ffffff" fill-opacity="0.6"/>
<circle cx="115.7" cy="451.1" r="0.8" fill="#c0905a" fill-opacity="0.6"/>
<circle cx="126.7" cy="456.6" r="0.5" fill="#c0905a" fill-opacity="0.6"/>
<circle cx="127.3" cy="446.6" r="1.1" fill="#ffffff" fill-opacity="0.6"/>
<circle cx="108.6" cy="437.0" r="0.6" fill="#ffffff" fill-opacity="0.6"/>
<circle cx="124.6" cy="476.3" r="1.1" fill="#b8b6c0" fill-opacity="0.6"/>
<circle cx="115.6" cy="449.9" r="0.6" fill="#b8b6c0" fill-opacity="0.6"/>
<circle cx="145.5" cy="477.4" r="1.1" fill="#ffffff" fill-opacity="0.6"/>
<circle cx="117.8" cy="439.3" r="0.9" fill="#c69a62" fill-opacity="0.6"/>
<circle cx="108.9" cy="466.9" r="0.5" fill="#c69a62" fill-opacity="0.6"/>
<circle cx="110.2" cy="436.0" r="0.7" fill="#ffffff" fill-opacity="0.6"/>
<circle cx="119.6" cy="457.4" r="0.6" fill="#ffffff" fill-opacity="0.6"/>
<circle cx="130.4" cy="471.6" r="0.9" fill="#ffffff" fill-opacity="0.6"/>
<circle cx="112.2" cy="452.7" r="0.8" fill="#b8b6c0" fill-opacity="0.6"/>
<circle cx="132.8" cy="469.8" r="0.9" fill="#ffffff" fill-opacity="0.6"/>
<circle cx="112.5" cy="458.0" r="0.9" fill="#ffffff" fill-opacity="0.6"/>
<circle cx="113.0" cy="453.3" r="0.9" fill="#c69a62" fill-opacity="0.6"/>
<circle cx="113.8" cy="464.5" r="1.1" fill="#c69a62" fill-opacity="0.6"/>
<circle cx="117.8" cy="443.2" r="1.1" fill="#c69a62" fill-opacity="0.6"/>
<circle cx="139.7" cy="439.4" r="0.6" fill="#c69a62" fill-opacity="0.6"/>
<circle cx="109.1" cy="436.9" r="0.8" fill="#b8b6c0" fill-opacity="0.6"/>
<circle cx="142.2" cy="447.6" r="1.1" fill="#c69a62" fill-opacity="0.6"/>
<circle cx="112.3" cy="457.9" r="1.1" fill="#c0905a" fill-opacity="0.6"/>
<circle cx="112.3" cy="461.0" r="1.1" fill="#c69a62" fill-opacity="0.6"/>
<circle cx="108.3" cy="451.5" r="1.0" fill="#ffffff" fill-opacity="0.6"/>
<circle cx="150.1" cy="470.3" r="1.1" fill="#b8b6c0" fill-opacity="0.6"/>
<circle cx="107.8" cy="436.2" r="0.9" fill="#ffffff" fill-opacity="0.6"/>
<circle cx="145.7" cy="450.3" r="0.6" fill="#c0905a" fill-opacity="0.6"/>
<circle cx="112.5" cy="470.8" r="1.2" fill="#ffffff" fill-opacity="0.6"/>
<circle cx="107.3" cy="436.5" r="1.2" fill="#b8b6c0" fill-opacity="0.6"/>
<circle cx="106.5" cy="437.1" r="0.8" fill="#b8b6c0" fill-opacity="0.6"/>
<circle cx="127.2" cy="447.9" r="0.9" fill="#c0905a" fill-opacity="0.6"/>
<circle cx="132.9" cy="436.3" r="0.6" fill="#b8b6c0" fill-opacity="0.6"/>
<circle cx="124.3" cy="464.4" r="0.8" fill="#c69a62" fill-opacity="0.6"/>
<circle cx="131.5" cy="437.1" r="1.1" fill="#c69a62" fill-opacity="0.6"/>
<circle cx="145.1" cy="468.3" r="1.0" fill="#ffffff" fill-opacity="0.6"/>
<circle cx="147.3" cy="454.7" r="0.6" fill="#ffffff" fill-opacity="0.6"/>
<circle cx="149.4" cy="468.5" r="0.7" fill="#c0905a" fill-opacity="0.6"/>
<circle cx="138.1" cy="466.8" r="1.1" fill="#b8b6c0" fill-opacity="0.6"/>
<circle cx="109.1" cy="443.8" r="0.9" fill="#c69a62" fill-opacity="0.6"/>
<circle cx="139.2" cy="466.0" r="0.8" fill="#ffffff" fill-opacity="0.6"/>
<circle cx="111.6" cy="468.0" r="0.7" fill="#c0905a" fill-opacity="0.6"/>
<circle cx="103.3" cy="444.8" r="0.9" fill="#ffffff" fill-opacity="0.6"/>
<circle cx="105.1" cy="441.8" r="1.2" fill="#c69a62" fill-opacity="0.6"/>
<circle cx="118.8" cy="459.6" r="0.9" fill="#ffffff" fill-opacity="0.6"/>
<circle cx="106.4" cy="451.9" r="0.8" fill="#c69a62" fill-opacity="0.6"/>
<circle cx="136.0" cy="465.8" r="1.2" fill="#c0905a" fill-opacity="0.6"/>
<circle cx="108.2" cy="437.3" r="0.7" fill="#b8b6c0" fill-opacity="0.6"/>
<circle cx="121.8" cy="436.4" r="0.6" fill="#b8b6c0" fill-opacity="0.6"/>
<circle cx="103.3" cy="441.3" r="0.7" fill="#c69a62" fill-opacity="0.6"/>
<circle cx="128.9" cy="451.6" r="1.2" fill="#ffffff" fill-opacity="0.6"/>
<circle cx="142.9" cy="437.1" r="0.8" fill="#ffffff" fill-opacity="0.6"/>
<circle cx="106.4" cy="456.2" r="1.0" fill="#c0905a" fill-opacity="0.6"/>
<circle cx="121.1" cy="477.6" r="0.8" fill="#c69a62" fill-opacity="0.6"/>
<circle cx="143.4" cy="453.3" r="0.9" fill="#b8b6c0" fill-opacity="0.6"/>
<circle cx="147.6" cy="447.5" r="0.9" fill="#ffffff" fill-opacity="0.6"/>
<circle cx="117.6" cy="452.7" r="0.8" fill="#c69a62" fill-opacity="0.6"/>
<circle cx="129.4" cy="442.1" r="1.0" fill="#c69a62" fill-opacity="0.6"/>
<circle cx="104.1" cy="466.4" r="0.9" fill="#ffffff" fill-opacity="0.6"/>
<circle cx="110.2" cy="465.3" r="0.8" fill="#c69a62" fill-opacity="0.6"/>
<circle cx="138.3" cy="436.4" r="1.2" fill="#c69a62" fill-opacity="0.6"/>
<circle cx="106.3" cy="475.2" r="0.8" fill="#b8b6c0" fill-opacity="0.6"/>
<circle cx="114.7" cy="465.4" r="0.5" fill="#c0905a" fill-opacity="0.6"/>
<circle cx="147.2" cy="463.4" r="0.8" fill="#c69a62" fill-opacity="0.6"/>
<circle cx="131.4" cy="437.4" r="0.9" fill="#b8b6c0" fill-opacity="0.6"/>
<circle cx="108.4" cy="472.2" r="0.7" fill="#c69a62" fill-opacity="0.6"/>
<circle cx="108.7" cy="448.5" r="1.0" fill="#b8b6c0" fill-opacity="0.6"/>
<circle cx="131.3" cy="458.5" r="1.0" fill="#c69a62" fill-opacity="0.6"/>
<circle cx="139.7" cy="452.7" r="1.2" fill="#c69a62" fill-opacity="0.6"/>
<circle cx="137.6" cy="440.6" r="0.6" fill="#c69a62" fill-opacity="0.6"/>
<circle cx="140.0" cy="457.7" r="0.8" fill="#c69a62" fill-opacity="0.6"/>
<circle cx="131.7" cy="463.5" r="1.0" fill="#c69a62" fill-opacity="0.6"/>
<circle cx="132.8" cy="465.2" r="0.6" fill="#c69a62" fill-opacity="0.6"/>
<circle cx="126.6" cy="459.3" r="0.6" fill="#ffffff" fill-opacity="0.6"/>
<circle cx="104.7" cy="436.5" r="0.7" fill="#b8b6c0" fill-opacity="0.6"/>
<circle cx="104.1" cy="436.2" r="0.7" fill="#c69a62" fill-opacity="0.6"/>
<circle cx="106.2" cy="436.9" r="1.0" fill="#ffffff" fill-opacity="0.6"/>
<circle cx="113.9" cy="480.6" r="0.8" fill="#c69a62" fill-opacity="0.6"/>
<circle cx="112.8" cy="444.3" r="1.0" fill="#c0905a" fill-opacity="0.6"/>
<circle cx="140.8" cy="448.7" r="1.1" fill="#c69a62" fill-opacity="0.6"/>
<circle cx="123.9" cy="464.9" r="0.8" fill="#c69a62" fill-opacity="0.6"/>
<circle cx="120.3" cy="459.3" r="1.2" fill="#c69a62" fill-opacity="0.6"/>
<circle cx="116.6" cy="465.6" r="1.1" fill="#c69a62" fill-opacity="0.6"/>
<circle cx="123.1" cy="445.3" r="0.6" fill="#c69a62" fill-opacity="0.6"/>
<circle cx="106.5" cy="436.9" r="0.9" fill="#b8b6c0" fill-opacity="0.6"/>
<circle cx="141.4" cy="449.4" r="1.1" fill="#c0905a" fill-opacity="0.6"/>
<circle cx="106.4" cy="439.9" r="1.0" fill="#c0905a" fill-opacity="0.6"/>
<circle cx="135.7" cy="450.9" r="1.0" fill="#c69a62" fill-opacity="0.6"/>
<circle cx="116.2" cy="438.0" r="0.8" fill="#ffffff" fill-opacity="0.6"/>
<circle cx="118.3" cy="475.3" r="0.7" fill="#b8b6c0" fill-opacity="0.6"/>
<circle cx="129.8" cy="476.2" r="1.2" fill="#c69a62" fill-opacity="0.6"/>
<circle cx="123.6" cy="468.4" r="0.7" fill="#c69a62" fill-opacity="0.6"/>
<circle cx="113.3" cy="479.7" r="1.0" fill="#ffffff" fill-opacity="0.6"/>
<circle cx="114.6" cy="445.0" r="0.8" fill="#c69a62" fill-opacity="0.6"/>
<circle cx="134.9" cy="455.5" r="1.1" fill="#ffffff" fill-opacity="0.6"/>
<circle cx="129.5" cy="468.0" r="0.9" fill="#ffffff" fill-opacity="0.6"/>
<circle cx="129.5" cy="438.9" r="1.0" fill="#c69a62" fill-opacity="0.6"/>
<circle cx="141.3" cy="440.1" r="0.5" fill="#c69a62" fill-opacity="0.6"/>
<circle cx="129.7" cy="479.6" r="1.0" fill="#b8b6c0" fill-opacity="0.6"/>
<circle cx="105.8" cy="453.5" r="1.1" fill="#c0905a" fill-opacity="0.6"/>
<circle cx="118.7" cy="441.8" r="0.6" fill="#c69a62" fill-opacity="0.6"/>
<circle cx="106.8" cy="458.2" r="0.6" fill="#ffffff" fill-opacity="0.6"/>
<circle cx="141.5" cy="447.6" r="1.0" fill="#b8b6c0" fill-opacity="0.6"/>
<circle cx="139.1" cy="452.2" r="1.0" fill="#b8b6c0" fill-opacity="0.6"/>
<circle cx="119.4" cy="468.7" r="0.7" fill="#c69a62" fill-opacity="0.6"/>
<circle cx="126.2" cy="453.0" r="1.0" fill="#ffffff" fill-opacity="0.6"/>
<circle cx="132.1" cy="436.3" r="1.0" fill="#ffffff" fill-opacity="0.6"/>
<circle cx="119.4" cy="436.0" r="0.8" fill="#c0905a" fill-opacity="0.6"/>
<circle cx="144.9" cy="478.9" r="0.9" fill="#ffffff" fill-opacity="0.6"/>
<circle cx="120.0" cy="436.0" r="0.6" fill="#b8b6c0" fill-opacity="0.6"/>
<circle cx="146.2" cy="440.9" r="0.6" fill="#ffffff" fill-opacity="0.6"/>
<circle cx="120.6" cy="438.6" r="0.6" fill="#b8b6c0" fill-opacity="0.6"/>
<circle cx="127.9" cy="441.8" r="1.1" fill="#b8b6c0" fill-opacity="0.6"/>
<circle cx="117.4" cy="437.4" r="1.0" fill="#c69a62" fill-opacity="0.6"/>
<rect x="101.8" y="481.5" width="49.4" height="1.5" fill="#9ca0ae" fill-opacity="0.4"/>
<line x1="101.2" y1="420" x2="101.2" y2="511" stroke="#8c8a86" stroke-width="0.8" stroke-opacity="0.6"/>
<line x1="151.79999999999998" y1="420" x2="151.79999999999998" y2="511" stroke="#8c8a86" stroke-width="0.8" stroke-opacity="0.6"/>
<path d="M102,416 L151,416 L151,420.5 Q126.5,423.5 102,420.5 Z" fill="#1c2230" fill-opacity="0.9"/>
<path d="M103,421.3 Q126.5,424.3 150,421.3" fill="none" stroke="#dfe6f0" stroke-width="0.9" stroke-opacity="0.7"/>
<path d="M100.5,400 Q100,395.6 106,395.4 Q126.5,395 147,395.4 Q153,395.6 152.5,400 L153,417 Q126.5,420.5 100,417 Z" fill="url(#cap)"/>
<path d="M100.5,400 Q100,395.6 106,395.4 Q126.5,395 147,395.4 Q153,395.6 152.5,400 L153,417 Q126.5,420.5 100,417 Z" fill="url(#capx)"/>
<text x="123.40" y="412.20" font-size="15" font-weight="bold" fill="#fff" text-anchor="middle" textLength="15.5" lengthAdjust="spacingAndGlyphs" >2h</text>
<path d="M168.8,419 L220.2,419 L220.2,512 Q220.2,521 194.5,521.3 Q168.8,521 168.8,512 Z" fill="url(#glass)"/>
<rect x="169.8" y="421" width="49.4" height="18" fill="#d6d6d6" fill-opacity="0.12"/>
<rect x="169.8" y="483" width="49.4" height="25" fill="#fffaf0" fill-opacity="0.25"/>
<path d="M169.8,508.5 Q194.5,507.5 219.2,508.5 L219.2,512 Q219.2,520.3 194.5,520.6 Q169.8,520.3 169.8,512 Z" fill="#c8b08a" fill-opacity="0.45"/>
<path d="M170.3,509 Q194.5,507.8 218.7,509" fill="none" stroke="#fffaf0" stroke-width="1" stroke-opacity="0.8"/>
<path d="M170.8,510.3 Q194.5,509.3 218.2,510.3" fill="none" stroke="#6c7080" stroke-width="0.8" stroke-opacity="0.7"/>
<path d="M171.8,516 Q194.5,519.5 217.2,516" fill="none" stroke="#f4f6fa" stroke-width="1.6" stroke-opacity="0.85"/>
<rect x="169.8" y="439" width="49.4" height="44" fill="url(#foamw)"/>
<circle cx="214.0" cy="466.7" r="0.5" fill="#b8b6c0" fill-opacity="0.6"/>
<circle cx="213.9" cy="440.2" r="0.6" fill="#c69a62" fill-opacity="0.6"/>
<circle cx="187.8" cy="458.0" r="0.9" fill="#b8b6c0" fill-opacity="0.6"/>
<circle cx="199.0" cy="443.8" r="0.6" fill="#c69a62" fill-opacity="0.6"/>
<circle cx="189.9" cy="476.2" r="1.2" fill="#ffffff" fill-opacity="0.6"/>
<circle cx="196.8" cy="470.4" r="0.8" fill="#c69a62" fill-opacity="0.6"/>
<circle cx="193.8" cy="449.8" r="1.2" fill="#ffffff" fill-opacity="0.6"/>
<circle cx="196.7" cy="479.1" r="0.8" fill="#c69a62" fill-opacity="0.6"/>
<circle cx="189.7" cy="443.7" r="0.6" fill="#b8b6c0" fill-opacity="0.6"/>
<circle cx="217.1" cy="469.1" r="1.0" fill="#c0905a" fill-opacity="0.6"/>
<circle cx="202.0" cy="444.2" r="0.5" fill="#b8b6c0" fill-opacity="0.6"/>
<circle cx="213.7" cy="451.7" r="0.7" fill="#b8b6c0" fill-opacity="0.6"/>
<circle cx="199.5" cy="442.2" r="0.6" fill="#c69a62" fill-opacity="0.6"/>
<circle cx="177.7" cy="476.0" r="1.1" fill="#c69a62" fill-opacity="0.6"/>
<circle cx="201.0" cy="481.5" r="0.7" fill="#ffffff" fill-opacity="0.6"/>
<circle cx="173.3" cy="457.2" r="0.6" fill="#c69a62" fill-opacity="0.6"/>
<circle cx="209.7" cy="472.2" r="1.1" fill="#c0905a" fill-opacity="0.6"/>
<circle cx="187.5" cy="459.3" r="0.9" fill="#b8b6c0" fill-opacity="0.6"/>
<circle cx="203.7" cy="440.8" r="1.0" fill="#ffffff" fill-opacity="0.6"/>
<circle cx="211.4" cy="446.2" r="1.1" fill="#b8b6c0" fill-opacity="0.6"/>
<circle cx="180.0" cy="462.8" r="1.0" fill="#b8b6c0" fill-opacity="0.6"/>
<circle cx="180.7" cy="455.8" r="0.9" fill="#c69a62" fill-opacity="0.6"/>
<circle cx="215.7" cy="479.6" r="0.7" fill="#b8b6c0" fill-opacity="0.6"/>
<circle cx="174.4" cy="446.3" r="0.8" fill="#ffffff" fill-opacity="0.6"/>
<circle cx="174.0" cy="440.7" r="0.6" fill="#ffffff" fill-opacity="0.6"/>
<circle cx="189.5" cy="452.2" r="1.2" fill="#c0905a" fill-opacity="0.6"/>
<circle cx="201.8" cy="440.0" r="0.8" fill="#ffffff" fill-opacity="0.6"/>
<circle cx="193.3" cy="445.9" r="0.6" fill="#c0905a" fill-opacity="0.6"/>
<circle cx="211.4" cy="472.0" r="1.0" fill="#ffffff" fill-opacity="0.6"/>
<circle cx="178.0" cy="459.9" r="1.2" fill="#ffffff" fill-opacity="0.6"/>
<circle cx="184.9" cy="447.4" r="0.8" fill="#ffffff" fill-opacity="0.6"/>
<circle cx="174.9" cy="442.9" r="0.8" fill="#c0905a" fill-opacity="0.6"/>
<circle cx="186.4" cy="478.4" r="0.9" fill="#ffffff" fill-opacity="0.6"/>
<circle cx="201.2" cy="451.6" r="0.8" fill="#c0905a" fill-opacity="0.6"/>
<circle cx="177.5" cy="441.0" r="1.0" fill="#ffffff" fill-opacity="0.6"/>
<circle cx="179.3" cy="443.0" r="0.5" fill="#b8b6c0" fill-opacity="0.6"/>
<circle cx="198.9" cy="440.9" r="0.7" fill="#c69a62" fill-opacity="0.6"/>
<circle cx="217.6" cy="451.0" r="1.0" fill="#c69a62" fill-opacity="0.6"/>
<circle cx="214.4" cy="450.8" r="0.9" fill="#ffffff" fill-opacity="0.6"/>
<circle cx="180.5" cy="442.0" r="1.0" fill="#b8b6c0" fill-opacity="0.6"/>
<circle cx="186.5" cy="450.2" r="0.5" fill="#b8b6c0" fill-opacity="0.6"/>
<circle cx="199.9" cy="446.7" r="1.1" fill="#c69a62" fill-opacity="0.6"/>
<circle cx="202.1" cy="459.0" r="0.5" fill="#c69a62" fill-opacity="0.6"/>
<circle cx="179.7" cy="446.3" r="0.8" fill="#ffffff" fill-opacity="0.6"/>
<circle cx="188.7" cy="454.3" r="1.1" fill="#c0905a" fill-opacity="0.6"/>
<circle cx="199.8" cy="442.2" r="1.0" fill="#c69a62" fill-opacity="0.6"/>
<circle cx="196.8" cy="447.9" r="0.9" fill="#c69a62" fill-opacity="0.6"/>
<circle cx="198.0" cy="443.2" r="1.2" fill="#ffffff" fill-opacity="0.6"/>
<circle cx="204.3" cy="477.8" r="0.9" fill="#c0905a" fill-opacity="0.6"/>
<circle cx="200.5" cy="443.1" r="0.6" fill="#c69a62" fill-opacity="0.6"/>
<circle cx="193.5" cy="450.4" r="0.7" fill="#c0905a" fill-opacity="0.6"/>
<circle cx="214.8" cy="448.2" r="0.8" fill="#c0905a" fill-opacity="0.6"/>
<circle cx="192.2" cy="465.4" r="0.7" fill="#ffffff" fill-opacity="0.6"/>
<circle cx="196.6" cy="456.6" r="0.9" fill="#c69a62" fill-opacity="0.6"/>
<circle cx="178.8" cy="466.3" r="1.1" fill="#c69a62" fill-opacity="0.6"/>
<circle cx="199.3" cy="441.5" r="1.1" fill="#c69a62" fill-opacity="0.6"/>
<circle cx="203.3" cy="448.3" r="1.0" fill="#c69a62" fill-opacity="0.6"/>
<circle cx="210.2" cy="442.8" r="0.9" fill="#c0905a" fill-opacity="0.6"/>
<circle cx="192.3" cy="449.8" r="1.0" fill="#ffffff" fill-opacity="0.6"/>
<circle cx="177.4" cy="466.9" r="1.1" fill="#b8b6c0" fill-opacity="0.6"/>
<circle cx="200.0" cy="460.6" r="1.0" fill="#c69a62" fill-opacity="0.6"/>
<circle cx="180.3" cy="452.5" r="0.6" fill="#b8b6c0" fill-opacity="0.6"/>
<circle cx="176.4" cy="449.9" r="0.7" fill="#c69a62" fill-opacity="0.6"/>
<circle cx="183.3" cy="457.0" r="0.7" fill="#ffffff" fill-opacity="0.6"/>
<circle cx="208.0" cy="464.9" r="1.1" fill="#b8b6c0" fill-opacity="0.6"/>
<circle cx="216.3" cy="458.6" r="0.8" fill="#b8b6c0" fill-opacity="0.6"/>
<circle cx="213.3" cy="476.3" r="0.9" fill="#b8b6c0" fill-opacity="0.6"/>
<circle cx="206.4" cy="453.2" r="1.2" fill="#ffffff" fill-opacity="0.6"/>
<circle cx="190.2" cy="451.0" r="0.9" fill="#ffffff" fill-opacity="0.6"/>
<circle cx="186.5" cy="454.8" r="0.8" fill="#c0905a" fill-opacity="0.6"/>
<circle cx="186.0" cy="440.4" r="1.0" fill="#b8b6c0" fill-opacity="0.6"/>
<circle cx="205.5" cy="458.4" r="1.0" fill="#c69a62" fill-opacity="0.6"/>
<circle cx="212.6" cy="474.0" r="0.7" fill="#b8b6c0" fill-opacity="0.6"/>
<circle cx="182.3" cy="473.8" r="1.2" fill="#b8b6c0" fill-opacity="0.6"/>
<circle cx="203.7" cy="455.0" r="0.7" fill="#c69a62" fill-opacity="0.6"/>
<circle cx="201.9" cy="478.1" r="1.1" fill="#ffffff" fill-opacity="0.6"/>
<circle cx="216.6" cy="461.9" r="1.1" fill="#b8b6c0" fill-opacity="0.6"/>
<circle cx="197.5" cy="442.3" r="1.0" fill="#b8b6c0" fill-opacity="0.6"/>
<circle cx="197.7" cy="475.7" r="0.6" fill="#c69a62" fill-opacity="0.6"/>
<circle cx="176.7" cy="455.6" r="1.2" fill="#c0905a" fill-opacity="0.6"/>
<circle cx="184.8" cy="465.3" r="0.5" fill="#c69a62" fill-opacity="0.6"/>
<circle cx="173.8" cy="475.2" r="1.1" fill="#b8b6c0" fill-opacity="0.6"/>
<circle cx="177.5" cy="463.3" r="0.7" fill="#c69a62" fill-opacity="0.6"/>
<circle cx="172.3" cy="475.4" r="0.7" fill="#b8b6c0" fill-opacity="0.6"/>
<circle cx="177.6" cy="468.0" r="1.0" fill="#c69a62" fill-opacity="0.6"/>
<circle cx="180.4" cy="472.9" r="1.0" fill="#c0905a" fill-opacity="0.6"/>
<circle cx="180.1" cy="471.6" r="0.7" fill="#b8b6c0" fill-opacity="0.6"/>
<circle cx="171.6" cy="460.3" r="1.0" fill="#ffffff" fill-opacity="0.6"/>
<circle cx="180.4" cy="460.2" r="0.6" fill="#c0905a" fill-opacity="0.6"/>
<circle cx="201.6" cy="446.3" r="1.1" fill="#c69a62" fill-opacity="0.6"/>
<circle cx="212.0" cy="464.5" r="0.6" fill="#ffffff" fill-opacity="0.6"/>
<circle cx="216.2" cy="468.2" r="0.8" fill="#c69a62" fill-opacity="0.6"/>
<circle cx="181.4" cy="446.4" r="1.0" fill="#c69a62" fill-opacity="0.6"/>
<circle cx="183.5" cy="464.8" r="0.9" fill="#c69a62" fill-opacity="0.6"/>
<circle cx="208.3" cy="448.7" r="1.0" fill="#c0905a" fill-opacity="0.6"/>
<circle cx="198.8" cy="444.0" r="0.7" fill="#c69a62" fill-opacity="0.6"/>
<circle cx="202.4" cy="445.4" r="0.9" fill="#c0905a" fill-opacity="0.6"/>
<circle cx="192.7" cy="440.7" r="1.1" fill="#c0905a" fill-opacity="0.6"/>
<circle cx="196.0" cy="440.3" r="0.9" fill="#c69a62" fill-opacity="0.6"/>
<circle cx="196.3" cy="450.6" r="0.9" fill="#c69a62" fill-opacity="0.6"/>
<circle cx="184.3" cy="466.8" r="0.7" fill="#c69a62" fill-opacity="0.6"/>
<circle cx="205.6" cy="440.1" r="1.1" fill="#c69a62" fill-opacity="0.6"/>
<circle cx="217.6" cy="440.2" r="0.8" fill="#ffffff" fill-opacity="0.6"/>
<circle cx="189.0" cy="477.3" r="0.8" fill="#c69a62" fill-opacity="0.6"/>
<circle cx="173.8" cy="468.0" r="1.1" fill="#c69a62" fill-opacity="0.6"/>
<circle cx="202.0" cy="468.4" r="0.9" fill="#ffffff" fill-opacity="0.6"/>
<circle cx="210.0" cy="460.3" r="1.2" fill="#ffffff" fill-opacity="0.6"/>
<circle cx="215.9" cy="442.6" r="1.0" fill="#c69a62" fill-opacity="0.6"/>
<circle cx="176.1" cy="451.1" r="1.0" fill="#ffffff" fill-opacity="0.6"/>
<circle cx="207.4" cy="468.6" r="1.1" fill="#c69a62" fill-opacity="0.6"/>
<circle cx="183.1" cy="455.9" r="1.1" fill="#ffffff" fill-opacity="0.6"/>
<circle cx="194.5" cy="440.2" r="0.9" fill="#ffffff" fill-opacity="0.6"/>
<circle cx="173.3" cy="451.6" r="1.1" fill="#c69a62" fill-opacity="0.6"/>
<circle cx="178.0" cy="440.1" r="0.8" fill="#b8b6c0" fill-opacity="0.6"/>
<circle cx="194.7" cy="465.0" r="1.1" fill="#c0905a" fill-opacity="0.6"/>
<circle cx="174.2" cy="475.9" r="0.9" fill="#ffffff" fill-opacity="0.6"/>
<circle cx="198.3" cy="465.0" r="0.9" fill="#c0905a" fill-opacity="0.6"/>
<circle cx="185.5" cy="440.3" r="0.7" fill="#ffffff" fill-opacity="0.6"/>
<circle cx="205.8" cy="468.3" r="1.0" fill="#b8b6c0" fill-opacity="0.6"/>
<circle cx="175.0" cy="470.6" r="0.6" fill="#c69a62" fill-opacity="0.6"/>
<circle cx="182.6" cy="453.7" r="1.0" fill="#ffffff" fill-opacity="0.6"/>
<circle cx="208.1" cy="440.5" r="0.8" fill="#c69a62" fill-opacity="0.6"/>
<circle cx="203.9" cy="463.9" r="1.2" fill="#c69a62" fill-opacity="0.6"/>
<circle cx="194.0" cy="467.1" r="1.2" fill="#c69a62" fill-opacity="0.6"/>
<circle cx="206.1" cy="454.8" r="1.2" fill="#c0905a" fill-opacity="0.6"/>
<circle cx="182.2" cy="474.9" r="0.6" fill="#b8b6c0" fill-opacity="0.6"/>
<circle cx="197.2" cy="452.6" r="1.2" fill="#c0905a" fill-opacity="0.6"/>
<circle cx="203.0" cy="464.7" r="1.2" fill="#ffffff" fill-opacity="0.6"/>
<circle cx="181.7" cy="444.7" r="0.9" fill="#c69a62" fill-opacity="0.6"/>
<circle cx="190.6" cy="440.8" r="0.7" fill="#c69a62" fill-opacity="0.6"/>
<circle cx="186.8" cy="480.7" r="0.9" fill="#c0905a" fill-opacity="0.6"/>
<circle cx="178.4" cy="457.8" r="1.2" fill="#ffffff" fill-opacity="0.6"/>
<circle cx="187.1" cy="463.4" r="1.1" fill="#ffffff" fill-opacity="0.6"/>
<circle cx="214.6" cy="442.6" r="1.1" fill="#c69a62" fill-opacity="0.6"/>
<circle cx="188.9" cy="468.3" r="0.7" fill="#c69a62" fill-opacity="0.6"/>
<circle cx="182.5" cy="469.0" r="1.1" fill="#b8b6c0" fill-opacity="0.6"/>
<circle cx="180.5" cy="443.6" r="0.8" fill="#c69a62" fill-opacity="0.6"/>
<circle cx="193.2" cy="453.4" r="0.9" fill="#c69a62" fill-opacity="0.6"/>
<circle cx="211.7" cy="443.3" r="0.8" fill="#c0905a" fill-opacity="0.6"/>
<circle cx="173.0" cy="445.4" r="1.2" fill="#ffffff" fill-opacity="0.6"/>
<circle cx="171.7" cy="442.8" r="0.7" fill="#b8b6c0" fill-opacity="0.6"/>
<circle cx="197.7" cy="461.1" r="0.7" fill="#c0905a" fill-opacity="0.6"/>
<circle cx="187.9" cy="442.1" r="1.2" fill="#c69a62" fill-opacity="0.6"/>
<circle cx="177.3" cy="444.3" r="1.1" fill="#c0905a" fill-opacity="0.6"/>
<circle cx="171.8" cy="446.9" r="0.8" fill="#c0905a" fill-opacity="0.6"/>
<circle cx="211.3" cy="449.0" r="0.7" fill="#ffffff" fill-opacity="0.6"/>
<circle cx="202.5" cy="446.2" r="0.9" fill="#b8b6c0" fill-opacity="0.6"/>
<circle cx="172.7" cy="442.0" r="0.9" fill="#c0905a" fill-opacity="0.6"/>
<circle cx="180.7" cy="450.1" r="0.8" fill="#ffffff" fill-opacity="0.6"/>
<circle cx="177.2" cy="464.1" r="0.7" fill="#ffffff" fill-opacity="0.6"/>
<circle cx="192.2" cy="448.8" r="1.1" fill="#c69a62" fill-opacity="0.6"/>
<circle cx="196.2" cy="451.7" r="0.6" fill="#ffffff" fill-opacity="0.6"/>
<circle cx="211.8" cy="443.9" r="0.7" fill="#c69a62" fill-opacity="0.6"/>
<circle cx="199.8" cy="441.8" r="1.1" fill="#ffffff" fill-opacity="0.6"/>
<circle cx="200.7" cy="456.9" r="1.1" fill="#ffffff" fill-opacity="0.6"/>
<circle cx="184.9" cy="462.2" r="1.1" fill="#c69a62" fill-opacity="0.6"/>
<circle cx="197.3" cy="448.0" r="0.6" fill="#c69a62" fill-opacity="0.6"/>
<circle cx="181.9" cy="460.2" r="0.6" fill="#b8b6c0" fill-opacity="0.6"/>
<circle cx="176.5" cy="453.5" r="0.8" fill="#c69a62" fill-opacity="0.6"/>
<circle cx="184.3" cy="463.9" r="0.7" fill="#b8b6c0" fill-opacity="0.6"/>
<circle cx="180.4" cy="467.5" r="0.7" fill="#ffffff" fill-opacity="0.6"/>
<circle cx="182.2" cy="440.9" r="0.7" fill="#b8b6c0" fill-opacity="0.6"/>
<circle cx="208.9" cy="452.9" r="0.7" fill="#ffffff" fill-opacity="0.6"/>
<circle cx="185.4" cy="476.4" r="1.1" fill="#c0905a" fill-opacity="0.6"/>
<circle cx="188.1" cy="440.5" r="0.8" fill="#c0905a" fill-opacity="0.6"/>
<circle cx="188.7" cy="472.2" r="0.7" fill="#ffffff" fill-opacity="0.6"/>
<circle cx="186.2" cy="444.7" r="0.5" fill="#c69a62" fill-opacity="0.6"/>
<circle cx="186.1" cy="448.7" r="0.7" fill="#ffffff" fill-opacity="0.6"/>
<circle cx="212.8" cy="460.7" r="0.8" fill="#c69a62" fill-opacity="0.6"/>
<circle cx="216.1" cy="448.3" r="0.9" fill="#c69a62" fill-opacity="0.6"/>
<rect x="169.8" y="481.5" width="49.4" height="1.5" fill="#9ca0ae" fill-opacity="0.4"/>
<line x1="169.20000000000002" y1="420" x2="169.20000000000002" y2="511" stroke="#8c8a86" stroke-width="0.8" stroke-opacity="0.6"/>
<line x1="219.79999999999998" y1="420" x2="219.79999999999998" y2="511" stroke="#8c8a86" stroke-width="0.8" stroke-opacity="0.6"/>
<path d="M170,416 L219,416 L219,420.5 Q194.5,423.5 170,420.5 Z" fill="#1c2230" fill-opacity="0.9"/>
<path d="M171,421.3 Q194.5,424.3 218,421.3" fill="none" stroke="#dfe6f0" stroke-width="0.9" stroke-opacity="0.7"/>
<path d="M168.5,400 Q168,395.6 174,395.4 Q194.5,395 215,395.4 Q221,395.6 220.5,400 L221,417 Q194.5,420.5 168,417 Z" fill="url(#cap)"/>
<path d="M168.5,400 Q168,395.6 174,395.4 Q194.5,395 215,395.4 Q221,395.6 220.5,400 L221,417 Q194.5,420.5 168,417 Z" fill="url(#capx)"/>
<text x="190.70" y="412.20" font-size="15" font-weight="bold" fill="#fff" text-anchor="middle" textLength="15.5" lengthAdjust="spacingAndGlyphs" >4h</text>
<path d="M235.8,419 L287.2,419 L287.2,512 Q287.2,521 261.5,521.3 Q235.8,521 235.8,512 Z" fill="url(#glass)"/>
<rect x="236.8" y="421" width="49.4" height="19.5" fill="#d6d6d6" fill-opacity="0.12"/>
<rect x="236.8" y="481.5" width="49.4" height="26.5" fill="#fffaf0" fill-opacity="0.25"/>
<path d="M236.8,508.5 Q261.5,507.5 286.2,508.5 L286.2,512 Q286.2,520.3 261.5,520.6 Q236.8,520.3 236.8,512 Z" fill="#c8b08a" fill-opacity="0.45"/>
<path d="M237.3,509 Q261.5,507.8 285.7,509" fill="none" stroke="#fffaf0" stroke-width="1" stroke-opacity="0.8"/>
<path d="M237.8,510.3 Q261.5,509.3 285.2,510.3" fill="none" stroke="#6c7080" stroke-width="0.8" stroke-opacity="0.7"/>
<path d="M238.8,516 Q261.5,519.5 284.2,516" fill="none" stroke="#f4f6fa" stroke-width="1.6" stroke-opacity="0.85"/>
<rect x="236.8" y="440.5" width="49.4" height="41.0" fill="url(#foamb)" fill-opacity="0.8"/>
<circle cx="274.4" cy="466.0" r="1.8" fill="#c89a60" fill-opacity="0.16" stroke="#ffffff" stroke-width="0.7" stroke-opacity="0.85"/>
<circle cx="266.8" cy="444.0" r="0.9" fill="#c89a60" fill-opacity="0.16" stroke="#ffffff" stroke-width="0.7" stroke-opacity="0.85"/>
<circle cx="279.5" cy="456.4" r="2.3" fill="#c89a60" fill-opacity="0.16" stroke="#ffffff" stroke-width="0.7" stroke-opacity="0.85"/>
<circle cx="275.9" cy="468.2" r="1.2" fill="#c89a60" fill-opacity="0.16" stroke="#ffffff" stroke-width="0.7" stroke-opacity="0.85"/>
<circle cx="254.9" cy="479.6" r="1.0" fill="#c89a60" fill-opacity="0.16" stroke="#a0a4b0" stroke-width="0.7" stroke-opacity="0.85"/>
<circle cx="250.6" cy="451.6" r="1.2" fill="#c89a60" fill-opacity="0.16" stroke="#ffffff" stroke-width="0.7" stroke-opacity="0.85"/>
<circle cx="281.7" cy="479.7" r="0.8" fill="#c89a60" fill-opacity="0.16" stroke="#ffffff" stroke-width="0.7" stroke-opacity="0.85"/>
<circle cx="278.0" cy="471.3" r="0.9" fill="#c89a60" fill-opacity="0.16" stroke="#ffffff" stroke-width="0.7" stroke-opacity="0.85"/>
<circle cx="250.3" cy="445.6" r="0.8" fill="#c89a60" fill-opacity="0.16" stroke="#a0a4b0" stroke-width="0.7" stroke-opacity="0.85"/>
<circle cx="270.8" cy="468.3" r="2.3" fill="#c89a60" fill-opacity="0.16" stroke="#a0a4b0" stroke-width="0.7" stroke-opacity="0.85"/>
<circle cx="245.4" cy="465.7" r="1.6" fill="#c89a60" fill-opacity="0.16" stroke="#ffffff" stroke-width="0.7" stroke-opacity="0.85"/>
<circle cx="255.3" cy="452.6" r="2.0" fill="#c89a60" fill-opacity="0.16" stroke="#ffffff" stroke-width="0.7" stroke-opacity="0.85"/>
<circle cx="249.0" cy="451.2" r="1.3" fill="#c89a60" fill-opacity="0.16" stroke="#a0a4b0" stroke-width="0.7" stroke-opacity="0.85"/>
<circle cx="281.3" cy="470.3" r="2.2" fill="#c89a60" fill-opacity="0.16" stroke="#ffffff" stroke-width="0.7" stroke-opacity="0.85"/>
<circle cx="276.6" cy="476.0" r="1.3" fill="#c89a60" fill-opacity="0.16" stroke="#ffffff" stroke-width="0.7" stroke-opacity="0.85"/>
<circle cx="262.1" cy="468.0" r="0.9" fill="#c89a60" fill-opacity="0.16" stroke="#ffffff" stroke-width="0.7" stroke-opacity="0.85"/>
<circle cx="279.0" cy="443.6" r="1.2" fill="#c89a60" fill-opacity="0.16" stroke="#ffffff" stroke-width="0.7" stroke-opacity="0.85"/>
<circle cx="249.8" cy="466.3" r="1.4" fill="#c89a60" fill-opacity="0.16" stroke="#ffffff" stroke-width="0.7" stroke-opacity="0.85"/>
<circle cx="246.5" cy="474.9" r="1.1" fill="#c89a60" fill-opacity="0.16" stroke="#a0a4b0" stroke-width="0.7" stroke-opacity="0.85"/>
<circle cx="264.7" cy="457.9" r="1.9" fill="#c89a60" fill-opacity="0.16" stroke="#ffffff" stroke-width="0.7" stroke-opacity="0.85"/>
<circle cx="275.8" cy="446.4" r="1.4" fill="#c89a60" fill-opacity="0.16" stroke="#ffffff" stroke-width="0.7" stroke-opacity="0.85"/>
<circle cx="248.8" cy="448.7" r="0.8" fill="#c89a60" fill-opacity="0.16" stroke="#a0a4b0" stroke-width="0.7" stroke-opacity="0.85"/>
<circle cx="250.5" cy="452.1" r="1.2" fill="#c89a60" fill-opacity="0.16" stroke="#ffffff" stroke-width="0.7" stroke-opacity="0.85"/>
<circle cx="256.1" cy="468.0" r="1.0" fill="#c89a60" fill-opacity="0.16" stroke="#a0a4b0" stroke-width="0.7" stroke-opacity="0.85"/>
<circle cx="271.6" cy="446.1" r="0.9" fill="#c89a60" fill-opacity="0.16" stroke="#ffffff" stroke-width="0.7" stroke-opacity="0.85"/>
<circle cx="254.7" cy="462.5" r="2.1" fill="#c89a60" fill-opacity="0.16" stroke="#ffffff" stroke-width="0.7" stroke-opacity="0.85"/>
<circle cx="253.4" cy="442.5" r="1.7" fill="#c89a60" fill-opacity="0.16" stroke="#ffffff" stroke-width="0.7" stroke-opacity="0.85"/>
<circle cx="245.9" cy="444.1" r="1.5" fill="#c89a60" fill-opacity="0.16" stroke="#ffffff" stroke-width="0.7" stroke-opacity="0.85"/>
<circle cx="248.4" cy="469.7" r="1.5" fill="#c89a60" fill-opacity="0.16" stroke="#a0a4b0" stroke-width="0.7" stroke-opacity="0.85"/>
<circle cx="284.3" cy="456.7" r="1.9" fill="#c89a60" fill-opacity="0.16" stroke="#ffffff" stroke-width="0.7" stroke-opacity="0.85"/>
<circle cx="275.7" cy="447.2" r="1.1" fill="#c89a60" fill-opacity="0.16" stroke="#ffffff" stroke-width="0.7" stroke-opacity="0.85"/>
<circle cx="264.2" cy="476.5" r="2.2" fill="#c89a60" fill-opacity="0.16" stroke="#ffffff" stroke-width="0.7" stroke-opacity="0.85"/>
<circle cx="243.5" cy="454.1" r="0.8" fill="#c89a60" fill-opacity="0.16" stroke="#a0a4b0" stroke-width="0.7" stroke-opacity="0.85"/>
<circle cx="250.8" cy="457.1" r="1.3" fill="#c89a60" fill-opacity="0.16" stroke="#ffffff" stroke-width="0.7" stroke-opacity="0.85"/>
<circle cx="260.7" cy="455.8" r="1.2" fill="#c89a60" fill-opacity="0.16" stroke="#ffffff" stroke-width="0.7" stroke-opacity="0.85"/>
<circle cx="245.0" cy="441.8" r="2.0" fill="#c89a60" fill-opacity="0.16" stroke="#ffffff" stroke-width="0.7" stroke-opacity="0.85"/>
<circle cx="238.0" cy="454.6" r="1.0" fill="#c89a60" fill-opacity="0.16" stroke="#a0a4b0" stroke-width="0.7" stroke-opacity="0.85"/>
<circle cx="284.8" cy="457.4" r="0.9" fill="#c89a60" fill-opacity="0.16" stroke="#ffffff" stroke-width="0.7" stroke-opacity="0.85"/>
<circle cx="276.1" cy="456.9" r="0.9" fill="#c89a60" fill-opacity="0.16" stroke="#ffffff" stroke-width="0.7" stroke-opacity="0.85"/>
<circle cx="250.9" cy="478.1" r="2.2" fill="#c89a60" fill-opacity="0.16" stroke="#ffffff" stroke-width="0.7" stroke-opacity="0.85"/>
<circle cx="264.9" cy="478.2" r="0.9" fill="#c89a60" fill-opacity="0.16" stroke="#ffffff" stroke-width="0.7" stroke-opacity="0.85"/>
<circle cx="282.6" cy="462.5" r="1.9" fill="#c89a60" fill-opacity="0.16" stroke="#ffffff" stroke-width="0.7" stroke-opacity="0.85"/>
<circle cx="254.8" cy="470.9" r="1.3" fill="#c89a60" fill-opacity="0.16" stroke="#ffffff" stroke-width="0.7" stroke-opacity="0.85"/>
<circle cx="238.3" cy="449.7" r="2.3" fill="#c89a60" fill-opacity="0.16" stroke="#ffffff" stroke-width="0.7" stroke-opacity="0.85"/>
<circle cx="274.1" cy="451.8" r="1.2" fill="#c89a60" fill-opacity="0.16" stroke="#ffffff" stroke-width="0.7" stroke-opacity="0.85"/>
<circle cx="256.7" cy="472.8" r="2.1" fill="#c89a60" fill-opacity="0.16" stroke="#ffffff" stroke-width="0.7" stroke-opacity="0.85"/>
<circle cx="282.2" cy="460.3" r="2.1" fill="#c89a60" fill-opacity="0.16" stroke="#ffffff" stroke-width="0.7" stroke-opacity="0.85"/>
<circle cx="249.7" cy="477.0" r="0.8" fill="#c89a60" fill-opacity="0.16" stroke="#a0a4b0" stroke-width="0.7" stroke-opacity="0.85"/>
<circle cx="248.6" cy="456.6" r="1.4" fill="#c89a60" fill-opacity="0.16" stroke="#ffffff" stroke-width="0.7" stroke-opacity="0.85"/>
<circle cx="276.2" cy="455.7" r="1.8" fill="#c89a60" fill-opacity="0.16" stroke="#ffffff" stroke-width="0.7" stroke-opacity="0.85"/>
<circle cx="252.6" cy="444.1" r="1.8" fill="#c89a60" fill-opacity="0.16" stroke="#ffffff" stroke-width="0.7" stroke-opacity="0.85"/>
<circle cx="250.3" cy="449.8" r="1.1" fill="#c89a60" fill-opacity="0.16" stroke="#ffffff" stroke-width="0.7" stroke-opacity="0.85"/>
<circle cx="273.0" cy="462.8" r="1.9" fill="#c89a60" fill-opacity="0.16" stroke="#a0a4b0" stroke-width="0.7" stroke-opacity="0.85"/>
<circle cx="254.3" cy="447.6" r="1.4" fill="#c89a60" fill-opacity="0.16" stroke="#a0a4b0" stroke-width="0.7" stroke-opacity="0.85"/>
<circle cx="258.2" cy="441.9" r="1.6" fill="#c89a60" fill-opacity="0.16" stroke="#ffffff" stroke-width="0.7" stroke-opacity="0.85"/>
<circle cx="242.3" cy="478.6" r="2.1" fill="#c89a60" fill-opacity="0.16" stroke="#a0a4b0" stroke-width="0.7" stroke-opacity="0.85"/>
<circle cx="238.8" cy="448.3" r="0.9" fill="#c89a60" fill-opacity="0.16" stroke="#ffffff" stroke-width="0.7" stroke-opacity="0.85"/>
<circle cx="265.2" cy="454.0" r="1.6" fill="#c89a60" fill-opacity="0.16" stroke="#a0a4b0" stroke-width="0.7" stroke-opacity="0.85"/>
<circle cx="261.5" cy="471.9" r="2.2" fill="#c89a60" fill-opacity="0.16" stroke="#ffffff" stroke-width="0.7" stroke-opacity="0.85"/>
<circle cx="241.1" cy="456.7" r="2.3" fill="#c89a60" fill-opacity="0.16" stroke="#a0a4b0" stroke-width="0.7" stroke-opacity="0.85"/>
<circle cx="274.7" cy="462.0" r="0.8" fill="#c89a60" fill-opacity="0.16" stroke="#ffffff" stroke-width="0.7" stroke-opacity="0.85"/>
<circle cx="281.0" cy="443.7" r="1.8" fill="#c89a60" fill-opacity="0.16" stroke="#ffffff" stroke-width="0.7" stroke-opacity="0.85"/>
<circle cx="279.9" cy="474.9" r="1.8" fill="#c89a60" fill-opacity="0.16" stroke="#ffffff" stroke-width="0.7" stroke-opacity="0.85"/>
<circle cx="243.6" cy="470.3" r="2.0" fill="#c89a60" fill-opacity="0.16" stroke="#ffffff" stroke-width="0.7" stroke-opacity="0.85"/>
<circle cx="269.3" cy="457.9" r="1.4" fill="#c89a60" fill-opacity="0.16" stroke="#a0a4b0" stroke-width="0.7" stroke-opacity="0.85"/>
<circle cx="255.6" cy="462.6" r="0.9" fill="#c89a60" fill-opacity="0.16" stroke="#ffffff" stroke-width="0.7" stroke-opacity="0.85"/>
<circle cx="262.8" cy="459.1" r="1.3" fill="#c89a60" fill-opacity="0.16" stroke="#ffffff" stroke-width="0.7" stroke-opacity="0.85"/>
<circle cx="266.0" cy="477.8" r="1.0" fill="#c89a60" fill-opacity="0.16" stroke="#ffffff" stroke-width="0.7" stroke-opacity="0.85"/>
<circle cx="253.4" cy="451.5" r="1.8" fill="#c89a60" fill-opacity="0.16" stroke="#a0a4b0" stroke-width="0.7" stroke-opacity="0.85"/>
<circle cx="272.7" cy="480.1" r="1.4" fill="#c89a60" fill-opacity="0.16" stroke="#a0a4b0" stroke-width="0.7" stroke-opacity="0.85"/>
<circle cx="273.5" cy="476.5" r="1.0" fill="#c89a60" fill-opacity="0.16" stroke="#a0a4b0" stroke-width="0.7" stroke-opacity="0.85"/>
<circle cx="277.6" cy="466.8" r="2.3" fill="#c89a60" fill-opacity="0.16" stroke="#ffffff" stroke-width="0.7" stroke-opacity="0.85"/>
<circle cx="275.6" cy="461.5" r="2.4" fill="#c89a60" fill-opacity="0.16" stroke="#ffffff" stroke-width="0.7" stroke-opacity="0.85"/>
<circle cx="246.6" cy="443.0" r="1.3" fill="#c89a60" fill-opacity="0.16" stroke="#ffffff" stroke-width="0.7" stroke-opacity="0.85"/>
<circle cx="259.3" cy="462.4" r="2.2" fill="#c89a60" fill-opacity="0.16" stroke="#a0a4b0" stroke-width="0.7" stroke-opacity="0.85"/>
<circle cx="261.0" cy="479.0" r="1.2" fill="#c89a60" fill-opacity="0.16" stroke="#ffffff" stroke-width="0.7" stroke-opacity="0.85"/>
<circle cx="264.1" cy="472.2" r="1.6" fill="#c89a60" fill-opacity="0.16" stroke="#a0a4b0" stroke-width="0.7" stroke-opacity="0.85"/>
<circle cx="241.2" cy="460.9" r="0.9" fill="#c89a60" fill-opacity="0.16" stroke="#ffffff" stroke-width="0.7" stroke-opacity="0.85"/>
<circle cx="275.6" cy="447.4" r="1.4" fill="#c89a60" fill-opacity="0.16" stroke="#ffffff" stroke-width="0.7" stroke-opacity="0.85"/>
<circle cx="253.6" cy="477.7" r="2.3" fill="#c89a60" fill-opacity="0.16" stroke="#a0a4b0" stroke-width="0.7" stroke-opacity="0.85"/>
<circle cx="277.3" cy="446.1" r="1.1" fill="#c89a60" fill-opacity="0.16" stroke="#ffffff" stroke-width="0.7" stroke-opacity="0.85"/>
<circle cx="239.3" cy="468.1" r="1.5" fill="#c89a60" fill-opacity="0.16" stroke="#ffffff" stroke-width="0.7" stroke-opacity="0.85"/>
<circle cx="241.2" cy="480.0" r="1.1" fill="#c89a60" fill-opacity="0.16" stroke="#ffffff" stroke-width="0.7" stroke-opacity="0.85"/>
<circle cx="279.3" cy="469.9" r="1.1" fill="#c89a60" fill-opacity="0.16" stroke="#ffffff" stroke-width="0.7" stroke-opacity="0.85"/>
<circle cx="255.7" cy="473.3" r="1.9" fill="#c89a60" fill-opacity="0.16" stroke="#ffffff" stroke-width="0.7" stroke-opacity="0.85"/>
<circle cx="269.0" cy="449.6" r="1.1" fill="#c89a60" fill-opacity="0.16" stroke="#a0a4b0" stroke-width="0.7" stroke-opacity="0.85"/>
<circle cx="245.9" cy="464.1" r="0.9" fill="#c89a60" fill-opacity="0.16" stroke="#ffffff" stroke-width="0.7" stroke-opacity="0.85"/>
<circle cx="243.3" cy="478.2" r="1.8" fill="#c89a60" fill-opacity="0.16" stroke="#ffffff" stroke-width="0.7" stroke-opacity="0.85"/>
<circle cx="252.4" cy="441.8" r="0.9" fill="#c89a60" fill-opacity="0.16" stroke="#a0a4b0" stroke-width="0.7" stroke-opacity="0.85"/>
<circle cx="272.7" cy="455.6" r="1.3" fill="#c89a60" fill-opacity="0.16" stroke="#ffffff" stroke-width="0.7" stroke-opacity="0.85"/>
<circle cx="247.3" cy="444.3" r="1.2" fill="#c89a60" fill-opacity="0.16" stroke="#ffffff" stroke-width="0.7" stroke-opacity="0.85"/>
<circle cx="276.7" cy="457.5" r="1.5" fill="#c89a60" fill-opacity="0.16" stroke="#ffffff" stroke-width="0.7" stroke-opacity="0.85"/>
<circle cx="282.4" cy="455.0" r="1.9" fill="#c89a60" fill-opacity="0.16" stroke="#a0a4b0" stroke-width="0.7" stroke-opacity="0.85"/>
<circle cx="261.1" cy="446.1" r="1.0" fill="#c89a60" fill-opacity="0.16" stroke="#ffffff" stroke-width="0.7" stroke-opacity="0.85"/>
<circle cx="282.9" cy="444.5" r="1.8" fill="#c89a60" fill-opacity="0.16" stroke="#a0a4b0" stroke-width="0.7" stroke-opacity="0.85"/>
<circle cx="282.1" cy="456.6" r="2.0" fill="#c89a60" fill-opacity="0.16" stroke="#a0a4b0" stroke-width="0.7" stroke-opacity="0.85"/>
<circle cx="259.1" cy="444.0" r="1.5" fill="#c89a60" fill-opacity="0.16" stroke="#ffffff" stroke-width="0.7" stroke-opacity="0.85"/>
<circle cx="265.5" cy="467.2" r="1.2" fill="#c89a60" fill-opacity="0.16" stroke="#ffffff" stroke-width="0.7" stroke-opacity="0.85"/>
<circle cx="269.7" cy="451.0" r="1.5" fill="#c89a60" fill-opacity="0.16" stroke="#a0a4b0" stroke-width="0.7" stroke-opacity="0.85"/>
<circle cx="265.9" cy="475.3" r="1.4" fill="#c89a60" fill-opacity="0.16" stroke="#ffffff" stroke-width="0.7" stroke-opacity="0.85"/>
<circle cx="254.0" cy="473.5" r="2.2" fill="#c89a60" fill-opacity="0.16" stroke="#ffffff" stroke-width="0.7" stroke-opacity="0.85"/>
<circle cx="263.7" cy="445.4" r="2.2" fill="#c89a60" fill-opacity="0.16" stroke="#ffffff" stroke-width="0.7" stroke-opacity="0.85"/>
<circle cx="275.3" cy="442.1" r="0.8" fill="#c89a60" fill-opacity="0.16" stroke="#ffffff" stroke-width="0.7" stroke-opacity="0.85"/>
<circle cx="284.7" cy="473.3" r="2.2" fill="#c89a60" fill-opacity="0.16" stroke="#a0a4b0" stroke-width="0.7" stroke-opacity="0.85"/>
<circle cx="260.0" cy="455.6" r="1.5" fill="#c89a60" fill-opacity="0.16" stroke="#ffffff" stroke-width="0.7" stroke-opacity="0.85"/>
<circle cx="260.5" cy="466.9" r="0.9" fill="#c89a60" fill-opacity="0.16" stroke="#a0a4b0" stroke-width="0.7" stroke-opacity="0.85"/>
<circle cx="284.1" cy="480.2" r="1.4" fill="#c89a60" fill-opacity="0.16" stroke="#a0a4b0" stroke-width="0.7" stroke-opacity="0.85"/>
<circle cx="268.6" cy="468.8" r="2.4" fill="#c89a60" fill-opacity="0.16" stroke="#ffffff" stroke-width="0.7" stroke-opacity="0.85"/>
<circle cx="285.2" cy="467.1" r="2.1" fill="#c89a60" fill-opacity="0.16" stroke="#a0a4b0" stroke-width="0.7" stroke-opacity="0.85"/>
<circle cx="262.3" cy="464.3" r="1.6" fill="#c89a60" fill-opacity="0.16" stroke="#a0a4b0" stroke-width="0.7" stroke-opacity="0.85"/>
<circle cx="238.8" cy="479.6" r="1.9" fill="none" stroke="#8a90a2" stroke-width="0.6" stroke-opacity="0.5"/>
<circle cx="241.3" cy="478.7" r="1.9" fill="none" stroke="#8a90a2" stroke-width="0.6" stroke-opacity="0.5"/>
<circle cx="245.1" cy="478.8" r="1.8" fill="none" stroke="#8a90a2" stroke-width="0.6" stroke-opacity="0.5"/>
<circle cx="248.3" cy="479.2" r="2.0" fill="none" stroke="#8a90a2" stroke-width="0.6" stroke-opacity="0.5"/>
<circle cx="250.7" cy="479.5" r="1.6" fill="none" stroke="#8a90a2" stroke-width="0.6" stroke-opacity="0.5"/>
<circle cx="253.7" cy="478.9" r="2.0" fill="none" stroke="#8a90a2" stroke-width="0.6" stroke-opacity="0.5"/>
<circle cx="256.4" cy="479.3" r="1.7" fill="none" stroke="#8a90a2" stroke-width="0.6" stroke-opacity="0.5"/>
<circle cx="260.3" cy="478.9" r="1.4" fill="none" stroke="#8a90a2" stroke-width="0.6" stroke-opacity="0.5"/>
<circle cx="263.3" cy="479.1" r="1.4" fill="none" stroke="#8a90a2" stroke-width="0.6" stroke-opacity="0.5"/>
<circle cx="265.5" cy="479.0" r="1.7" fill="none" stroke="#8a90a2" stroke-width="0.6" stroke-opacity="0.5"/>
<circle cx="268.6" cy="479.3" r="1.5" fill="none" stroke="#8a90a2" stroke-width="0.6" stroke-opacity="0.5"/>
<circle cx="271.9" cy="479.2" r="2.1" fill="none" stroke="#8a90a2" stroke-width="0.6" stroke-opacity="0.5"/>
<circle cx="274.9" cy="479.5" r="1.4" fill="none" stroke="#8a90a2" stroke-width="0.6" stroke-opacity="0.5"/>
<circle cx="277.4" cy="478.8" r="1.9" fill="none" stroke="#8a90a2" stroke-width="0.6" stroke-opacity="0.5"/>
<circle cx="280.8" cy="479.6" r="1.8" fill="none" stroke="#8a90a2" stroke-width="0.6" stroke-opacity="0.5"/>
<circle cx="283.5" cy="479.1" r="2.1" fill="none" stroke="#8a90a2" stroke-width="0.6" stroke-opacity="0.5"/>
<circle cx="287.0" cy="479.6" r="2.0" fill="none" stroke="#8a90a2" stroke-width="0.6" stroke-opacity="0.5"/>
<line x1="236.20000000000002" y1="420" x2="236.20000000000002" y2="511" stroke="#8c8a86" stroke-width="0.8" stroke-opacity="0.6"/>
<line x1="286.8" y1="420" x2="286.8" y2="511" stroke="#8c8a86" stroke-width="0.8" stroke-opacity="0.6"/>
<path d="M237,416 L286,416 L286,420.5 Q261.5,423.5 237,420.5 Z" fill="#1c2230" fill-opacity="0.9"/>
<path d="M238,421.3 Q261.5,424.3 285,421.3" fill="none" stroke="#dfe6f0" stroke-width="0.9" stroke-opacity="0.7"/>
<path d="M235.5,400 Q235,395.6 241,395.4 Q261.5,395 282,395.4 Q288,395.6 287.5,400 L288,417 Q261.5,420.5 235,417 Z" fill="url(#cap)"/>
<path d="M235.5,400 Q235,395.6 241,395.4 Q261.5,395 282,395.4 Q288,395.6 287.5,400 L288,417 Q261.5,420.5 235,417 Z" fill="url(#capx)"/>
<text x="261.80" y="412.20" font-size="15" font-weight="bold" fill="#fff" text-anchor="middle" textLength="15.5" lengthAdjust="spacingAndGlyphs" >6h</text>
<path d="M301.8,419 L352.8,419 L352.8,512 Q352.8,521 327.3,521.3 Q301.8,521 301.8,512 Z" fill="url(#glass)"/>
<rect x="302.8" y="421" width="49.0" height="22.5" fill="#d6d6d6" fill-opacity="0.12"/>
<rect x="302.8" y="483" width="49.0" height="25" fill="#fffaf0" fill-opacity="0.25"/>
<path d="M302.8,508.5 Q327.3,507.5 351.8,508.5 L351.8,512 Q351.8,520.3 327.3,520.6 Q302.8,520.3 302.8,512 Z" fill="#c8b08a" fill-opacity="0.45"/>
<path d="M303.3,509 Q327.3,507.8 351.3,509" fill="none" stroke="#fffaf0" stroke-width="1" stroke-opacity="0.8"/>
<path d="M303.8,510.3 Q327.3,509.3 350.8,510.3" fill="none" stroke="#6c7080" stroke-width="0.8" stroke-opacity="0.7"/>
<path d="M304.8,516 Q327.3,519.5 349.8,516" fill="none" stroke="#f4f6fa" stroke-width="1.6" stroke-opacity="0.85"/>
<rect x="302.8" y="443.5" width="49.0" height="39.5" fill="url(#foamb)" fill-opacity="0.8"/>
<circle cx="314.6" cy="474.4" r="1.0" fill="#c89a60" fill-opacity="0.16" stroke="#ffffff" stroke-width="0.7" stroke-opacity="0.85"/>
<circle cx="311.2" cy="464.4" r="0.8" fill="#c89a60" fill-opacity="0.16" stroke="#ffffff" stroke-width="0.7" stroke-opacity="0.85"/>
<circle cx="327.0" cy="478.7" r="1.7" fill="#c89a60" fill-opacity="0.16" stroke="#ffffff" stroke-width="0.7" stroke-opacity="0.85"/>
<circle cx="322.1" cy="455.7" r="1.1" fill="#c89a60" fill-opacity="0.16" stroke="#ffffff" stroke-width="0.7" stroke-opacity="0.85"/>
<circle cx="334.7" cy="460.2" r="2.2" fill="#c89a60" fill-opacity="0.16" stroke="#a0a4b0" stroke-width="0.7" stroke-opacity="0.85"/>
<circle cx="334.5" cy="477.8" r="2.3" fill="#c89a60" fill-opacity="0.16" stroke="#ffffff" stroke-width="0.7" stroke-opacity="0.85"/>
<circle cx="322.3" cy="455.7" r="2.0" fill="#c89a60" fill-opacity="0.16" stroke="#ffffff" stroke-width="0.7" stroke-opacity="0.85"/>
<circle cx="314.1" cy="447.7" r="2.1" fill="#c89a60" fill-opacity="0.16" stroke="#ffffff" stroke-width="0.7" stroke-opacity="0.85"/>
<circle cx="320.6" cy="460.6" r="1.5" fill="#c89a60" fill-opacity="0.16" stroke="#ffffff" stroke-width="0.7" stroke-opacity="0.85"/>
<circle cx="318.4" cy="464.4" r="1.1" fill="#c89a60" fill-opacity="0.16" stroke="#ffffff" stroke-width="0.7" stroke-opacity="0.85"/>
<circle cx="329.5" cy="459.5" r="1.2" fill="#c89a60" fill-opacity="0.16" stroke="#ffffff" stroke-width="0.7" stroke-opacity="0.85"/>
<circle cx="337.3" cy="445.7" r="1.4" fill="#c89a60" fill-opacity="0.16" stroke="#a0a4b0" stroke-width="0.7" stroke-opacity="0.85"/>
<circle cx="328.2" cy="464.3" r="2.0" fill="#c89a60" fill-opacity="0.16" stroke="#ffffff" stroke-width="0.7" stroke-opacity="0.85"/>
<circle cx="322.9" cy="480.7" r="0.8" fill="#c89a60" fill-opacity="0.16" stroke="#ffffff" stroke-width="0.7" stroke-opacity="0.85"/>
<circle cx="349.0" cy="458.2" r="1.8" fill="#c89a60" fill-opacity="0.16" stroke="#ffffff" stroke-width="0.7" stroke-opacity="0.85"/>
<circle cx="343.3" cy="452.4" r="2.0" fill="#c89a60" fill-opacity="0.16" stroke="#ffffff" stroke-width="0.7" stroke-opacity="0.85"/>
<circle cx="318.6" cy="463.2" r="1.6" fill="#c89a60" fill-opacity="0.16" stroke="#ffffff" stroke-width="0.7" stroke-opacity="0.85"/>
<circle cx="306.3" cy="448.0" r="1.2" fill="#c89a60" fill-opacity="0.16" stroke="#ffffff" stroke-width="0.7" stroke-opacity="0.85"/>
<circle cx="341.8" cy="479.9" r="1.8" fill="#c89a60" fill-opacity="0.16" stroke="#ffffff" stroke-width="0.7" stroke-opacity="0.85"/>
<circle cx="322.7" cy="455.2" r="1.9" fill="#c89a60" fill-opacity="0.16" stroke="#ffffff" stroke-width="0.7" stroke-opacity="0.85"/>
<circle cx="322.4" cy="452.9" r="1.2" fill="#c89a60" fill-opacity="0.16" stroke="#ffffff" stroke-width="0.7" stroke-opacity="0.85"/>
<circle cx="318.7" cy="475.2" r="2.1" fill="#c89a60" fill-opacity="0.16" stroke="#ffffff" stroke-width="0.7" stroke-opacity="0.85"/>
<circle cx="306.5" cy="473.1" r="0.9" fill="#c89a60" fill-opacity="0.16" stroke="#ffffff" stroke-width="0.7" stroke-opacity="0.85"/>
<circle cx="329.7" cy="479.3" r="1.8" fill="#c89a60" fill-opacity="0.16" stroke="#ffffff" stroke-width="0.7" stroke-opacity="0.85"/>
<circle cx="332.8" cy="470.1" r="1.1" fill="#c89a60" fill-opacity="0.16" stroke="#ffffff" stroke-width="0.7" stroke-opacity="0.85"/>
<circle cx="342.5" cy="462.5" r="1.3" fill="#c89a60" fill-opacity="0.16" stroke="#ffffff" stroke-width="0.7" stroke-opacity="0.85"/>
<circle cx="311.9" cy="447.6" r="1.9" fill="#c89a60" fill-opacity="0.16" stroke="#a0a4b0" stroke-width="0.7" stroke-opacity="0.85"/>
<circle cx="321.6" cy="461.3" r="1.5" fill="#c89a60" fill-opacity="0.16" stroke="#ffffff" stroke-width="0.7" stroke-opacity="0.85"/>
<circle cx="324.7" cy="478.1" r="2.0" fill="#c89a60" fill-opacity="0.16" stroke="#ffffff" stroke-width="0.7" stroke-opacity="0.85"/>
<circle cx="348.8" cy="457.8" r="2.1" fill="#c89a60" fill-opacity="0.16" stroke="#ffffff" stroke-width="0.7" stroke-opacity="0.85"/>
<circle cx="336.8" cy="459.4" r="1.9" fill="#c89a60" fill-opacity="0.16" stroke="#ffffff" stroke-width="0.7" stroke-opacity="0.85"/>
<circle cx="347.1" cy="452.4" r="1.5" fill="#c89a60" fill-opacity="0.16" stroke="#a0a4b0" stroke-width="0.7" stroke-opacity="0.85"/>
<circle cx="343.2" cy="449.1" r="2.2" fill="#c89a60" fill-opacity="0.16" stroke="#ffffff" stroke-width="0.7" stroke-opacity="0.85"/>
<circle cx="323.0" cy="478.1" r="2.3" fill="#c89a60" fill-opacity="0.16" stroke="#a0a4b0" stroke-width="0.7" stroke-opacity="0.85"/>
<circle cx="335.5" cy="479.3" r="1.6" fill="#c89a60" fill-opacity="0.16" stroke="#ffffff" stroke-width="0.7" stroke-opacity="0.85"/>
<circle cx="327.8" cy="462.6" r="1.7" fill="#c89a60" fill-opacity="0.16" stroke="#a0a4b0" stroke-width="0.7" stroke-opacity="0.85"/>
<circle cx="340.1" cy="456.7" r="0.8" fill="#c89a60" fill-opacity="0.16" stroke="#a0a4b0" stroke-width="0.7" stroke-opacity="0.85"/>
<circle cx="334.4" cy="458.6" r="2.1" fill="#c89a60" fill-opacity="0.16" stroke="#ffffff" stroke-width="0.7" stroke-opacity="0.85"/>
<circle cx="325.1" cy="466.6" r="1.5" fill="#c89a60" fill-opacity="0.16" stroke="#a0a4b0" stroke-width="0.7" stroke-opacity="0.85"/>
<circle cx="326.4" cy="481.3" r="1.3" fill="#c89a60" fill-opacity="0.16" stroke="#ffffff" stroke-width="0.7" stroke-opacity="0.85"/>
<circle cx="314.8" cy="454.3" r="2.0" fill="#c89a60" fill-opacity="0.16" stroke="#ffffff" stroke-width="0.7" stroke-opacity="0.85"/>
<circle cx="315.9" cy="446.9" r="2.1" fill="#c89a60" fill-opacity="0.16" stroke="#ffffff" stroke-width="0.7" stroke-opacity="0.85"/>
<circle cx="315.2" cy="452.5" r="2.3" fill="#c89a60" fill-opacity="0.16" stroke="#ffffff" stroke-width="0.7" stroke-opacity="0.85"/>
<circle cx="330.1" cy="481.1" r="2.3" fill="#c89a60" fill-opacity="0.16" stroke="#ffffff" stroke-width="0.7" stroke-opacity="0.85"/>
<circle cx="322.0" cy="448.9" r="1.1" fill="#c89a60" fill-opacity="0.16" stroke="#ffffff" stroke-width="0.7" stroke-opacity="0.85"/>
<circle cx="335.7" cy="463.3" r="1.0" fill="#c89a60" fill-opacity="0.16" stroke="#ffffff" stroke-width="0.7" stroke-opacity="0.85"/>
<circle cx="330.5" cy="465.2" r="1.3" fill="#c89a60" fill-opacity="0.16" stroke="#a0a4b0" stroke-width="0.7" stroke-opacity="0.85"/>
<circle cx="324.8" cy="480.9" r="1.4" fill="#c89a60" fill-opacity="0.16" stroke="#ffffff" stroke-width="0.7" stroke-opacity="0.85"/>
<circle cx="308.4" cy="473.9" r="1.1" fill="#c89a60" fill-opacity="0.16" stroke="#a0a4b0" stroke-width="0.7" stroke-opacity="0.85"/>
<circle cx="344.3" cy="472.2" r="1.4" fill="#c89a60" fill-opacity="0.16" stroke="#a0a4b0" stroke-width="0.7" stroke-opacity="0.85"/>
<circle cx="339.7" cy="466.3" r="2.2" fill="#c89a60" fill-opacity="0.16" stroke="#ffffff" stroke-width="0.7" stroke-opacity="0.85"/>
<circle cx="336.2" cy="458.2" r="2.3" fill="#c89a60" fill-opacity="0.16" stroke="#ffffff" stroke-width="0.7" stroke-opacity="0.85"/>
<circle cx="332.4" cy="475.7" r="2.4" fill="#c89a60" fill-opacity="0.16" stroke="#ffffff" stroke-width="0.7" stroke-opacity="0.85"/>
<circle cx="315.5" cy="445.3" r="1.7" fill="#c89a60" fill-opacity="0.16" stroke="#ffffff" stroke-width="0.7" stroke-opacity="0.85"/>
<circle cx="335.2" cy="455.2" r="1.7" fill="#c89a60" fill-opacity="0.16" stroke="#ffffff" stroke-width="0.7" stroke-opacity="0.85"/>
<circle cx="326.6" cy="454.7" r="1.3" fill="#c89a60" fill-opacity="0.16" stroke="#ffffff" stroke-width="0.7" stroke-opacity="0.85"/>
<circle cx="348.1" cy="450.2" r="1.4" fill="#c89a60" fill-opacity="0.16" stroke="#a0a4b0" stroke-width="0.7" stroke-opacity="0.85"/>
<circle cx="332.4" cy="464.9" r="2.0" fill="#c89a60" fill-opacity="0.16" stroke="#ffffff" stroke-width="0.7" stroke-opacity="0.85"/>
<circle cx="318.2" cy="460.5" r="2.0" fill="#c89a60" fill-opacity="0.16" stroke="#a0a4b0" stroke-width="0.7" stroke-opacity="0.85"/>
<circle cx="326.4" cy="470.2" r="1.4" fill="#c89a60" fill-opacity="0.16" stroke="#a0a4b0" stroke-width="0.7" stroke-opacity="0.85"/>
<circle cx="348.2" cy="463.5" r="1.7" fill="#c89a60" fill-opacity="0.16" stroke="#ffffff" stroke-width="0.7" stroke-opacity="0.85"/>
<circle cx="345.4" cy="447.3" r="1.7" fill="#c89a60" fill-opacity="0.16" stroke="#ffffff" stroke-width="0.7" stroke-opacity="0.85"/>
<circle cx="318.0" cy="444.6" r="2.3" fill="#c89a60" fill-opacity="0.16" stroke="#ffffff" stroke-width="0.7" stroke-opacity="0.85"/>
<circle cx="313.0" cy="458.3" r="1.4" fill="#c89a60" fill-opacity="0.16" stroke="#a0a4b0" stroke-width="0.7" stroke-opacity="0.85"/>
<circle cx="306.7" cy="469.5" r="0.9" fill="#c89a60" fill-opacity="0.16" stroke="#ffffff" stroke-width="0.7" stroke-opacity="0.85"/>
<circle cx="323.2" cy="449.9" r="2.2" fill="#c89a60" fill-opacity="0.16" stroke="#ffffff" stroke-width="0.7" stroke-opacity="0.85"/>
<circle cx="324.3" cy="470.0" r="0.9" fill="#c89a60" fill-opacity="0.16" stroke="#ffffff" stroke-width="0.7" stroke-opacity="0.85"/>
<circle cx="332.6" cy="479.2" r="2.2" fill="#c89a60" fill-opacity="0.16" stroke="#ffffff" stroke-width="0.7" stroke-opacity="0.85"/>
<circle cx="323.4" cy="462.7" r="0.9" fill="#c89a60" fill-opacity="0.16" stroke="#ffffff" stroke-width="0.7" stroke-opacity="0.85"/>
<circle cx="305.2" cy="479.7" r="2.2" fill="#c89a60" fill-opacity="0.16" stroke="#ffffff" stroke-width="0.7" stroke-opacity="0.85"/>
<circle cx="310.1" cy="455.8" r="1.3" fill="#c89a60" fill-opacity="0.16" stroke="#ffffff" stroke-width="0.7" stroke-opacity="0.85"/>
<circle cx="347.9" cy="481.1" r="2.3" fill="#c89a60" fill-opacity="0.16" stroke="#a0a4b0" stroke-width="0.7" stroke-opacity="0.85"/>
<circle cx="344.2" cy="479.6" r="0.8" fill="#c89a60" fill-opacity="0.16" stroke="#ffffff" stroke-width="0.7" stroke-opacity="0.85"/>
<circle cx="341.2" cy="481.9" r="1.7" fill="#c89a60" fill-opacity="0.16" stroke="#ffffff" stroke-width="0.7" stroke-opacity="0.85"/>
<circle cx="347.7" cy="447.7" r="1.6" fill="#c89a60" fill-opacity="0.16" stroke="#ffffff" stroke-width="0.7" stroke-opacity="0.85"/>
<circle cx="308.9" cy="455.7" r="1.3" fill="#c89a60" fill-opacity="0.16" stroke="#ffffff" stroke-width="0.7" stroke-opacity="0.85"/>
<circle cx="323.3" cy="450.1" r="1.1" fill="#c89a60" fill-opacity="0.16" stroke="#ffffff" stroke-width="0.7" stroke-opacity="0.85"/>
<circle cx="303.8" cy="447.0" r="2.1" fill="#c89a60" fill-opacity="0.16" stroke="#ffffff" stroke-width="0.7" stroke-opacity="0.85"/>
<circle cx="343.0" cy="459.8" r="1.3" fill="#c89a60" fill-opacity="0.16" stroke="#ffffff" stroke-width="0.7" stroke-opacity="0.85"/>
<circle cx="322.2" cy="478.2" r="1.2" fill="#c89a60" fill-opacity="0.16" stroke="#ffffff" stroke-width="0.7" stroke-opacity="0.85"/>
<circle cx="331.3" cy="464.2" r="1.3" fill="#c89a60" fill-opacity="0.16" stroke="#ffffff" stroke-width="0.7" stroke-opacity="0.85"/>
<circle cx="325.2" cy="453.3" r="2.2" fill="#c89a60" fill-opacity="0.16" stroke="#a0a4b0" stroke-width="0.7" stroke-opacity="0.85"/>
<circle cx="313.2" cy="452.4" r="1.5" fill="#c89a60" fill-opacity="0.16" stroke="#a0a4b0" stroke-width="0.7" stroke-opacity="0.85"/>
<circle cx="340.6" cy="457.0" r="1.2" fill="#c89a60" fill-opacity="0.16" stroke="#ffffff" stroke-width="0.7" stroke-opacity="0.85"/>
<circle cx="331.8" cy="466.0" r="1.7" fill="#c89a60" fill-opacity="0.16" stroke="#ffffff" stroke-width="0.7" stroke-opacity="0.85"/>
<circle cx="312.5" cy="453.2" r="1.3" fill="#c89a60" fill-opacity="0.16" stroke="#ffffff" stroke-width="0.7" stroke-opacity="0.85"/>
<circle cx="338.6" cy="452.2" r="0.9" fill="#c89a60" fill-opacity="0.16" stroke="#a0a4b0" stroke-width="0.7" stroke-opacity="0.85"/>
<circle cx="329.2" cy="447.4" r="2.0" fill="#c89a60" fill-opacity="0.16" stroke="#a0a4b0" stroke-width="0.7" stroke-opacity="0.85"/>
<circle cx="324.6" cy="446.2" r="1.7" fill="#c89a60" fill-opacity="0.16" stroke="#a0a4b0" stroke-width="0.7" stroke-opacity="0.85"/>
<circle cx="321.2" cy="457.9" r="2.3" fill="#c89a60" fill-opacity="0.16" stroke="#ffffff" stroke-width="0.7" stroke-opacity="0.85"/>
<circle cx="350.8" cy="460.2" r="1.9" fill="#c89a60" fill-opacity="0.16" stroke="#a0a4b0" stroke-width="0.7" stroke-opacity="0.85"/>
<circle cx="319.7" cy="474.1" r="1.4" fill="#c89a60" fill-opacity="0.16" stroke="#ffffff" stroke-width="0.7" stroke-opacity="0.85"/>
<circle cx="330.2" cy="479.9" r="0.9" fill="#c89a60" fill-opacity="0.16" stroke="#ffffff" stroke-width="0.7" stroke-opacity="0.85"/>
<circle cx="306.2" cy="445.7" r="2.3" fill="#c89a60" fill-opacity="0.16" stroke="#ffffff" stroke-width="0.7" stroke-opacity="0.85"/>
<circle cx="346.8" cy="449.9" r="1.1" fill="#c89a60" fill-opacity="0.16" stroke="#ffffff" stroke-width="0.7" stroke-opacity="0.85"/>
<circle cx="348.9" cy="479.4" r="1.3" fill="#c89a60" fill-opacity="0.16" stroke="#a0a4b0" stroke-width="0.7" stroke-opacity="0.85"/>
<circle cx="310.5" cy="471.3" r="2.3" fill="#c89a60" fill-opacity="0.16" stroke="#a0a4b0" stroke-width="0.7" stroke-opacity="0.85"/>
<circle cx="315.0" cy="470.8" r="1.2" fill="#c89a60" fill-opacity="0.16" stroke="#ffffff" stroke-width="0.7" stroke-opacity="0.85"/>
<circle cx="321.1" cy="471.8" r="2.3" fill="#c89a60" fill-opacity="0.16" stroke="#a0a4b0" stroke-width="0.7" stroke-opacity="0.85"/>
<circle cx="347.9" cy="447.2" r="1.1" fill="#c89a60" fill-opacity="0.16" stroke="#ffffff" stroke-width="0.7" stroke-opacity="0.85"/>
<circle cx="335.6" cy="449.1" r="1.3" fill="#c89a60" fill-opacity="0.16" stroke="#ffffff" stroke-width="0.7" stroke-opacity="0.85"/>
<circle cx="316.7" cy="464.1" r="2.1" fill="#c89a60" fill-opacity="0.16" stroke="#ffffff" stroke-width="0.7" stroke-opacity="0.85"/>
<circle cx="339.6" cy="464.3" r="2.3" fill="#c89a60" fill-opacity="0.16" stroke="#ffffff" stroke-width="0.7" stroke-opacity="0.85"/>
<circle cx="334.5" cy="445.1" r="2.3" fill="#c89a60" fill-opacity="0.16" stroke="#a0a4b0" stroke-width="0.7" stroke-opacity="0.85"/>
<circle cx="311.3" cy="456.9" r="1.7" fill="#c89a60" fill-opacity="0.16" stroke="#ffffff" stroke-width="0.7" stroke-opacity="0.85"/>
<circle cx="326.5" cy="478.0" r="1.8" fill="#c89a60" fill-opacity="0.16" stroke="#ffffff" stroke-width="0.7" stroke-opacity="0.85"/>
<circle cx="332.1" cy="476.2" r="1.5" fill="#c89a60" fill-opacity="0.16" stroke="#a0a4b0" stroke-width="0.7" stroke-opacity="0.85"/>
<circle cx="310.7" cy="462.1" r="1.9" fill="#c89a60" fill-opacity="0.16" stroke="#ffffff" stroke-width="0.7" stroke-opacity="0.85"/>
<circle cx="339.6" cy="459.5" r="0.9" fill="#c89a60" fill-opacity="0.16" stroke="#a0a4b0" stroke-width="0.7" stroke-opacity="0.85"/>
<circle cx="305.9" cy="459.5" r="2.1" fill="#c89a60" fill-opacity="0.16" stroke="#ffffff" stroke-width="0.7" stroke-opacity="0.85"/>
<circle cx="304.3" cy="480.8" r="2.1" fill="none" stroke="#8a90a2" stroke-width="0.6" stroke-opacity="0.5"/>
<circle cx="307.9" cy="481.1" r="1.3" fill="none" stroke="#8a90a2" stroke-width="0.6" stroke-opacity="0.5"/>
<circle cx="310.6" cy="481.0" r="2.1" fill="none" stroke="#8a90a2" stroke-width="0.6" stroke-opacity="0.5"/>
<circle cx="313.6" cy="480.4" r="1.7" fill="none" stroke="#8a90a2" stroke-width="0.6" stroke-opacity="0.5"/>
<circle cx="317.0" cy="480.9" r="1.9" fill="none" stroke="#8a90a2" stroke-width="0.6" stroke-opacity="0.5"/>
<circle cx="319.5" cy="481.1" r="1.8" fill="none" stroke="#8a90a2" stroke-width="0.6" stroke-opacity="0.5"/>
<circle cx="322.9" cy="480.8" r="1.8" fill="none" stroke="#8a90a2" stroke-width="0.6" stroke-opacity="0.5"/>
<circle cx="325.6" cy="480.3" r="1.7" fill="none" stroke="#8a90a2" stroke-width="0.6" stroke-opacity="0.5"/>
<circle cx="329.0" cy="480.6" r="2.0" fill="none" stroke="#8a90a2" stroke-width="0.6" stroke-opacity="0.5"/>
<circle cx="332.0" cy="480.7" r="1.7" fill="none" stroke="#8a90a2" stroke-width="0.6" stroke-opacity="0.5"/>
<circle cx="335.2" cy="480.4" r="2.0" fill="none" stroke="#8a90a2" stroke-width="0.6" stroke-opacity="0.5"/>
<circle cx="337.6" cy="480.6" r="1.6" fill="none" stroke="#8a90a2" stroke-width="0.6" stroke-opacity="0.5"/>
<circle cx="341.0" cy="480.9" r="1.8" fill="none" stroke="#8a90a2" stroke-width="0.6" stroke-opacity="0.5"/>
<circle cx="343.9" cy="481.2" r="1.7" fill="none" stroke="#8a90a2" stroke-width="0.6" stroke-opacity="0.5"/>
<circle cx="346.4" cy="480.5" r="1.9" fill="none" stroke="#8a90a2" stroke-width="0.6" stroke-opacity="0.5"/>
<circle cx="350.0" cy="480.5" r="1.8" fill="none" stroke="#8a90a2" stroke-width="0.6" stroke-opacity="0.5"/>
<circle cx="352.7" cy="480.7" r="2.0" fill="none" stroke="#8a90a2" stroke-width="0.6" stroke-opacity="0.5"/>
<line x1="302.2" y1="420" x2="302.2" y2="511" stroke="#8c8a86" stroke-width="0.8" stroke-opacity="0.6"/>
<line x1="352.40000000000003" y1="420" x2="352.40000000000003" y2="511" stroke="#8c8a86" stroke-width="0.8" stroke-opacity="0.6"/>
<path d="M303,416 L351.6,416 L351.6,420.5 Q327.3,423.5 303,420.5 Z" fill="#1c2230" fill-opacity="0.9"/>
<path d="M304,421.3 Q327.3,424.3 350.6,421.3" fill="none" stroke="#dfe6f0" stroke-width="0.9" stroke-opacity="0.7"/>
<path d="M301.5,400 Q301,395.6 307,395.4 Q327.3,395 347.6,395.4 Q353.6,395.6 353.1,400 L353.6,417 Q327.3,420.5 301,417 Z" fill="url(#cap)"/>
<path d="M301.5,400 Q301,395.6 307,395.4 Q327.3,395 347.6,395.4 Q353.6,395.6 353.1,400 L353.6,417 Q327.3,420.5 301,417 Z" fill="url(#capx)"/>
<text x="325.20" y="412.20" font-size="15" font-weight="bold" fill="#fff" text-anchor="middle" textLength="15.5" lengthAdjust="spacingAndGlyphs" >8h</text>
<path d="M367.8,419 L419.2,419 L419.2,512 Q419.2,521 393.5,521.3 Q367.8,521 367.8,512 Z" fill="url(#glass)"/>
<rect x="368.8" y="421" width="49.4" height="26.5" fill="#d6d6d6" fill-opacity="0.12"/>
<rect x="368.8" y="483" width="49.4" height="25" fill="#fffaf0" fill-opacity="0.25"/>
<path d="M368.8,508.5 Q393.5,507.5 418.2,508.5 L418.2,512 Q418.2,520.3 393.5,520.6 Q368.8,520.3 368.8,512 Z" fill="#c8b08a" fill-opacity="0.45"/>
<path d="M369.3,509 Q393.5,507.8 417.7,509" fill="none" stroke="#fffaf0" stroke-width="1" stroke-opacity="0.8"/>
<path d="M369.8,510.3 Q393.5,509.3 417.2,510.3" fill="none" stroke="#6c7080" stroke-width="0.8" stroke-opacity="0.7"/>
<path d="M370.8,516 Q393.5,519.5 416.2,516" fill="none" stroke="#f4f6fa" stroke-width="1.6" stroke-opacity="0.85"/>
<rect x="368.8" y="447.5" width="49.4" height="35.5" fill="url(#foamb)" fill-opacity="0.8"/>
<circle cx="396.8" cy="450.4" r="1.9" fill="#c89a60" fill-opacity="0.16" stroke="#ffffff" stroke-width="0.7" stroke-opacity="0.85"/>
<circle cx="372.7" cy="453.3" r="1.3" fill="#c89a60" fill-opacity="0.16" stroke="#ffffff" stroke-width="0.7" stroke-opacity="0.85"/>
<circle cx="372.2" cy="457.9" r="1.3" fill="#c89a60" fill-opacity="0.16" stroke="#ffffff" stroke-width="0.7" stroke-opacity="0.85"/>
<circle cx="407.6" cy="457.0" r="3.2" fill="#c89a60" fill-opacity="0.16" stroke="#ffffff" stroke-width="0.7" stroke-opacity="0.85"/>
<circle cx="390.0" cy="467.1" r="3.3" fill="#c89a60" fill-opacity="0.16" stroke="#ffffff" stroke-width="0.7" stroke-opacity="0.85"/>
<circle cx="410.5" cy="453.6" r="1.9" fill="#c89a60" fill-opacity="0.16" stroke="#ffffff" stroke-width="0.7" stroke-opacity="0.85"/>
<circle cx="413.7" cy="470.2" r="2.7" fill="#c89a60" fill-opacity="0.16" stroke="#ffffff" stroke-width="0.7" stroke-opacity="0.85"/>
<circle cx="407.9" cy="481.3" r="3.2" fill="#c89a60" fill-opacity="0.16" stroke="#a0a4b0" stroke-width="0.7" stroke-opacity="0.85"/>
<circle cx="407.6" cy="472.3" r="3.0" fill="#c89a60" fill-opacity="0.16" stroke="#a0a4b0" stroke-width="0.7" stroke-opacity="0.85"/>
<circle cx="375.4" cy="464.4" r="2.8" fill="#c89a60" fill-opacity="0.16" stroke="#ffffff" stroke-width="0.7" stroke-opacity="0.85"/>
<circle cx="413.4" cy="449.3" r="2.3" fill="#c89a60" fill-opacity="0.16" stroke="#ffffff" stroke-width="0.7" stroke-opacity="0.85"/>
<circle cx="392.1" cy="470.1" r="2.7" fill="#c89a60" fill-opacity="0.16" stroke="#ffffff" stroke-width="0.7" stroke-opacity="0.85"/>
<circle cx="414.0" cy="470.1" r="1.3" fill="#c89a60" fill-opacity="0.16" stroke="#a0a4b0" stroke-width="0.7" stroke-opacity="0.85"/>
<circle cx="375.0" cy="481.4" r="3.1" fill="#c89a60" fill-opacity="0.16" stroke="#ffffff" stroke-width="0.7" stroke-opacity="0.85"/>
<circle cx="381.9" cy="468.9" r="2.9" fill="#c89a60" fill-opacity="0.16" stroke="#ffffff" stroke-width="0.7" stroke-opacity="0.85"/>
<circle cx="416.5" cy="469.4" r="1.5" fill="#c89a60" fill-opacity="0.16" stroke="#ffffff" stroke-width="0.7" stroke-opacity="0.85"/>
<circle cx="390.5" cy="462.2" r="2.1" fill="#c89a60" fill-opacity="0.16" stroke="#ffffff" stroke-width="0.7" stroke-opacity="0.85"/>
<circle cx="396.8" cy="480.1" r="2.6" fill="#c89a60" fill-opacity="0.16" stroke="#ffffff" stroke-width="0.7" stroke-opacity="0.85"/>
<circle cx="380.5" cy="472.3" r="1.3" fill="#c89a60" fill-opacity="0.16" stroke="#a0a4b0" stroke-width="0.7" stroke-opacity="0.85"/>
<circle cx="393.5" cy="481.3" r="1.7" fill="#c89a60" fill-opacity="0.16" stroke="#ffffff" stroke-width="0.7" stroke-opacity="0.85"/>
<circle cx="402.7" cy="465.8" r="1.9" fill="#c89a60" fill-opacity="0.16" stroke="#ffffff" stroke-width="0.7" stroke-opacity="0.85"/>
<circle cx="402.5" cy="449.4" r="1.8" fill="#c89a60" fill-opacity="0.16" stroke="#ffffff" stroke-width="0.7" stroke-opacity="0.85"/>
<circle cx="385.5" cy="479.6" r="3.2" fill="#c89a60" fill-opacity="0.16" stroke="#ffffff" stroke-width="0.7" stroke-opacity="0.85"/>
<circle cx="395.1" cy="468.0" r="1.9" fill="#c89a60" fill-opacity="0.16" stroke="#ffffff" stroke-width="0.7" stroke-opacity="0.85"/>
<circle cx="406.5" cy="459.7" r="1.8" fill="#c89a60" fill-opacity="0.16" stroke="#ffffff" stroke-width="0.7" stroke-opacity="0.85"/>
<circle cx="372.9" cy="451.7" r="2.8" fill="#c89a60" fill-opacity="0.16" stroke="#ffffff" stroke-width="0.7" stroke-opacity="0.85"/>
<circle cx="392.2" cy="473.4" r="1.7" fill="#c89a60" fill-opacity="0.16" stroke="#a0a4b0" stroke-width="0.7" stroke-opacity="0.85"/>
<circle cx="414.0" cy="460.7" r="2.2" fill="#c89a60" fill-opacity="0.16" stroke="#ffffff" stroke-width="0.7" stroke-opacity="0.85"/>
<circle cx="373.1" cy="450.2" r="2.0" fill="#c89a60" fill-opacity="0.16" stroke="#ffffff" stroke-width="0.7" stroke-opacity="0.85"/>
<circle cx="380.0" cy="479.3" r="2.9" fill="#c89a60" fill-opacity="0.16" stroke="#ffffff" stroke-width="0.7" stroke-opacity="0.85"/>
<circle cx="375.6" cy="463.0" r="2.7" fill="#c89a60" fill-opacity="0.16" stroke="#ffffff" stroke-width="0.7" stroke-opacity="0.85"/>
<circle cx="397.6" cy="462.6" r="1.2" fill="#c89a60" fill-opacity="0.16" stroke="#ffffff" stroke-width="0.7" stroke-opacity="0.85"/>
<circle cx="378.8" cy="474.2" r="1.3" fill="#c89a60" fill-opacity="0.16" stroke="#a0a4b0" stroke-width="0.7" stroke-opacity="0.85"/>
<circle cx="378.5" cy="481.0" r="2.9" fill="#c89a60" fill-opacity="0.16" stroke="#ffffff" stroke-width="0.7" stroke-opacity="0.85"/>
<circle cx="382.5" cy="475.2" r="1.3" fill="#c89a60" fill-opacity="0.16" stroke="#ffffff" stroke-width="0.7" stroke-opacity="0.85"/>
<circle cx="391.4" cy="463.0" r="1.4" fill="#c89a60" fill-opacity="0.16" stroke="#ffffff" stroke-width="0.7" stroke-opacity="0.85"/>
<circle cx="379.0" cy="457.0" r="3.2" fill="#c89a60" fill-opacity="0.16" stroke="#ffffff" stroke-width="0.7" stroke-opacity="0.85"/>
<circle cx="369.9" cy="464.1" r="2.6" fill="#c89a60" fill-opacity="0.16" stroke="#a0a4b0" stroke-width="0.7" stroke-opacity="0.85"/>
<circle cx="417.0" cy="465.2" r="2.9" fill="#c89a60" fill-opacity="0.16" stroke="#a0a4b0" stroke-width="0.7" stroke-opacity="0.85"/>
<circle cx="388.9" cy="470.3" r="2.7" fill="#c89a60" fill-opacity="0.16" stroke="#ffffff" stroke-width="0.7" stroke-opacity="0.85"/>
<circle cx="372.0" cy="472.3" r="1.5" fill="#c89a60" fill-opacity="0.16" stroke="#ffffff" stroke-width="0.7" stroke-opacity="0.85"/>
<circle cx="396.8" cy="462.0" r="2.0" fill="#c89a60" fill-opacity="0.16" stroke="#ffffff" stroke-width="0.7" stroke-opacity="0.85"/>
<circle cx="404.4" cy="469.2" r="1.7" fill="#c89a60" fill-opacity="0.16" stroke="#a0a4b0" stroke-width="0.7" stroke-opacity="0.85"/>
<circle cx="410.2" cy="464.8" r="2.5" fill="#c89a60" fill-opacity="0.16" stroke="#ffffff" stroke-width="0.7" stroke-opacity="0.85"/>
<circle cx="413.7" cy="469.9" r="1.9" fill="#c89a60" fill-opacity="0.16" stroke="#ffffff" stroke-width="0.7" stroke-opacity="0.85"/>
<circle cx="380.3" cy="477.5" r="2.3" fill="#c89a60" fill-opacity="0.16" stroke="#ffffff" stroke-width="0.7" stroke-opacity="0.85"/>
<circle cx="404.8" cy="477.6" r="1.6" fill="#c89a60" fill-opacity="0.16" stroke="#ffffff" stroke-width="0.7" stroke-opacity="0.85"/>
<circle cx="407.3" cy="472.2" r="2.2" fill="#c89a60" fill-opacity="0.16" stroke="#ffffff" stroke-width="0.7" stroke-opacity="0.85"/>
<circle cx="401.2" cy="455.4" r="2.2" fill="#c89a60" fill-opacity="0.16" stroke="#a0a4b0" stroke-width="0.7" stroke-opacity="0.85"/>
<circle cx="399.4" cy="462.3" r="1.9" fill="#c89a60" fill-opacity="0.16" stroke="#ffffff" stroke-width="0.7" stroke-opacity="0.85"/>
<circle cx="391.4" cy="464.4" r="3.1" fill="#c89a60" fill-opacity="0.16" stroke="#ffffff" stroke-width="0.7" stroke-opacity="0.85"/>
<circle cx="401.1" cy="471.2" r="2.3" fill="#c89a60" fill-opacity="0.16" stroke="#ffffff" stroke-width="0.7" stroke-opacity="0.85"/>
<circle cx="411.8" cy="451.0" r="1.7" fill="#c89a60" fill-opacity="0.16" stroke="#a0a4b0" stroke-width="0.7" stroke-opacity="0.85"/>
<circle cx="404.1" cy="480.3" r="2.6" fill="#c89a60" fill-opacity="0.16" stroke="#ffffff" stroke-width="0.7" stroke-opacity="0.85"/>
<circle cx="390.4" cy="470.4" r="1.7" fill="#c89a60" fill-opacity="0.16" stroke="#ffffff" stroke-width="0.7" stroke-opacity="0.85"/>
<circle cx="395.4" cy="481.3" r="2.0" fill="#c89a60" fill-opacity="0.16" stroke="#ffffff" stroke-width="0.7" stroke-opacity="0.85"/>
<circle cx="370.6" cy="462.4" r="2.9" fill="#c89a60" fill-opacity="0.16" stroke="#ffffff" stroke-width="0.7" stroke-opacity="0.85"/>
<circle cx="374.1" cy="461.2" r="3.1" fill="#c89a60" fill-opacity="0.16" stroke="#ffffff" stroke-width="0.7" stroke-opacity="0.85"/>
<circle cx="416.9" cy="455.1" r="3.2" fill="#c89a60" fill-opacity="0.16" stroke="#ffffff" stroke-width="0.7" stroke-opacity="0.85"/>
<circle cx="393.4" cy="450.2" r="1.7" fill="#c89a60" fill-opacity="0.16" stroke="#ffffff" stroke-width="0.7" stroke-opacity="0.85"/>
<circle cx="370.4" cy="480.2" r="1.9" fill="none" stroke="#8a90a2" stroke-width="0.6" stroke-opacity="0.5"/>
<circle cx="373.6" cy="480.8" r="1.7" fill="none" stroke="#8a90a2" stroke-width="0.6" stroke-opacity="0.5"/>
<circle cx="376.6" cy="480.5" r="1.6" fill="none" stroke="#8a90a2" stroke-width="0.6" stroke-opacity="0.5"/>
<circle cx="379.5" cy="481.2" r="1.9" fill="none" stroke="#8a90a2" stroke-width="0.6" stroke-opacity="0.5"/>
<circle cx="382.9" cy="480.4" r="1.7" fill="none" stroke="#8a90a2" stroke-width="0.6" stroke-opacity="0.5"/>
<circle cx="385.3" cy="480.4" r="1.6" fill="none" stroke="#8a90a2" stroke-width="0.6" stroke-opacity="0.5"/>
<circle cx="389.3" cy="480.9" r="2.0" fill="none" stroke="#8a90a2" stroke-width="0.6" stroke-opacity="0.5"/>
<circle cx="392.1" cy="480.7" r="1.7" fill="none" stroke="#8a90a2" stroke-width="0.6" stroke-opacity="0.5"/>
<circle cx="395.2" cy="480.2" r="1.8" fill="none" stroke="#8a90a2" stroke-width="0.6" stroke-opacity="0.5"/>
<circle cx="397.4" cy="481.2" r="1.7" fill="none" stroke="#8a90a2" stroke-width="0.6" stroke-opacity="0.5"/>
<circle cx="400.9" cy="480.8" r="1.3" fill="none" stroke="#8a90a2" stroke-width="0.6" stroke-opacity="0.5"/>
<circle cx="403.6" cy="480.8" r="1.3" fill="none" stroke="#8a90a2" stroke-width="0.6" stroke-opacity="0.5"/>
<circle cx="406.3" cy="480.7" r="1.4" fill="none" stroke="#8a90a2" stroke-width="0.6" stroke-opacity="0.5"/>
<circle cx="409.7" cy="481.0" r="1.9" fill="none" stroke="#8a90a2" stroke-width="0.6" stroke-opacity="0.5"/>
<circle cx="412.4" cy="480.6" r="1.7" fill="none" stroke="#8a90a2" stroke-width="0.6" stroke-opacity="0.5"/>
<circle cx="415.8" cy="480.8" r="1.6" fill="none" stroke="#8a90a2" stroke-width="0.6" stroke-opacity="0.5"/>
<circle cx="419.1" cy="480.6" r="2.0" fill="none" stroke="#8a90a2" stroke-width="0.6" stroke-opacity="0.5"/>
<line x1="368.2" y1="420" x2="368.2" y2="511" stroke="#8c8a86" stroke-width="0.8" stroke-opacity="0.6"/>
<line x1="418.8" y1="420" x2="418.8" y2="511" stroke="#8c8a86" stroke-width="0.8" stroke-opacity="0.6"/>
<path d="M369,416 L418,416 L418,420.5 Q393.5,423.5 369,420.5 Z" fill="#1c2230" fill-opacity="0.9"/>
<path d="M370,421.3 Q393.5,424.3 417,421.3" fill="none" stroke="#dfe6f0" stroke-width="0.9" stroke-opacity="0.7"/>
<path d="M367.5,400 Q367,395.6 373,395.4 Q393.5,395 414,395.4 Q420,395.6 419.5,400 L420,417 Q393.5,420.5 367,417 Z" fill="url(#cap)"/>
<path d="M367.5,400 Q367,395.6 373,395.4 Q393.5,395 414,395.4 Q420,395.6 419.5,400 L420,417 Q393.5,420.5 367,417 Z" fill="url(#capx)"/>
<text x="392.70" y="412.20" font-size="15" font-weight="bold" fill="#fff" text-anchor="middle" textLength="24.5" lengthAdjust="spacingAndGlyphs" >10h</text>
<path d="M433.8,419 L485.2,419 L485.2,512 Q485.2,521 459.5,521.3 Q433.8,521 433.8,512 Z" fill="url(#glass)"/>
<rect x="434.8" y="421" width="49.4" height="26" fill="#d6d6d6" fill-opacity="0.12"/>
<rect x="434.8" y="481.5" width="49.4" height="26.5" fill="#fffaf0" fill-opacity="0.25"/>
<path d="M434.8,508.5 Q459.5,507.5 484.2,508.5 L484.2,512 Q484.2,520.3 459.5,520.6 Q434.8,520.3 434.8,512 Z" fill="#c8b08a" fill-opacity="0.45"/>
<path d="M435.3,509 Q459.5,507.8 483.7,509" fill="none" stroke="#fffaf0" stroke-width="1" stroke-opacity="0.8"/>
<path d="M435.8,510.3 Q459.5,509.3 483.2,510.3" fill="none" stroke="#6c7080" stroke-width="0.8" stroke-opacity="0.7"/>
<path d="M436.8,516 Q459.5,519.5 482.2,516" fill="none" stroke="#f4f6fa" stroke-width="1.6" stroke-opacity="0.85"/>
<rect x="434.8" y="447" width="49.4" height="34.5" fill="url(#foamb)" fill-opacity="0.8"/>
<circle cx="464.8" cy="454.7" r="1.3" fill="#c89a60" fill-opacity="0.16" stroke="#ffffff" stroke-width="0.7" stroke-opacity="0.85"/>
<circle cx="466.0" cy="448.9" r="1.6" fill="#c89a60" fill-opacity="0.16" stroke="#ffffff" stroke-width="0.7" stroke-opacity="0.85"/>
<circle cx="459.0" cy="470.6" r="1.3" fill="#c89a60" fill-opacity="0.16" stroke="#ffffff" stroke-width="0.7" stroke-opacity="0.85"/>
<circle cx="476.5" cy="454.9" r="2.7" fill="#c89a60" fill-opacity="0.16" stroke="#ffffff" stroke-width="0.7" stroke-opacity="0.85"/>
<circle cx="451.8" cy="476.5" r="1.7" fill="#c89a60" fill-opacity="0.16" stroke="#ffffff" stroke-width="0.7" stroke-opacity="0.85"/>
<circle cx="469.0" cy="448.9" r="3.2" fill="#c89a60" fill-opacity="0.16" stroke="#ffffff" stroke-width="0.7" stroke-opacity="0.85"/>
<circle cx="464.7" cy="480.1" r="1.7" fill="#c89a60" fill-opacity="0.16" stroke="#a0a4b0" stroke-width="0.7" stroke-opacity="0.85"/>
<circle cx="464.3" cy="458.4" r="2.6" fill="#c89a60" fill-opacity="0.16" stroke="#ffffff" stroke-width="0.7" stroke-opacity="0.85"/>
<circle cx="473.1" cy="476.8" r="1.6" fill="#c89a60" fill-opacity="0.16" stroke="#a0a4b0" stroke-width="0.7" stroke-opacity="0.85"/>
<circle cx="479.2" cy="470.0" r="1.6" fill="#c89a60" fill-opacity="0.16" stroke="#ffffff" stroke-width="0.7" stroke-opacity="0.85"/>
<circle cx="464.5" cy="459.3" r="2.9" fill="#c89a60" fill-opacity="0.16" stroke="#ffffff" stroke-width="0.7" stroke-opacity="0.85"/>
<circle cx="477.1" cy="455.4" r="2.0" fill="#c89a60" fill-opacity="0.16" stroke="#a0a4b0" stroke-width="0.7" stroke-opacity="0.85"/>
<circle cx="459.2" cy="469.7" r="3.1" fill="#c89a60" fill-opacity="0.16" stroke="#ffffff" stroke-width="0.7" stroke-opacity="0.85"/>
<circle cx="472.1" cy="470.1" r="3.3" fill="#c89a60" fill-opacity="0.16" stroke="#ffffff" stroke-width="0.7" stroke-opacity="0.85"/>
<circle cx="440.3" cy="449.4" r="2.0" fill="#c89a60" fill-opacity="0.16" stroke="#ffffff" stroke-width="0.7" stroke-opacity="0.85"/>
<circle cx="464.2" cy="476.0" r="1.3" fill="#c89a60" fill-opacity="0.16" stroke="#ffffff" stroke-width="0.7" stroke-opacity="0.85"/>
<circle cx="455.6" cy="477.5" r="2.6" fill="#c89a60" fill-opacity="0.16" stroke="#ffffff" stroke-width="0.7" stroke-opacity="0.85"/>
<circle cx="437.9" cy="453.0" r="2.7" fill="#c89a60" fill-opacity="0.16" stroke="#ffffff" stroke-width="0.7" stroke-opacity="0.85"/>
<circle cx="458.0" cy="457.4" r="2.4" fill="#c89a60" fill-opacity="0.16" stroke="#ffffff" stroke-width="0.7" stroke-opacity="0.85"/>
<circle cx="447.6" cy="448.1" r="3.2" fill="#c89a60" fill-opacity="0.16" stroke="#ffffff" stroke-width="0.7" stroke-opacity="0.85"/>
<circle cx="448.2" cy="448.5" r="1.9" fill="#c89a60" fill-opacity="0.16" stroke="#a0a4b0" stroke-width="0.7" stroke-opacity="0.85"/>
<circle cx="448.5" cy="451.7" r="3.1" fill="#c89a60" fill-opacity="0.16" stroke="#ffffff" stroke-width="0.7" stroke-opacity="0.85"/>
<circle cx="467.9" cy="454.2" r="2.4" fill="#c89a60" fill-opacity="0.16" stroke="#ffffff" stroke-width="0.7" stroke-opacity="0.85"/>
<circle cx="468.6" cy="464.3" r="2.1" fill="#c89a60" fill-opacity="0.16" stroke="#ffffff" stroke-width="0.7" stroke-opacity="0.85"/>
<circle cx="453.0" cy="456.6" r="2.2" fill="#c89a60" fill-opacity="0.16" stroke="#a0a4b0" stroke-width="0.7" stroke-opacity="0.85"/>
<circle cx="449.3" cy="457.6" r="2.1" fill="#c89a60" fill-opacity="0.16" stroke="#ffffff" stroke-width="0.7" stroke-opacity="0.85"/>
<circle cx="465.2" cy="457.3" r="1.6" fill="#c89a60" fill-opacity="0.16" stroke="#ffffff" stroke-width="0.7" stroke-opacity="0.85"/>
<circle cx="468.6" cy="472.2" r="2.2" fill="#c89a60" fill-opacity="0.16" stroke="#ffffff" stroke-width="0.7" stroke-opacity="0.85"/>
<circle cx="459.6" cy="455.4" r="2.5" fill="#c89a60" fill-opacity="0.16" stroke="#a0a4b0" stroke-width="0.7" stroke-opacity="0.85"/>
<circle cx="439.3" cy="456.0" r="3.3" fill="#c89a60" fill-opacity="0.16" stroke="#ffffff" stroke-width="0.7" stroke-opacity="0.85"/>
<circle cx="460.2" cy="458.1" r="3.1" fill="#c89a60" fill-opacity="0.16" stroke="#ffffff" stroke-width="0.7" stroke-opacity="0.85"/>
<circle cx="482.7" cy="450.5" r="3.4" fill="#c89a60" fill-opacity="0.16" stroke="#ffffff" stroke-width="0.7" stroke-opacity="0.85"/>
<circle cx="476.9" cy="474.0" r="2.8" fill="#c89a60" fill-opacity="0.16" stroke="#ffffff" stroke-width="0.7" stroke-opacity="0.85"/>
<circle cx="457.0" cy="480.2" r="3.2" fill="#c89a60" fill-opacity="0.16" stroke="#ffffff" stroke-width="0.7" stroke-opacity="0.85"/>
<circle cx="463.4" cy="453.6" r="2.2" fill="#c89a60" fill-opacity="0.16" stroke="#a0a4b0" stroke-width="0.7" stroke-opacity="0.85"/>
<circle cx="467.8" cy="455.0" r="2.2" fill="#c89a60" fill-opacity="0.16" stroke="#ffffff" stroke-width="0.7" stroke-opacity="0.85"/>
<circle cx="482.7" cy="478.0" r="2.6" fill="#c89a60" fill-opacity="0.16" stroke="#ffffff" stroke-width="0.7" stroke-opacity="0.85"/>
<circle cx="446.2" cy="469.3" r="1.7" fill="#c89a60" fill-opacity="0.16" stroke="#ffffff" stroke-width="0.7" stroke-opacity="0.85"/>
<circle cx="447.3" cy="458.1" r="1.6" fill="#c89a60" fill-opacity="0.16" stroke="#ffffff" stroke-width="0.7" stroke-opacity="0.85"/>
<circle cx="482.1" cy="454.0" r="1.6" fill="#c89a60" fill-opacity="0.16" stroke="#a0a4b0" stroke-width="0.7" stroke-opacity="0.85"/>
<circle cx="471.7" cy="449.9" r="1.3" fill="#c89a60" fill-opacity="0.16" stroke="#a0a4b0" stroke-width="0.7" stroke-opacity="0.85"/>
<circle cx="473.3" cy="468.6" r="2.8" fill="#c89a60" fill-opacity="0.16" stroke="#ffffff" stroke-width="0.7" stroke-opacity="0.85"/>
<circle cx="466.4" cy="480.0" r="3.0" fill="#c89a60" fill-opacity="0.16" stroke="#a0a4b0" stroke-width="0.7" stroke-opacity="0.85"/>
<circle cx="450.9" cy="451.7" r="1.2" fill="#c89a60" fill-opacity="0.16" stroke="#ffffff" stroke-width="0.7" stroke-opacity="0.85"/>
<circle cx="476.8" cy="457.9" r="3.1" fill="#c89a60" fill-opacity="0.16" stroke="#ffffff" stroke-width="0.7" stroke-opacity="0.85"/>
<circle cx="454.2" cy="469.1" r="2.1" fill="#c89a60" fill-opacity="0.16" stroke="#ffffff" stroke-width="0.7" stroke-opacity="0.85"/>
<circle cx="447.2" cy="457.1" r="3.2" fill="#c89a60" fill-opacity="0.16" stroke="#ffffff" stroke-width="0.7" stroke-opacity="0.85"/>
<circle cx="438.9" cy="454.1" r="1.7" fill="#c89a60" fill-opacity="0.16" stroke="#ffffff" stroke-width="0.7" stroke-opacity="0.85"/>
<circle cx="480.2" cy="469.6" r="1.5" fill="#c89a60" fill-opacity="0.16" stroke="#ffffff" stroke-width="0.7" stroke-opacity="0.85"/>
<circle cx="480.1" cy="458.4" r="1.2" fill="#c89a60" fill-opacity="0.16" stroke="#ffffff" stroke-width="0.7" stroke-opacity="0.85"/>
<circle cx="459.1" cy="460.5" r="2.4" fill="#c89a60" fill-opacity="0.16" stroke="#ffffff" stroke-width="0.7" stroke-opacity="0.85"/>
<circle cx="441.3" cy="459.7" r="2.5" fill="#c89a60" fill-opacity="0.16" stroke="#ffffff" stroke-width="0.7" stroke-opacity="0.85"/>
<circle cx="454.3" cy="478.6" r="2.6" fill="#c89a60" fill-opacity="0.16" stroke="#a0a4b0" stroke-width="0.7" stroke-opacity="0.85"/>
<circle cx="445.5" cy="448.4" r="2.6" fill="#c89a60" fill-opacity="0.16" stroke="#a0a4b0" stroke-width="0.7" stroke-opacity="0.85"/>
<circle cx="457.1" cy="463.7" r="1.3" fill="#c89a60" fill-opacity="0.16" stroke="#ffffff" stroke-width="0.7" stroke-opacity="0.85"/>
<circle cx="442.0" cy="460.5" r="1.7" fill="#c89a60" fill-opacity="0.16" stroke="#ffffff" stroke-width="0.7" stroke-opacity="0.85"/>
<circle cx="465.2" cy="472.2" r="2.9" fill="#c89a60" fill-opacity="0.16" stroke="#ffffff" stroke-width="0.7" stroke-opacity="0.85"/>
<circle cx="452.4" cy="450.2" r="1.8" fill="#c89a60" fill-opacity="0.16" stroke="#ffffff" stroke-width="0.7" stroke-opacity="0.85"/>
<circle cx="478.3" cy="455.8" r="2.6" fill="#c89a60" fill-opacity="0.16" stroke="#a0a4b0" stroke-width="0.7" stroke-opacity="0.85"/>
<circle cx="439.9" cy="449.5" r="3.1" fill="#c89a60" fill-opacity="0.16" stroke="#ffffff" stroke-width="0.7" stroke-opacity="0.85"/>
<circle cx="436.9" cy="479.5" r="1.4" fill="none" stroke="#8a90a2" stroke-width="0.6" stroke-opacity="0.5"/>
<circle cx="439.8" cy="479.3" r="1.4" fill="none" stroke="#8a90a2" stroke-width="0.6" stroke-opacity="0.5"/>
<circle cx="442.8" cy="479.6" r="2.0" fill="none" stroke="#8a90a2" stroke-width="0.6" stroke-opacity="0.5"/>
<circle cx="446.1" cy="479.3" r="1.6" fill="none" stroke="#8a90a2" stroke-width="0.6" stroke-opacity="0.5"/>
<circle cx="449.0" cy="479.6" r="1.3" fill="none" stroke="#8a90a2" stroke-width="0.6" stroke-opacity="0.5"/>
<circle cx="451.6" cy="478.7" r="1.3" fill="none" stroke="#8a90a2" stroke-width="0.6" stroke-opacity="0.5"/>
<circle cx="455.1" cy="478.8" r="1.6" fill="none" stroke="#8a90a2" stroke-width="0.6" stroke-opacity="0.5"/>
<circle cx="458.1" cy="478.8" r="1.5" fill="none" stroke="#8a90a2" stroke-width="0.6" stroke-opacity="0.5"/>
<circle cx="460.6" cy="479.0" r="1.4" fill="none" stroke="#8a90a2" stroke-width="0.6" stroke-opacity="0.5"/>
<circle cx="464.1" cy="478.8" r="2.0" fill="none" stroke="#8a90a2" stroke-width="0.6" stroke-opacity="0.5"/>
<circle cx="466.4" cy="479.0" r="1.5" fill="none" stroke="#8a90a2" stroke-width="0.6" stroke-opacity="0.5"/>
<circle cx="469.6" cy="479.5" r="2.1" fill="none" stroke="#8a90a2" stroke-width="0.6" stroke-opacity="0.5"/>
<circle cx="472.4" cy="479.0" r="1.8" fill="none" stroke="#8a90a2" stroke-width="0.6" stroke-opacity="0.5"/>
<circle cx="475.9" cy="478.8" r="1.6" fill="none" stroke="#8a90a2" stroke-width="0.6" stroke-opacity="0.5"/>
<circle cx="478.6" cy="479.1" r="1.4" fill="none" stroke="#8a90a2" stroke-width="0.6" stroke-opacity="0.5"/>
<circle cx="481.7" cy="479.0" r="1.8" fill="none" stroke="#8a90a2" stroke-width="0.6" stroke-opacity="0.5"/>
<circle cx="485.0" cy="479.1" r="2.0" fill="none" stroke="#8a90a2" stroke-width="0.6" stroke-opacity="0.5"/>
<line x1="434.2" y1="420" x2="434.2" y2="511" stroke="#8c8a86" stroke-width="0.8" stroke-opacity="0.6"/>
<line x1="484.8" y1="420" x2="484.8" y2="511" stroke="#8c8a86" stroke-width="0.8" stroke-opacity="0.6"/>
<path d="M435,416 L484,416 L484,420.5 Q459.5,423.5 435,420.5 Z" fill="#1c2230" fill-opacity="0.9"/>
<path d="M436,421.3 Q459.5,424.3 483,421.3" fill="none" stroke="#dfe6f0" stroke-width="0.9" stroke-opacity="0.7"/>
<path d="M433.5,400 Q433,395.6 439,395.4 Q459.5,395 480,395.4 Q486,395.6 485.5,400 L486,417 Q459.5,420.5 433,417 Z" fill="url(#cap)"/>
<path d="M433.5,400 Q433,395.6 439,395.4 Q459.5,395 480,395.4 Q486,395.6 485.5,400 L486,417 Q459.5,420.5 433,417 Z" fill="url(#capx)"/>
<text x="460.00" y="412.20" font-size="15" font-weight="bold" fill="#fff" text-anchor="middle" textLength="24.5" lengthAdjust="spacingAndGlyphs" >12h</text>
<path d="M509.8,419 L560.7,419 L560.7,512 Q560.7,521 535.25,521.3 Q509.8,521 509.8,512 Z" fill="url(#glass)"/>
<rect x="510.8" y="421" width="48.9" height="28.5" fill="#d6d6d6" fill-opacity="0.12"/>
<rect x="510.8" y="482.5" width="48.9" height="25.5" fill="#fffaf0" fill-opacity="0.25"/>
<path d="M510.8,508.5 Q535.25,507.5 559.7,508.5 L559.7,512 Q559.7,520.3 535.25,520.6 Q510.8,520.3 510.8,512 Z" fill="#c8b08a" fill-opacity="0.45"/>
<path d="M511.3,509 Q535.25,507.8 559.2,509" fill="none" stroke="#fffaf0" stroke-width="1" stroke-opacity="0.8"/>
<path d="M511.8,510.3 Q535.25,509.3 558.7,510.3" fill="none" stroke="#6c7080" stroke-width="0.8" stroke-opacity="0.7"/>
<path d="M512.8,516 Q535.25,519.5 557.7,516" fill="none" stroke="#f4f6fa" stroke-width="1.6" stroke-opacity="0.85"/>
<rect x="510.8" y="449.5" width="48.9" height="33.0" fill="url(#foamb)" fill-opacity="0.8"/>
<circle cx="553.5" cy="459.1" r="1.7" fill="#c89a60" fill-opacity="0.16" stroke="#ffffff" stroke-width="0.7" stroke-opacity="0.85"/>
<circle cx="542.6" cy="480.3" r="1.5" fill="#c89a60" fill-opacity="0.16" stroke="#ffffff" stroke-width="0.7" stroke-opacity="0.85"/>
<circle cx="535.1" cy="453.3" r="2.9" fill="#c89a60" fill-opacity="0.16" stroke="#ffffff" stroke-width="0.7" stroke-opacity="0.85"/>
<circle cx="532.2" cy="468.4" r="1.7" fill="#c89a60" fill-opacity="0.16" stroke="#ffffff" stroke-width="0.7" stroke-opacity="0.85"/>
<circle cx="520.8" cy="464.4" r="3.1" fill="#c89a60" fill-opacity="0.16" stroke="#ffffff" stroke-width="0.7" stroke-opacity="0.85"/>
<circle cx="524.1" cy="461.8" r="2.7" fill="#c89a60" fill-opacity="0.16" stroke="#a0a4b0" stroke-width="0.7" stroke-opacity="0.85"/>
<circle cx="537.2" cy="458.6" r="2.0" fill="#c89a60" fill-opacity="0.16" stroke="#ffffff" stroke-width="0.7" stroke-opacity="0.85"/>
<circle cx="546.2" cy="454.1" r="2.7" fill="#c89a60" fill-opacity="0.16" stroke="#ffffff" stroke-width="0.7" stroke-opacity="0.85"/>
<circle cx="541.9" cy="465.0" r="2.3" fill="#c89a60" fill-opacity="0.16" stroke="#ffffff" stroke-width="0.7" stroke-opacity="0.85"/>
<circle cx="514.9" cy="472.7" r="1.7" fill="#c89a60" fill-opacity="0.16" stroke="#ffffff" stroke-width="0.7" stroke-opacity="0.85"/>
<circle cx="520.1" cy="464.9" r="2.2" fill="#c89a60" fill-opacity="0.16" stroke="#ffffff" stroke-width="0.7" stroke-opacity="0.85"/>
<circle cx="524.4" cy="467.9" r="1.7" fill="#c89a60" fill-opacity="0.16" stroke="#ffffff" stroke-width="0.7" stroke-opacity="0.85"/>
<circle cx="537.1" cy="469.7" r="3.2" fill="#c89a60" fill-opacity="0.16" stroke="#a0a4b0" stroke-width="0.7" stroke-opacity="0.85"/>
<circle cx="517.7" cy="469.1" r="2.7" fill="#c89a60" fill-opacity="0.16" stroke="#ffffff" stroke-width="0.7" stroke-opacity="0.85"/>
<circle cx="531.2" cy="456.2" r="2.8" fill="#c89a60" fill-opacity="0.16" stroke="#ffffff" stroke-width="0.7" stroke-opacity="0.85"/>
<circle cx="557.2" cy="452.3" r="1.4" fill="#c89a60" fill-opacity="0.16" stroke="#ffffff" stroke-width="0.7" stroke-opacity="0.85"/>
<circle cx="518.3" cy="471.5" r="1.8" fill="#c89a60" fill-opacity="0.16" stroke="#ffffff" stroke-width="0.7" stroke-opacity="0.85"/>
<circle cx="537.5" cy="477.0" r="2.0" fill="#c89a60" fill-opacity="0.16" stroke="#ffffff" stroke-width="0.7" stroke-opacity="0.85"/>
<circle cx="514.5" cy="470.6" r="2.2" fill="#c89a60" fill-opacity="0.16" stroke="#ffffff" stroke-width="0.7" stroke-opacity="0.85"/>
<circle cx="513.2" cy="455.5" r="1.3" fill="#c89a60" fill-opacity="0.16" stroke="#ffffff" stroke-width="0.7" stroke-opacity="0.85"/>
<circle cx="517.8" cy="469.2" r="3.0" fill="#c89a60" fill-opacity="0.16" stroke="#ffffff" stroke-width="0.7" stroke-opacity="0.85"/>
<circle cx="554.9" cy="462.1" r="2.6" fill="#c89a60" fill-opacity="0.16" stroke="#ffffff" stroke-width="0.7" stroke-opacity="0.85"/>
<circle cx="553.3" cy="467.7" r="2.5" fill="#c89a60" fill-opacity="0.16" stroke="#ffffff" stroke-width="0.7" stroke-opacity="0.85"/>
<circle cx="543.6" cy="480.7" r="1.8" fill="#c89a60" fill-opacity="0.16" stroke="#ffffff" stroke-width="0.7" stroke-opacity="0.85"/>
<circle cx="541.5" cy="465.0" r="1.2" fill="#c89a60" fill-opacity="0.16" stroke="#ffffff" stroke-width="0.7" stroke-opacity="0.85"/>
<circle cx="551.8" cy="465.4" r="3.2" fill="#c89a60" fill-opacity="0.16" stroke="#a0a4b0" stroke-width="0.7" stroke-opacity="0.85"/>
<circle cx="535.7" cy="452.3" r="1.5" fill="#c89a60" fill-opacity="0.16" stroke="#ffffff" stroke-width="0.7" stroke-opacity="0.85"/>
<circle cx="543.8" cy="481.2" r="2.9" fill="#c89a60" fill-opacity="0.16" stroke="#ffffff" stroke-width="0.7" stroke-opacity="0.85"/>
<circle cx="515.3" cy="469.4" r="2.1" fill="#c89a60" fill-opacity="0.16" stroke="#ffffff" stroke-width="0.7" stroke-opacity="0.85"/>
<circle cx="530.3" cy="479.0" r="2.3" fill="#c89a60" fill-opacity="0.16" stroke="#ffffff" stroke-width="0.7" stroke-opacity="0.85"/>
<circle cx="543.8" cy="477.0" r="1.4" fill="#c89a60" fill-opacity="0.16" stroke="#ffffff" stroke-width="0.7" stroke-opacity="0.85"/>
<circle cx="514.0" cy="462.9" r="1.4" fill="#c89a60" fill-opacity="0.16" stroke="#a0a4b0" stroke-width="0.7" stroke-opacity="0.85"/>
<circle cx="532.6" cy="468.1" r="1.4" fill="#c89a60" fill-opacity="0.16" stroke="#a0a4b0" stroke-width="0.7" stroke-opacity="0.85"/>
<circle cx="547.6" cy="464.3" r="1.8" fill="#c89a60" fill-opacity="0.16" stroke="#ffffff" stroke-width="0.7" stroke-opacity="0.85"/>
<circle cx="529.8" cy="478.8" r="2.8" fill="#c89a60" fill-opacity="0.16" stroke="#ffffff" stroke-width="0.7" stroke-opacity="0.85"/>
<circle cx="553.3" cy="465.5" r="1.5" fill="#c89a60" fill-opacity="0.16" stroke="#a0a4b0" stroke-width="0.7" stroke-opacity="0.85"/>
<circle cx="517.1" cy="477.7" r="2.8" fill="#c89a60" fill-opacity="0.16" stroke="#a0a4b0" stroke-width="0.7" stroke-opacity="0.85"/>
<circle cx="521.8" cy="464.3" r="2.5" fill="#c89a60" fill-opacity="0.16" stroke="#ffffff" stroke-width="0.7" stroke-opacity="0.85"/>
<circle cx="525.0" cy="452.0" r="2.8" fill="#c89a60" fill-opacity="0.16" stroke="#ffffff" stroke-width="0.7" stroke-opacity="0.85"/>
<circle cx="548.4" cy="453.9" r="1.3" fill="#c89a60" fill-opacity="0.16" stroke="#ffffff" stroke-width="0.7" stroke-opacity="0.85"/>
<circle cx="533.8" cy="478.4" r="2.9" fill="#c89a60" fill-opacity="0.16" stroke="#a0a4b0" stroke-width="0.7" stroke-opacity="0.85"/>
<circle cx="550.7" cy="478.7" r="1.6" fill="#c89a60" fill-opacity="0.16" stroke="#ffffff" stroke-width="0.7" stroke-opacity="0.85"/>
<circle cx="525.9" cy="478.9" r="1.7" fill="#c89a60" fill-opacity="0.16" stroke="#ffffff" stroke-width="0.7" stroke-opacity="0.85"/>
<circle cx="531.5" cy="455.4" r="2.2" fill="#c89a60" fill-opacity="0.16" stroke="#a0a4b0" stroke-width="0.7" stroke-opacity="0.85"/>
<circle cx="526.8" cy="472.9" r="3.2" fill="#c89a60" fill-opacity="0.16" stroke="#ffffff" stroke-width="0.7" stroke-opacity="0.85"/>
<circle cx="550.1" cy="457.9" r="3.1" fill="#c89a60" fill-opacity="0.16" stroke="#ffffff" stroke-width="0.7" stroke-opacity="0.85"/>
<circle cx="523.5" cy="467.6" r="1.9" fill="#c89a60" fill-opacity="0.16" stroke="#a0a4b0" stroke-width="0.7" stroke-opacity="0.85"/>
<circle cx="539.7" cy="458.6" r="1.7" fill="#c89a60" fill-opacity="0.16" stroke="#ffffff" stroke-width="0.7" stroke-opacity="0.85"/>
<circle cx="552.5" cy="479.5" r="1.7" fill="#c89a60" fill-opacity="0.16" stroke="#ffffff" stroke-width="0.7" stroke-opacity="0.85"/>
<circle cx="517.3" cy="453.5" r="1.6" fill="#c89a60" fill-opacity="0.16" stroke="#ffffff" stroke-width="0.7" stroke-opacity="0.85"/>
<circle cx="535.1" cy="470.5" r="2.0" fill="#c89a60" fill-opacity="0.16" stroke="#ffffff" stroke-width="0.7" stroke-opacity="0.85"/>
<circle cx="515.4" cy="457.5" r="2.5" fill="#c89a60" fill-opacity="0.16" stroke="#a0a4b0" stroke-width="0.7" stroke-opacity="0.85"/>
<circle cx="517.8" cy="472.3" r="2.5" fill="#c89a60" fill-opacity="0.16" stroke="#ffffff" stroke-width="0.7" stroke-opacity="0.85"/>
<circle cx="530.9" cy="470.6" r="2.0" fill="#c89a60" fill-opacity="0.16" stroke="#ffffff" stroke-width="0.7" stroke-opacity="0.85"/>
<circle cx="548.5" cy="454.3" r="1.8" fill="#c89a60" fill-opacity="0.16" stroke="#ffffff" stroke-width="0.7" stroke-opacity="0.85"/>
<circle cx="528.3" cy="476.8" r="3.0" fill="#c89a60" fill-opacity="0.16" stroke="#a0a4b0" stroke-width="0.7" stroke-opacity="0.85"/>
<circle cx="551.4" cy="462.5" r="2.6" fill="#c89a60" fill-opacity="0.16" stroke="#ffffff" stroke-width="0.7" stroke-opacity="0.85"/>
<circle cx="529.8" cy="468.1" r="3.3" fill="#c89a60" fill-opacity="0.16" stroke="#a0a4b0" stroke-width="0.7" stroke-opacity="0.85"/>
<circle cx="555.0" cy="459.9" r="2.0" fill="#c89a60" fill-opacity="0.16" stroke="#ffffff" stroke-width="0.7" stroke-opacity="0.85"/>
<circle cx="544.6" cy="480.9" r="2.4" fill="#c89a60" fill-opacity="0.16" stroke="#ffffff" stroke-width="0.7" stroke-opacity="0.85"/>
<circle cx="512.8" cy="479.9" r="1.7" fill="none" stroke="#8a90a2" stroke-width="0.6" stroke-opacity="0.5"/>
<circle cx="515.4" cy="480.6" r="1.9" fill="none" stroke="#8a90a2" stroke-width="0.6" stroke-opacity="0.5"/>
<circle cx="519.2" cy="479.9" r="2.0" fill="none" stroke="#8a90a2" stroke-width="0.6" stroke-opacity="0.5"/>
<circle cx="522.1" cy="480.4" r="1.7" fill="none" stroke="#8a90a2" stroke-width="0.6" stroke-opacity="0.5"/>
<circle cx="524.5" cy="480.1" r="1.9" fill="none" stroke="#8a90a2" stroke-width="0.6" stroke-opacity="0.5"/>
<circle cx="527.8" cy="480.7" r="1.6" fill="none" stroke="#8a90a2" stroke-width="0.6" stroke-opacity="0.5"/>
<circle cx="530.4" cy="480.0" r="1.7" fill="none" stroke="#8a90a2" stroke-width="0.6" stroke-opacity="0.5"/>
<circle cx="533.5" cy="480.2" r="1.7" fill="none" stroke="#8a90a2" stroke-width="0.6" stroke-opacity="0.5"/>
<circle cx="536.6" cy="480.2" r="1.7" fill="none" stroke="#8a90a2" stroke-width="0.6" stroke-opacity="0.5"/>
<circle cx="539.6" cy="480.6" r="1.8" fill="none" stroke="#8a90a2" stroke-width="0.6" stroke-opacity="0.5"/>
<circle cx="543.1" cy="480.0" r="1.4" fill="none" stroke="#8a90a2" stroke-width="0.6" stroke-opacity="0.5"/>
<circle cx="545.6" cy="480.1" r="1.4" fill="none" stroke="#8a90a2" stroke-width="0.6" stroke-opacity="0.5"/>
<circle cx="549.0" cy="480.2" r="1.4" fill="none" stroke="#8a90a2" stroke-width="0.6" stroke-opacity="0.5"/>
<circle cx="551.9" cy="480.4" r="1.6" fill="none" stroke="#8a90a2" stroke-width="0.6" stroke-opacity="0.5"/>
<circle cx="554.6" cy="480.4" r="1.4" fill="none" stroke="#8a90a2" stroke-width="0.6" stroke-opacity="0.5"/>
<circle cx="557.8" cy="480.7" r="1.4" fill="none" stroke="#8a90a2" stroke-width="0.6" stroke-opacity="0.5"/>
<line x1="510.2" y1="420" x2="510.2" y2="511" stroke="#8c8a86" stroke-width="0.8" stroke-opacity="0.6"/>
<line x1="560.3000000000001" y1="420" x2="560.3000000000001" y2="511" stroke="#8c8a86" stroke-width="0.8" stroke-opacity="0.6"/>
<path d="M511,416 L559.5,416 L559.5,420.5 Q535.25,423.5 511,420.5 Z" fill="#1c2230" fill-opacity="0.9"/>
<path d="M512,421.3 Q535.25,424.3 558.5,421.3" fill="none" stroke="#dfe6f0" stroke-width="0.9" stroke-opacity="0.7"/>
<path d="M509.5,400 Q509,395.6 515,395.4 Q535.25,395 555.5,395.4 Q561.5,395.6 561.0,400 L561.5,417 Q535.25,420.5 509,417 Z" fill="url(#cap)"/>
<path d="M509.5,400 Q509,395.6 515,395.4 Q535.25,395 555.5,395.4 Q561.5,395.6 561.0,400 L561.5,417 Q535.25,420.5 509,417 Z" fill="url(#capx)"/>
<text x="531.65" y="412.20" font-size="15" font-weight="bold" fill="#fff" text-anchor="middle" textLength="24.5" lengthAdjust="spacingAndGlyphs" >14h</text>
<path d="M583.8,419 L634.2,419 L634.2,512 Q634.2,521 609.0,521.3 Q583.8,521 583.8,512 Z" fill="url(#glass)"/>
<rect x="584.8" y="421" width="48.4" height="30" fill="#d6d6d6" fill-opacity="0.12"/>
<rect x="584.8" y="482.5" width="48.4" height="25.5" fill="#fffaf0" fill-opacity="0.25"/>
<path d="M584.8,508.5 Q609.0,507.5 633.2,508.5 L633.2,512 Q633.2,520.3 609.0,520.6 Q584.8,520.3 584.8,512 Z" fill="#c8b08a" fill-opacity="0.45"/>
<path d="M585.3,509 Q609.0,507.8 632.7,509" fill="none" stroke="#fffaf0" stroke-width="1" stroke-opacity="0.8"/>
<path d="M585.8,510.3 Q609.0,509.3 632.2,510.3" fill="none" stroke="#6c7080" stroke-width="0.8" stroke-opacity="0.7"/>
<path d="M586.8,516 Q609.0,519.5 631.2,516" fill="none" stroke="#f4f6fa" stroke-width="1.6" stroke-opacity="0.85"/>
<rect x="584.8" y="451" width="48.4" height="31.5" fill="url(#foamb)" fill-opacity="0.8"/>
<circle cx="600.3" cy="455.5" r="2.3" fill="#c89a60" fill-opacity="0.16" stroke="#ffffff" stroke-width="0.7" stroke-opacity="0.85"/>
<circle cx="623.2" cy="474.0" r="3.2" fill="#c89a60" fill-opacity="0.16" stroke="#ffffff" stroke-width="0.7" stroke-opacity="0.85"/>
<circle cx="590.1" cy="456.3" r="1.3" fill="#c89a60" fill-opacity="0.16" stroke="#a0a4b0" stroke-width="0.7" stroke-opacity="0.85"/>
<circle cx="630.5" cy="475.0" r="1.5" fill="#c89a60" fill-opacity="0.16" stroke="#a0a4b0" stroke-width="0.7" stroke-opacity="0.85"/>
<circle cx="607.4" cy="468.7" r="1.8" fill="#c89a60" fill-opacity="0.16" stroke="#ffffff" stroke-width="0.7" stroke-opacity="0.85"/>
<circle cx="590.6" cy="461.9" r="2.1" fill="#c89a60" fill-opacity="0.16" stroke="#ffffff" stroke-width="0.7" stroke-opacity="0.85"/>
<circle cx="611.2" cy="454.7" r="3.1" fill="#c89a60" fill-opacity="0.16" stroke="#ffffff" stroke-width="0.7" stroke-opacity="0.85"/>
<circle cx="601.9" cy="471.1" r="2.7" fill="#c89a60" fill-opacity="0.16" stroke="#a0a4b0" stroke-width="0.7" stroke-opacity="0.85"/>
<circle cx="605.0" cy="467.4" r="1.6" fill="#c89a60" fill-opacity="0.16" stroke="#ffffff" stroke-width="0.7" stroke-opacity="0.85"/>
<circle cx="587.7" cy="453.8" r="2.2" fill="#c89a60" fill-opacity="0.16" stroke="#a0a4b0" stroke-width="0.7" stroke-opacity="0.85"/>
<circle cx="613.5" cy="468.7" r="2.4" fill="#c89a60" fill-opacity="0.16" stroke="#ffffff" stroke-width="0.7" stroke-opacity="0.85"/>
<circle cx="585.9" cy="481.1" r="3.0" fill="#c89a60" fill-opacity="0.16" stroke="#ffffff" stroke-width="0.7" stroke-opacity="0.85"/>
<circle cx="614.9" cy="466.0" r="2.7" fill="#c89a60" fill-opacity="0.16" stroke="#ffffff" stroke-width="0.7" stroke-opacity="0.85"/>
<circle cx="594.1" cy="474.3" r="3.0" fill="#c89a60" fill-opacity="0.16" stroke="#a0a4b0" stroke-width="0.7" stroke-opacity="0.85"/>
<circle cx="615.8" cy="462.8" r="2.1" fill="#c89a60" fill-opacity="0.16" stroke="#ffffff" stroke-width="0.7" stroke-opacity="0.85"/>
<circle cx="628.0" cy="466.0" r="1.5" fill="#c89a60" fill-opacity="0.16" stroke="#ffffff" stroke-width="0.7" stroke-opacity="0.85"/>
<circle cx="590.0" cy="460.4" r="3.1" fill="#c89a60" fill-opacity="0.16" stroke="#ffffff" stroke-width="0.7" stroke-opacity="0.85"/>
<circle cx="606.1" cy="465.5" r="2.2" fill="#c89a60" fill-opacity="0.16" stroke="#ffffff" stroke-width="0.7" stroke-opacity="0.85"/>
<circle cx="622.6" cy="466.9" r="3.3" fill="#c89a60" fill-opacity="0.16" stroke="#ffffff" stroke-width="0.7" stroke-opacity="0.85"/>
<circle cx="630.9" cy="472.6" r="1.5" fill="#c89a60" fill-opacity="0.16" stroke="#ffffff" stroke-width="0.7" stroke-opacity="0.85"/>
<circle cx="611.9" cy="479.4" r="2.4" fill="#c89a60" fill-opacity="0.16" stroke="#ffffff" stroke-width="0.7" stroke-opacity="0.85"/>
<circle cx="616.8" cy="458.6" r="2.0" fill="#c89a60" fill-opacity="0.16" stroke="#ffffff" stroke-width="0.7" stroke-opacity="0.85"/>
<circle cx="600.5" cy="462.9" r="1.9" fill="#c89a60" fill-opacity="0.16" stroke="#a0a4b0" stroke-width="0.7" stroke-opacity="0.85"/>
<circle cx="588.5" cy="472.3" r="2.6" fill="#c89a60" fill-opacity="0.16" stroke="#ffffff" stroke-width="0.7" stroke-opacity="0.85"/>
<circle cx="594.0" cy="455.1" r="1.2" fill="#c89a60" fill-opacity="0.16" stroke="#a0a4b0" stroke-width="0.7" stroke-opacity="0.85"/>
<circle cx="594.4" cy="476.1" r="3.3" fill="#c89a60" fill-opacity="0.16" stroke="#a0a4b0" stroke-width="0.7" stroke-opacity="0.85"/>
<circle cx="594.6" cy="461.3" r="2.9" fill="#c89a60" fill-opacity="0.16" stroke="#ffffff" stroke-width="0.7" stroke-opacity="0.85"/>
<circle cx="587.8" cy="466.4" r="1.4" fill="#c89a60" fill-opacity="0.16" stroke="#ffffff" stroke-width="0.7" stroke-opacity="0.85"/>
<circle cx="622.6" cy="459.7" r="3.0" fill="#c89a60" fill-opacity="0.16" stroke="#ffffff" stroke-width="0.7" stroke-opacity="0.85"/>
<circle cx="613.7" cy="480.3" r="3.3" fill="#c89a60" fill-opacity="0.16" stroke="#a0a4b0" stroke-width="0.7" stroke-opacity="0.85"/>
<circle cx="625.3" cy="461.7" r="3.2" fill="#c89a60" fill-opacity="0.16" stroke="#a0a4b0" stroke-width="0.7" stroke-opacity="0.85"/>
<circle cx="591.4" cy="460.9" r="2.2" fill="#c89a60" fill-opacity="0.16" stroke="#ffffff" stroke-width="0.7" stroke-opacity="0.85"/>
<circle cx="595.3" cy="478.5" r="3.1" fill="#c89a60" fill-opacity="0.16" stroke="#ffffff" stroke-width="0.7" stroke-opacity="0.85"/>
<circle cx="588.1" cy="460.4" r="1.8" fill="#c89a60" fill-opacity="0.16" stroke="#ffffff" stroke-width="0.7" stroke-opacity="0.85"/>
<circle cx="604.3" cy="454.3" r="3.1" fill="#c89a60" fill-opacity="0.16" stroke="#ffffff" stroke-width="0.7" stroke-opacity="0.85"/>
<circle cx="589.1" cy="459.2" r="2.8" fill="#c89a60" fill-opacity="0.16" stroke="#ffffff" stroke-width="0.7" stroke-opacity="0.85"/>
<circle cx="606.1" cy="466.7" r="2.9" fill="#c89a60" fill-opacity="0.16" stroke="#ffffff" stroke-width="0.7" stroke-opacity="0.85"/>
<circle cx="604.9" cy="468.1" r="2.1" fill="#c89a60" fill-opacity="0.16" stroke="#ffffff" stroke-width="0.7" stroke-opacity="0.85"/>
<circle cx="602.9" cy="465.5" r="1.3" fill="#c89a60" fill-opacity="0.16" stroke="#ffffff" stroke-width="0.7" stroke-opacity="0.85"/>
<circle cx="622.8" cy="454.7" r="2.6" fill="#c89a60" fill-opacity="0.16" stroke="#ffffff" stroke-width="0.7" stroke-opacity="0.85"/>
<circle cx="599.6" cy="460.8" r="1.5" fill="#c89a60" fill-opacity="0.16" stroke="#ffffff" stroke-width="0.7" stroke-opacity="0.85"/>
<circle cx="623.1" cy="469.6" r="2.8" fill="#c89a60" fill-opacity="0.16" stroke="#ffffff" stroke-width="0.7" stroke-opacity="0.85"/>
<circle cx="602.5" cy="465.1" r="2.4" fill="#c89a60" fill-opacity="0.16" stroke="#ffffff" stroke-width="0.7" stroke-opacity="0.85"/>
<circle cx="605.2" cy="463.9" r="3.0" fill="#c89a60" fill-opacity="0.16" stroke="#ffffff" stroke-width="0.7" stroke-opacity="0.85"/>
<circle cx="590.3" cy="463.4" r="1.8" fill="#c89a60" fill-opacity="0.16" stroke="#ffffff" stroke-width="0.7" stroke-opacity="0.85"/>
<circle cx="622.6" cy="476.7" r="3.2" fill="#c89a60" fill-opacity="0.16" stroke="#a0a4b0" stroke-width="0.7" stroke-opacity="0.85"/>
<circle cx="617.1" cy="465.6" r="2.4" fill="#c89a60" fill-opacity="0.16" stroke="#ffffff" stroke-width="0.7" stroke-opacity="0.85"/>
<circle cx="624.5" cy="476.4" r="2.4" fill="#c89a60" fill-opacity="0.16" stroke="#ffffff" stroke-width="0.7" stroke-opacity="0.85"/>
<circle cx="613.6" cy="455.9" r="1.2" fill="#c89a60" fill-opacity="0.16" stroke="#a0a4b0" stroke-width="0.7" stroke-opacity="0.85"/>
<circle cx="627.4" cy="460.0" r="3.2" fill="#c89a60" fill-opacity="0.16" stroke="#ffffff" stroke-width="0.7" stroke-opacity="0.85"/>
<circle cx="591.0" cy="470.7" r="3.0" fill="#c89a60" fill-opacity="0.16" stroke="#ffffff" stroke-width="0.7" stroke-opacity="0.85"/>
<circle cx="586.1" cy="458.6" r="2.8" fill="#c89a60" fill-opacity="0.16" stroke="#ffffff" stroke-width="0.7" stroke-opacity="0.85"/>
<circle cx="630.4" cy="464.1" r="2.2" fill="#c89a60" fill-opacity="0.16" stroke="#ffffff" stroke-width="0.7" stroke-opacity="0.85"/>
<circle cx="613.1" cy="472.7" r="1.4" fill="#c89a60" fill-opacity="0.16" stroke="#ffffff" stroke-width="0.7" stroke-opacity="0.85"/>
<circle cx="608.0" cy="462.0" r="1.4" fill="#c89a60" fill-opacity="0.16" stroke="#ffffff" stroke-width="0.7" stroke-opacity="0.85"/>
<circle cx="629.2" cy="455.7" r="2.2" fill="#c89a60" fill-opacity="0.16" stroke="#ffffff" stroke-width="0.7" stroke-opacity="0.85"/>
<circle cx="611.4" cy="466.8" r="1.6" fill="#c89a60" fill-opacity="0.16" stroke="#ffffff" stroke-width="0.7" stroke-opacity="0.85"/>
<circle cx="604.8" cy="465.9" r="2.2" fill="#c89a60" fill-opacity="0.16" stroke="#ffffff" stroke-width="0.7" stroke-opacity="0.85"/>
<circle cx="629.4" cy="479.5" r="3.2" fill="#c89a60" fill-opacity="0.16" stroke="#a0a4b0" stroke-width="0.7" stroke-opacity="0.85"/>
<circle cx="618.6" cy="457.8" r="3.2" fill="#c89a60" fill-opacity="0.16" stroke="#ffffff" stroke-width="0.7" stroke-opacity="0.85"/>
<circle cx="586.9" cy="480.4" r="2.1" fill="none" stroke="#8a90a2" stroke-width="0.6" stroke-opacity="0.5"/>
<circle cx="589.6" cy="480.7" r="1.4" fill="none" stroke="#8a90a2" stroke-width="0.6" stroke-opacity="0.5"/>
<circle cx="592.5" cy="480.0" r="2.0" fill="none" stroke="#8a90a2" stroke-width="0.6" stroke-opacity="0.5"/>
<circle cx="595.3" cy="480.5" r="1.5" fill="none" stroke="#8a90a2" stroke-width="0.6" stroke-opacity="0.5"/>
<circle cx="599.1" cy="479.8" r="1.5" fill="none" stroke="#8a90a2" stroke-width="0.6" stroke-opacity="0.5"/>
<circle cx="601.4" cy="479.7" r="2.1" fill="none" stroke="#8a90a2" stroke-width="0.6" stroke-opacity="0.5"/>
<circle cx="605.0" cy="480.2" r="1.9" fill="none" stroke="#8a90a2" stroke-width="0.6" stroke-opacity="0.5"/>
<circle cx="608.1" cy="480.2" r="1.5" fill="none" stroke="#8a90a2" stroke-width="0.6" stroke-opacity="0.5"/>
<circle cx="610.8" cy="480.0" r="1.6" fill="none" stroke="#8a90a2" stroke-width="0.6" stroke-opacity="0.5"/>
<circle cx="613.9" cy="480.6" r="2.1" fill="none" stroke="#8a90a2" stroke-width="0.6" stroke-opacity="0.5"/>
<circle cx="616.5" cy="480.5" r="2.1" fill="none" stroke="#8a90a2" stroke-width="0.6" stroke-opacity="0.5"/>
<circle cx="620.3" cy="479.8" r="2.0" fill="none" stroke="#8a90a2" stroke-width="0.6" stroke-opacity="0.5"/>
<circle cx="623.1" cy="479.9" r="1.8" fill="none" stroke="#8a90a2" stroke-width="0.6" stroke-opacity="0.5"/>
<circle cx="625.4" cy="480.0" r="2.0" fill="none" stroke="#8a90a2" stroke-width="0.6" stroke-opacity="0.5"/>
<circle cx="629.1" cy="480.7" r="1.3" fill="none" stroke="#8a90a2" stroke-width="0.6" stroke-opacity="0.5"/>
<circle cx="632.0" cy="480.2" r="2.0" fill="none" stroke="#8a90a2" stroke-width="0.6" stroke-opacity="0.5"/>
<line x1="584.1999999999999" y1="420" x2="584.1999999999999" y2="511" stroke="#8c8a86" stroke-width="0.8" stroke-opacity="0.6"/>
<line x1="633.8000000000001" y1="420" x2="633.8000000000001" y2="511" stroke="#8c8a86" stroke-width="0.8" stroke-opacity="0.6"/>
<path d="M585,416 L633,416 L633,420.5 Q609.0,423.5 585,420.5 Z" fill="#1c2230" fill-opacity="0.9"/>
<path d="M586,421.3 Q609.0,424.3 632,421.3" fill="none" stroke="#dfe6f0" stroke-width="0.9" stroke-opacity="0.7"/>
<path d="M583.5,400 Q583,395.6 589,395.4 Q609.0,395 629,395.4 Q635,395.6 634.5,400 L635,417 Q609.0,420.5 583,417 Z" fill="url(#cap)"/>
<path d="M583.5,400 Q583,395.6 589,395.4 Q609.0,395 629,395.4 Q635,395.6 634.5,400 L635,417 Q609.0,420.5 583,417 Z" fill="url(#capx)"/>
<text x="607.00" y="412.20" font-size="15" font-weight="bold" fill="#fff" text-anchor="middle" textLength="24.5" lengthAdjust="spacingAndGlyphs" >16h</text>
<rect x="627" y="505" width="44.5" height="19.5" fill="#000"/>
<text x="649.60" y="515.80" font-size="12.5" font-weight="bold" fill="#fff" text-anchor="middle" textLength="27" lengthAdjust="spacingAndGlyphs" >1 cm</text>
<rect x="638.3" y="519.6" width="24.8" height="2.3" fill="#fff"/>
<text x="3.60" y="576.70" font-size="14" font-weight="bold" fill="#000" text-anchor="start" >c</text>
<defs><linearGradient id="barc" x1="0" y1="0" x2="0" y2="1"><stop offset="0" stop-color="#b1520f"/><stop offset="0.3" stop-color="#b95a16"/><stop offset="1" stop-color="#f08b2e"/></linearGradient></defs>
<rect x="47" y="736.8" width="19.5" height="45.0" fill="url(#barc)"/>
<path d="M53.05,738.0 H60.45 M56.75,738.0 V742.2 M53.05,742.2 H60.45" stroke="#000" stroke-width="1.5" fill="none"/>
<rect x="80.6" y="634.1" width="20.1" height="147.7" fill="url(#barc)"/>
<path d="M86.95,635.3 H94.35000000000001 M90.65,635.3 V639.5 M86.95,639.5 H94.35000000000001" stroke="#000" stroke-width="1.5" fill="none"/>
<rect x="114" y="645.5" width="20.0" height="136.3" fill="url(#barc)"/>
<path d="M120.3,646.7 H127.7 M124.0,646.7 V650.9 M120.3,650.9 H127.7" stroke="#000" stroke-width="1.5" fill="none"/>
<rect x="147.7" y="599.8" width="20.3" height="182.0" fill="url(#barc)"/>
<path d="M154.15,601.0 H161.54999999999998 M157.85,601.0 V605.2 M154.15,605.2 H161.54999999999998" stroke="#000" stroke-width="1.5" fill="none"/>
<rect x="181" y="609.1" width="20.5" height="172.7" fill="url(#barc)"/>
<path d="M187.55,610.3 H194.95 M191.25,610.3 V614.5 M187.55,614.5 H194.95" stroke="#000" stroke-width="1.5" fill="none"/>
<rect x="40.6" y="578" width="168.1" height="207.6" fill="none" stroke="#000" stroke-width="1.5"/>
<line x1="36.8" y1="785.60" x2="40.6" y2="785.60" stroke="#000" stroke-width="1.3"/>
<text x="34.20" y="790.20" font-size="13" font-weight="bold" fill="#000" text-anchor="end" >0</text>
<line x1="38.6" y1="775.22" x2="40.6" y2="775.22" stroke="#000" stroke-width="1.3"/>
<line x1="36.8" y1="764.84" x2="40.6" y2="764.84" stroke="#000" stroke-width="1.3"/>
<text x="34.20" y="769.44" font-size="13" font-weight="bold" fill="#000" text-anchor="end" >2</text>
<line x1="38.6" y1="754.46" x2="40.6" y2="754.46" stroke="#000" stroke-width="1.3"/>
<line x1="36.8" y1="744.08" x2="40.6" y2="744.08" stroke="#000" stroke-width="1.3"/>
<text x="34.20" y="748.68" font-size="13" font-weight="bold" fill="#000" text-anchor="end" >4</text>
<line x1="38.6" y1="733.70" x2="40.6" y2="733.70" stroke="#000" stroke-width="1.3"/>
<line x1="36.8" y1="723.32" x2="40.6" y2="723.32" stroke="#000" stroke-width="1.3"/>
<text x="34.20" y="727.92" font-size="13" font-weight="bold" fill="#000" text-anchor="end" >6</text>
<line x1="38.6" y1="712.94" x2="40.6" y2="712.94" stroke="#000" stroke-width="1.3"/>
<line x1="36.8" y1="702.56" x2="40.6" y2="702.56" stroke="#000" stroke-width="1.3"/>
<text x="34.20" y="707.16" font-size="13" font-weight="bold" fill="#000" text-anchor="end" >8</text>
<line x1="38.6" y1="692.18" x2="40.6" y2="692.18" stroke="#000" stroke-width="1.3"/>
<line x1="36.8" y1="681.80" x2="40.6" y2="681.80" stroke="#000" stroke-width="1.3"/>
<text x="34.20" y="686.40" font-size="13" font-weight="bold" fill="#000" text-anchor="end" >10</text>
<line x1="38.6" y1="671.42" x2="40.6" y2="671.42" stroke="#000" stroke-width="1.3"/>
<line x1="36.8" y1="661.04" x2="40.6" y2="661.04" stroke="#000" stroke-width="1.3"/>
<text x="34.20" y="665.64" font-size="13" font-weight="bold" fill="#000" text-anchor="end" >12</text>
<line x1="38.6" y1="650.66" x2="40.6" y2="650.66" stroke="#000" stroke-width="1.3"/>
<line x1="36.8" y1="640.28" x2="40.6" y2="640.28" stroke="#000" stroke-width="1.3"/>
<text x="34.20" y="644.88" font-size="13" font-weight="bold" fill="#000" text-anchor="end" >14</text>
<line x1="38.6" y1="629.90" x2="40.6" y2="629.90" stroke="#000" stroke-width="1.3"/>
<line x1="36.8" y1="619.52" x2="40.6" y2="619.52" stroke="#000" stroke-width="1.3"/>
<text x="34.20" y="624.12" font-size="13" font-weight="bold" fill="#000" text-anchor="end" >16</text>
<line x1="38.6" y1="609.14" x2="40.6" y2="609.14" stroke="#000" stroke-width="1.3"/>
<line x1="36.8" y1="598.76" x2="40.6" y2="598.76" stroke="#000" stroke-width="1.3"/>
<text x="34.20" y="603.36" font-size="13" font-weight="bold" fill="#000" text-anchor="end" >18</text>
<line x1="38.6" y1="588.38" x2="40.6" y2="588.38" stroke="#000" stroke-width="1.3"/>
<line x1="36.8" y1="578.00" x2="40.6" y2="578.00" stroke="#000" stroke-width="1.3"/>
<text x="34.20" y="582.60" font-size="13" font-weight="bold" fill="#000" text-anchor="end" >20</text>
<text x="0.00" y="0.00" font-size="14" font-weight="bold" fill="#000" text-anchor="start" textLength="141" lengthAdjust="spacingAndGlyphs" transform="translate(12.1,767.8) rotate(-90)">Foaming height (cm)</text>
<text x="0.00" y="0.00" font-size="13.6" font-weight="bold" fill="#000" text-anchor="end" transform="translate(67.3,794.2) rotate(-45)">PP-T1-S</text>
<text x="0.00" y="0.00" font-size="13.6" font-weight="bold" fill="#000" text-anchor="end" transform="translate(101.2,794.2) rotate(-45)">PP-T2-S</text>
<text x="0.00" y="0.00" font-size="13.6" font-weight="bold" fill="#000" text-anchor="end" transform="translate(134.6,794.2) rotate(-45)">PP-TW-S</text>
<text x="0.00" y="0.00" font-size="13.6" font-weight="bold" fill="#000" text-anchor="end" transform="translate(168.4,794.2) rotate(-45)">SLS</text>
<text x="0.00" y="0.00" font-size="13.6" font-weight="bold" fill="#000" text-anchor="end" transform="translate(201.8,794.2) rotate(-45)">SDBS</text>
<text x="227.00" y="578.20" font-size="14" font-weight="bold" fill="#000" text-anchor="start" >d</text>
<rect x="259.3" y="698.3" width="13.6" height="89.9" fill="#a67c1c"/>
<rect x="272.8" y="777.8" width="13.8" height="10.4" fill="#7f0000"/>
<rect x="293.1" y="618.3" width="13.6" height="169.9" fill="#a67c1c"/>
<rect x="306.6" y="686.6" width="13.8" height="101.6" fill="#7f0000"/>
<rect x="326.9" y="651.4" width="13.6" height="136.8" fill="#a67c1c"/>
<rect x="340.4" y="750.9" width="13.8" height="37.3" fill="#7f0000"/>
<rect x="360.7" y="684.6" width="13.6" height="103.6" fill="#a67c1c"/>
<rect x="374.2" y="701.2" width="13.8" height="87.0" fill="#7f0000"/>
<rect x="394.5" y="639.0" width="13.6" height="149.2" fill="#a67c1c"/>
<rect x="408.0" y="680.4" width="13.8" height="107.8" fill="#7f0000"/>
<rect x="256.2" y="580.8" width="168.9" height="207.4" fill="none" stroke="#000" stroke-width="1.5"/>
<line x1="252.2" y1="788.20" x2="256.2" y2="788.20" stroke="#000" stroke-width="1.3"/>
<text x="249.00" y="792.80" font-size="13" font-weight="bold" fill="#000" text-anchor="end" >0</text>
<line x1="254.2" y1="767.48" x2="256.2" y2="767.48" stroke="#000" stroke-width="1.3"/>
<line x1="252.2" y1="746.75" x2="256.2" y2="746.75" stroke="#000" stroke-width="1.3"/>
<text x="249.00" y="751.35" font-size="13" font-weight="bold" fill="#000" text-anchor="end" >1</text>
<line x1="254.2" y1="726.03" x2="256.2" y2="726.03" stroke="#000" stroke-width="1.3"/>
<line x1="252.2" y1="705.30" x2="256.2" y2="705.30" stroke="#000" stroke-width="1.3"/>
<text x="249.00" y="709.90" font-size="13" font-weight="bold" fill="#000" text-anchor="end" >2</text>
<line x1="254.2" y1="684.58" x2="256.2" y2="684.58" stroke="#000" stroke-width="1.3"/>
<line x1="252.2" y1="663.85" x2="256.2" y2="663.85" stroke="#000" stroke-width="1.3"/>
<text x="249.00" y="668.45" font-size="13" font-weight="bold" fill="#000" text-anchor="end" >3</text>
<line x1="254.2" y1="643.12" x2="256.2" y2="643.12" stroke="#000" stroke-width="1.3"/>
<line x1="252.2" y1="622.40" x2="256.2" y2="622.40" stroke="#000" stroke-width="1.3"/>
<text x="249.00" y="627.00" font-size="13" font-weight="bold" fill="#000" text-anchor="end" >4</text>
<line x1="254.2" y1="601.68" x2="256.2" y2="601.68" stroke="#000" stroke-width="1.3"/>
<line x1="252.2" y1="580.95" x2="256.2" y2="580.95" stroke="#000" stroke-width="1.3"/>
<text x="249.00" y="585.55" font-size="13" font-weight="bold" fill="#000" text-anchor="end" >5</text>
<line x1="272.8" y1="788" x2="272.8" y2="792" stroke="#000" stroke-width="1.3"/>
<line x1="289.7" y1="788" x2="289.7" y2="790.3" stroke="#000" stroke-width="1.3"/>
<text x="0.00" y="0.00" font-size="14.2" font-weight="bold" fill="#000" text-anchor="end" transform="translate(284.7,799) rotate(-45)">PP-T1-S</text>
<line x1="306.6" y1="788" x2="306.6" y2="792" stroke="#000" stroke-width="1.3"/>
<line x1="323.5" y1="788" x2="323.5" y2="790.3" stroke="#000" stroke-width="1.3"/>
<text x="0.00" y="0.00" font-size="14.2" font-weight="bold" fill="#000" text-anchor="end" transform="translate(318.5,799) rotate(-45)">PP-T2-S</text>
<line x1="340.4" y1="788" x2="340.4" y2="792" stroke="#000" stroke-width="1.3"/>
<line x1="357.29999999999995" y1="788" x2="357.29999999999995" y2="790.3" stroke="#000" stroke-width="1.3"/>
<text x="0.00" y="0.00" font-size="14.2" font-weight="bold" fill="#000" text-anchor="end" transform="translate(352.3,799) rotate(-45)">PP-TW-S</text>
<line x1="374.2" y1="788" x2="374.2" y2="792" stroke="#000" stroke-width="1.3"/>
<line x1="391.09999999999997" y1="788" x2="391.09999999999997" y2="790.3" stroke="#000" stroke-width="1.3"/>
<text x="0.00" y="0.00" font-size="14.2" font-weight="bold" fill="#000" text-anchor="end" transform="translate(386.1,799) rotate(-45)">SLS</text>
<line x1="408.0" y1="788" x2="408.0" y2="792" stroke="#000" stroke-width="1.3"/>
<line x1="424.9" y1="788" x2="424.9" y2="790.3" stroke="#000" stroke-width="1.3"/>
<text x="0.00" y="0.00" font-size="14.2" font-weight="bold" fill="#000" text-anchor="end" transform="translate(419.9,799) rotate(-45)">SDBS</text>
<text x="0.00" y="0.00" font-size="13.5" font-weight="bold" fill="#000" text-anchor="start" textLength="141.5" lengthAdjust="spacingAndGlyphs" transform="translate(228.5,765.8) rotate(-90)">Detergency (arb.unit)</text>
<rect x="300" y="584.5" width="27.6" height="13" fill="#a67c1c"/>
<rect x="300" y="602.7" width="27.6" height="13.3" fill="#7f0000"/>
<text x="332.00" y="596.30" font-size="14" font-weight="bold" fill="#000" text-anchor="start" textLength="85" lengthAdjust="spacingAndGlyphs" >Sebum stain</text>
<text x="332.00" y="614.40" font-size="14" font-weight="bold" fill="#000" text-anchor="start" textLength="87" lengthAdjust="spacingAndGlyphs" >Protein stain</text>
<text x="434.00" y="578.30" font-size="14" font-weight="bold" fill="#000" text-anchor="start" >e</text>
<line x1="479" y1="789.20" x2="483" y2="789.20" stroke="#000" stroke-width="1.3"/>
<line x1="481" y1="783.08" x2="483" y2="783.08" stroke="#000" stroke-width="0.9"/>
<line x1="481" y1="777.24" x2="483" y2="777.24" stroke="#000" stroke-width="0.9"/>
<line x1="481" y1="771.66" x2="483" y2="771.66" stroke="#000" stroke-width="0.9"/>
<line x1="481" y1="766.32" x2="483" y2="766.32" stroke="#000" stroke-width="0.9"/>
<line x1="481" y1="761.20" x2="483" y2="761.20" stroke="#000" stroke-width="0.9"/>
<line x1="481" y1="756.27" x2="483" y2="756.27" stroke="#000" stroke-width="0.9"/>
<line x1="481" y1="751.54" x2="483" y2="751.54" stroke="#000" stroke-width="0.9"/>
<line x1="481" y1="746.97" x2="483" y2="746.97" stroke="#000" stroke-width="0.9"/>
<line x1="481" y1="742.57" x2="483" y2="742.57" stroke="#000" stroke-width="0.9"/>
<line x1="479" y1="738.31" x2="483" y2="738.31" stroke="#000" stroke-width="1.3"/>
<line x1="481" y1="734.20" x2="483" y2="734.20" stroke="#000" stroke-width="0.9"/>
<line x1="481" y1="730.21" x2="483" y2="730.21" stroke="#000" stroke-width="0.9"/>
<line x1="481" y1="726.35" x2="483" y2="726.35" stroke="#000" stroke-width="0.9"/>
<line x1="481" y1="722.60" x2="483" y2="722.60" stroke="#000" stroke-width="0.9"/>
<line x1="481" y1="718.96" x2="483" y2="718.96" stroke="#000" stroke-width="0.9"/>
<line x1="481" y1="715.43" x2="483" y2="715.43" stroke="#000" stroke-width="0.9"/>
<line x1="481" y1="711.99" x2="483" y2="711.99" stroke="#000" stroke-width="0.9"/>
<line x1="481" y1="708.64" x2="483" y2="708.64" stroke="#000" stroke-width="0.9"/>
<line x1="481" y1="705.38" x2="483" y2="705.38" stroke="#000" stroke-width="0.9"/>
<line x1="479" y1="702.20" x2="483" y2="702.20" stroke="#000" stroke-width="1.3"/>
<line x1="481" y1="699.11" x2="483" y2="699.11" stroke="#000" stroke-width="0.9"/>
<line x1="481" y1="696.08" x2="483" y2="696.08" stroke="#000" stroke-width="0.9"/>
<line x1="481" y1="693.13" x2="483" y2="693.13" stroke="#000" stroke-width="0.9"/>
<line x1="481" y1="690.24" x2="483" y2="690.24" stroke="#000" stroke-width="0.9"/>
<line x1="481" y1="687.42" x2="483" y2="687.42" stroke="#000" stroke-width="0.9"/>
<line x1="481" y1="684.66" x2="483" y2="684.66" stroke="#000" stroke-width="0.9"/>
<line x1="481" y1="681.96" x2="483" y2="681.96" stroke="#000" stroke-width="0.9"/>
<line x1="481" y1="679.32" x2="483" y2="679.32" stroke="#000" stroke-width="0.9"/>
<line x1="481" y1="676.73" x2="483" y2="676.73" stroke="#000" stroke-width="0.9"/>
<line x1="479" y1="674.20" x2="483" y2="674.20" stroke="#000" stroke-width="1.3"/>
<line x1="481" y1="671.71" x2="483" y2="671.71" stroke="#000" stroke-width="0.9"/>
<line x1="481" y1="669.28" x2="483" y2="669.28" stroke="#000" stroke-width="0.9"/>
<line x1="481" y1="666.88" x2="483" y2="666.88" stroke="#000" stroke-width="0.9"/>
<line x1="481" y1="664.54" x2="483" y2="664.54" stroke="#000" stroke-width="0.9"/>
<line x1="481" y1="662.24" x2="483" y2="662.24" stroke="#000" stroke-width="0.9"/>
<line x1="481" y1="659.97" x2="483" y2="659.97" stroke="#000" stroke-width="0.9"/>
<line x1="481" y1="657.75" x2="483" y2="657.75" stroke="#000" stroke-width="0.9"/>
<line x1="481" y1="655.57" x2="483" y2="655.57" stroke="#000" stroke-width="0.9"/>
<line x1="481" y1="653.42" x2="483" y2="653.42" stroke="#000" stroke-width="0.9"/>
<line x1="479" y1="651.31" x2="483" y2="651.31" stroke="#000" stroke-width="1.3"/>
<line x1="481" y1="649.24" x2="483" y2="649.24" stroke="#000" stroke-width="0.9"/>
<line x1="481" y1="647.20" x2="483" y2="647.20" stroke="#000" stroke-width="0.9"/>
<line x1="481" y1="645.19" x2="483" y2="645.19" stroke="#000" stroke-width="0.9"/>
<line x1="481" y1="643.21" x2="483" y2="643.21" stroke="#000" stroke-width="0.9"/>
<line x1="481" y1="641.27" x2="483" y2="641.27" stroke="#000" stroke-width="0.9"/>
<line x1="481" y1="639.35" x2="483" y2="639.35" stroke="#000" stroke-width="0.9"/>
<line x1="481" y1="637.46" x2="483" y2="637.46" stroke="#000" stroke-width="0.9"/>
<line x1="481" y1="635.60" x2="483" y2="635.60" stroke="#000" stroke-width="0.9"/>
<line x1="481" y1="633.77" x2="483" y2="633.77" stroke="#000" stroke-width="0.9"/>
<line x1="479" y1="631.97" x2="483" y2="631.97" stroke="#000" stroke-width="1.3"/>
<line x1="481" y1="630.19" x2="483" y2="630.19" stroke="#000" stroke-width="0.9"/>
<line x1="481" y1="628.43" x2="483" y2="628.43" stroke="#000" stroke-width="0.9"/>
<line x1="481" y1="626.70" x2="483" y2="626.70" stroke="#000" stroke-width="0.9"/>
<line x1="481" y1="624.99" x2="483" y2="624.99" stroke="#000" stroke-width="0.9"/>
<line x1="481" y1="623.31" x2="483" y2="623.31" stroke="#000" stroke-width="0.9"/>
<line x1="481" y1="621.64" x2="483" y2="621.64" stroke="#000" stroke-width="0.9"/>
<line x1="481" y1="620.00" x2="483" y2="620.00" stroke="#000" stroke-width="0.9"/>
<line x1="481" y1="618.38" x2="483" y2="618.38" stroke="#000" stroke-width="0.9"/>
<line x1="481" y1="616.79" x2="483" y2="616.79" stroke="#000" stroke-width="0.9"/>
<line x1="479" y1="615.21" x2="483" y2="615.21" stroke="#000" stroke-width="1.3"/>
<line x1="481" y1="613.65" x2="483" y2="613.65" stroke="#000" stroke-width="0.9"/>
<line x1="481" y1="612.11" x2="483" y2="612.11" stroke="#000" stroke-width="0.9"/>
<line x1="481" y1="610.59" x2="483" y2="610.59" stroke="#000" stroke-width="0.9"/>
<line x1="481" y1="609.08" x2="483" y2="609.08" stroke="#000" stroke-width="0.9"/>
<line x1="481" y1="607.60" x2="483" y2="607.60" stroke="#000" stroke-width="0.9"/>
<line x1="481" y1="606.13" x2="483" y2="606.13" stroke="#000" stroke-width="0.9"/>
<line x1="481" y1="604.68" x2="483" y2="604.68" stroke="#000" stroke-width="0.9"/>
<line x1="481" y1="603.24" x2="483" y2="603.24" stroke="#000" stroke-width="0.9"/>
<line x1="481" y1="601.83" x2="483" y2="601.83" stroke="#000" stroke-width="0.9"/>
<line x1="479" y1="600.42" x2="483" y2="600.42" stroke="#000" stroke-width="1.3"/>
<line x1="481" y1="599.04" x2="483" y2="599.04" stroke="#000" stroke-width="0.9"/>
<line x1="481" y1="597.67" x2="483" y2="597.67" stroke="#000" stroke-width="0.9"/>
<line x1="481" y1="596.31" x2="483" y2="596.31" stroke="#000" stroke-width="0.9"/>
<line x1="481" y1="594.97" x2="483" y2="594.97" stroke="#000" stroke-width="0.9"/>
<line x1="481" y1="593.64" x2="483" y2="593.64" stroke="#000" stroke-width="0.9"/>
<line x1="481" y1="592.32" x2="483" y2="592.32" stroke="#000" stroke-width="0.9"/>
<line x1="481" y1="591.02" x2="483" y2="591.02" stroke="#000" stroke-width="0.9"/>
<line x1="481" y1="589.74" x2="483" y2="589.74" stroke="#000" stroke-width="0.9"/>
<line x1="481" y1="588.46" x2="483" y2="588.46" stroke="#000" stroke-width="0.9"/>
<line x1="479" y1="587.20" x2="483" y2="587.20" stroke="#000" stroke-width="1.3"/>
<line x1="481" y1="585.95" x2="483" y2="585.95" stroke="#000" stroke-width="0.9"/>
<line x1="481" y1="584.71" x2="483" y2="584.71" stroke="#000" stroke-width="0.9"/>
<line x1="481" y1="583.49" x2="483" y2="583.49" stroke="#000" stroke-width="0.9"/>
<line x1="481" y1="582.28" x2="483" y2="582.28" stroke="#000" stroke-width="0.9"/>
<text x="475.80" y="592.20" font-size="14" font-weight="bold" fill="#000" text-anchor="end" textLength="6" lengthAdjust="spacingAndGlyphs" >1</text>
<text x="475.80" y="605.42" font-size="14" font-weight="bold" fill="#000" text-anchor="end" textLength="17.5" lengthAdjust="spacingAndGlyphs" >0.9</text>
<text x="475.80" y="620.21" font-size="14" font-weight="bold" fill="#000" text-anchor="end" textLength="17.5" lengthAdjust="spacingAndGlyphs" >0.8</text>
<text x="475.80" y="636.97" font-size="14" font-weight="bold" fill="#000" text-anchor="end" textLength="17.5" lengthAdjust="spacingAndGlyphs" >0.7</text>
<text x="475.80" y="656.31" font-size="14" font-weight="bold" fill="#000" text-anchor="end" textLength="17.5" lengthAdjust="spacingAndGlyphs" >0.6</text>
<text x="475.80" y="679.20" font-size="14" font-weight="bold" fill="#000" text-anchor="end" textLength="17.5" lengthAdjust="spacingAndGlyphs" >0.5</text>
<text x="475.80" y="707.20" font-size="14" font-weight="bold" fill="#000" text-anchor="end" textLength="17.5" lengthAdjust="spacingAndGlyphs" >0.4</text>
<text x="475.80" y="743.31" font-size="14" font-weight="bold" fill="#000" text-anchor="end" textLength="17.5" lengthAdjust="spacingAndGlyphs" >0.3</text>
<text x="475.80" y="794.20" font-size="14" font-weight="bold" fill="#000" text-anchor="end" textLength="17.5" lengthAdjust="spacingAndGlyphs" >0.2</text>
<line x1="483.00" y1="789.4" x2="483.00" y2="793" stroke="#000" stroke-width="1.3"/>
<line x1="494.06" y1="789.4" x2="494.06" y2="791.3" stroke="#000" stroke-width="1.3"/>
<text x="483.00" y="807.00" font-size="13" font-weight="bold" fill="#000" text-anchor="middle" >0</text>
<line x1="505.13" y1="789.4" x2="505.13" y2="793" stroke="#000" stroke-width="1.3"/>
<line x1="516.20" y1="789.4" x2="516.20" y2="791.3" stroke="#000" stroke-width="1.3"/>
<text x="505.13" y="807.00" font-size="13" font-weight="bold" fill="#000" text-anchor="middle" >1</text>
<line x1="527.26" y1="789.4" x2="527.26" y2="793" stroke="#000" stroke-width="1.3"/>
<line x1="538.33" y1="789.4" x2="538.33" y2="791.3" stroke="#000" stroke-width="1.3"/>
<text x="527.26" y="807.00" font-size="13" font-weight="bold" fill="#000" text-anchor="middle" >2</text>
<line x1="549.39" y1="789.4" x2="549.39" y2="793" stroke="#000" stroke-width="1.3"/>
<line x1="560.46" y1="789.4" x2="560.46" y2="791.3" stroke="#000" stroke-width="1.3"/>
<text x="549.39" y="807.00" font-size="13" font-weight="bold" fill="#000" text-anchor="middle" >3</text>
<line x1="571.52" y1="789.4" x2="571.52" y2="793" stroke="#000" stroke-width="1.3"/>
<line x1="582.59" y1="789.4" x2="582.59" y2="791.3" stroke="#000" stroke-width="1.3"/>
<text x="571.52" y="807.00" font-size="13" font-weight="bold" fill="#000" text-anchor="middle" >4</text>
<line x1="593.65" y1="789.4" x2="593.65" y2="793" stroke="#000" stroke-width="1.3"/>
<line x1="604.72" y1="789.4" x2="604.72" y2="791.3" stroke="#000" stroke-width="1.3"/>
<text x="593.65" y="807.00" font-size="13" font-weight="bold" fill="#000" text-anchor="middle" >5</text>
<line x1="615.78" y1="789.4" x2="615.78" y2="793" stroke="#000" stroke-width="1.3"/>
<line x1="626.85" y1="789.4" x2="626.85" y2="791.3" stroke="#000" stroke-width="1.3"/>
<text x="615.78" y="807.00" font-size="13" font-weight="bold" fill="#000" text-anchor="middle" >6</text>
<line x1="637.91" y1="789.4" x2="637.91" y2="793" stroke="#000" stroke-width="1.3"/>
<text x="637.91" y="807.00" font-size="13" font-weight="bold" fill="#000" text-anchor="middle" >7</text>
<text x="561.00" y="820.30" font-size="14" font-weight="bold" fill="#000" text-anchor="middle" textLength="68" lengthAdjust="spacingAndGlyphs" >Time (day)</text>
<text x="0.00" y="0.00" font-size="15" font-weight="bold" fill="#000" text-anchor="start" font-style="italic" transform="translate(447.8,707) rotate(-90)">C<tspan font-size="10.5" dy="4">t</tspan><tspan dy="-4">/C</tspan><tspan font-size="10.5" dy="4">0</tspan></text>
<defs><clipPath id="pe"><rect x="483.6" y="581.6" width="164.4" height="207.2"/></clipPath></defs><g clip-path="url(#pe)">
<line x1="483.0" y1="582.2" x2="637.91" y2="654.4" stroke="#000" stroke-width="2" stroke-dasharray="7 3 1.8 3"/>
<line x1="483.0" y1="590.3" x2="637.91" y2="717.2" stroke="#ff1414" stroke-width="2" stroke-dasharray="7 3 1.8 3"/>
<line x1="483.0" y1="581.8" x2="637.91" y2="733" stroke="#1aa3ee" stroke-width="2" stroke-dasharray="7 3 1.8 3"/>
<rect x="480.0" y="584.2" width="6.1" height="6.1" fill="#555"/>
<rect x="546.4" y="604.3" width="6.1" height="6.1" fill="#555"/>
<rect x="590.6" y="613.9" width="6.1" height="6.1" fill="#555"/>
<rect x="634.9" y="679.8" width="6.1" height="6.1" fill="#555"/>
<circle cx="483.0" cy="587.2" r="3.6" fill="#f04646"/>
<circle cx="549.4" cy="663.8" r="3.6" fill="#f04646"/>
<circle cx="593.6" cy="671.0" r="3.6" fill="#f04646"/>
<circle cx="637.9" cy="707.0" r="3.6" fill="#f04646"/>
<polygon points="483.0,583.2 487.0,589.9 479.0,589.9" fill="#2466dd"/>
<polygon points="549.4,618.3 553.4,625.0 545.4,625.0" fill="#2466dd"/>
<polygon points="593.6,697.0 597.6,703.7 589.6,703.7" fill="#2466dd"/>
<polygon points="637.9,766.6 641.9,773.3 633.9,773.3" fill="#2466dd"/>
</g>
<rect x="483" y="581" width="165.5" height="208.4" fill="none" stroke="#000" stroke-width="1.5"/>
<rect x="500.6" y="729.3" width="6.1" height="6.1" fill="#555"/>
<circle cx="503.5" cy="752.7" r="3.6" fill="#f04646"/>
<polygon points="503.5,770 507.5,776.7 499.5,776.7" fill="#2466dd"/>
<text x="524.00" y="736.60" font-size="17.4" font-weight="bold" fill="#000" text-anchor="start" textLength="46.5" lengthAdjust="spacingAndGlyphs" >SDBS</text>
<text x="524.00" y="758.80" font-size="17.4" font-weight="bold" fill="#000" text-anchor="start" textLength="64.5" lengthAdjust="spacingAndGlyphs" >PP-T2-S</text>
<text x="524.00" y="780.00" font-size="17.4" font-weight="bold" fill="#000" text-anchor="start" textLength="64.5" lengthAdjust="spacingAndGlyphs" >PP-T1-S</text>
</svg></body></html>
